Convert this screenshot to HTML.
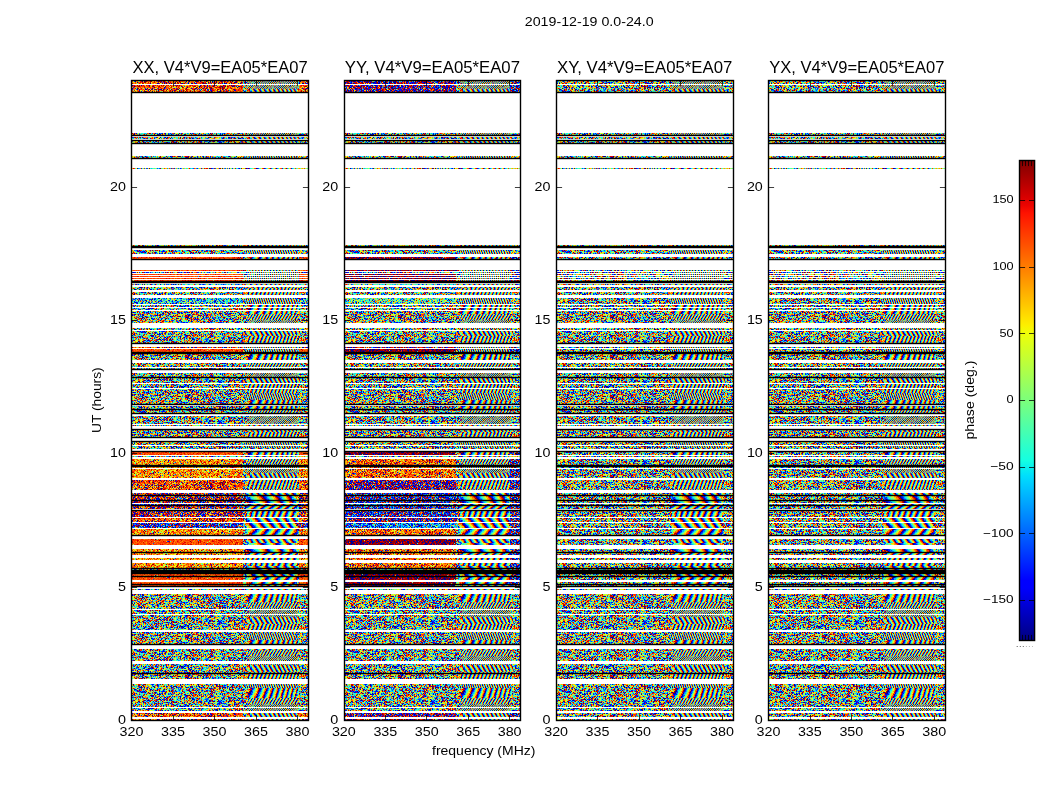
<!DOCTYPE html>
<html><head><meta charset="utf-8"><title>phase</title>
<style>html,body{margin:0;padding:0;background:#fff}svg{display:block}text{font-family:"Liberation Sans", sans-serif;fill:#000}</style>
</head><body>
<svg width="1050" height="800" viewBox="0 0 1050 800">
<defs><pattern id="Ln" width="111" height="40" patternUnits="userSpaceOnUse"><rect width="111" height="40" fill="#009"/><g transform="translate(0,.5)" fill="none" stroke-width="1" shape-rendering="crispEdges"><path stroke="#00d" d="M13 0h1M47 0h1M65 0h1M77 0h1M92 0h1M102 0h1M6 1h1M10 1h1M72 1h1M78 1h1M100 1h1M108 1h1M28 2h1M46 2h1M51 2h2M76 2h1M105 2h1M0 3h1M9 3h1M17 3h1M48 3h1M92 3h1M95 3h1M20 4h1M36 4h1M48 4h1M50 4h1M55 4h1M74 4h1M78 4h1M84 4h1M98 4h1M100 4h1M48 5h1M72 5h1M34 6h1M64 6h1M79 6h1M84 6h1M86 6h1M88 6h1M95 6h2M99 6h1M7 7h1M15 7h1M40 7h1M56 7h1M72 7h1M90 7h1M79 8h1M87 8h1M97 8h1M107 8h1M11 9h1M19 9h1M25 9h1M57 9h1M5 10h1M18 10h1M31 10h1M39 10h1M57 10h1M70 10h1M103 10h1M109 10h1M6 11h1M8 11h1M31 11h1M78 11h1M9 12h2M64 12h1M66 12h1M2 13h1M4 13h1M23 13h1M30 13h1M33 13h1M80 13h1M92 13h1M26 14h2M69 14h1M73 14h1M88 14h1M60 15h1M73 15h1M110 15h1M19 16h3M47 16h1M10 17h1M24 17h1M39 17h1M91 17h1M102 17h1M12 18h1M15 18h1M22 18h1M50 18h1M67 18h1M90 18h1M16 19h1M26 19h1M30 19h1M40 19h1M61 19h2M92 19h1M105 19h1M15 20h1M29 20h1M32 20h1M37 20h1M74 20h1M78 20h1M89 20h1M98 20h1M100 20h1M11 21h1M21 21h1M61 21h1M68 21h1M86 21h1M91 21h1M13 22h1M42 22h1M69 22h1M87 22h1M89 22h1M103 22h1M3 23h1M30 23h1M38 23h1M62 23h1M76 23h1M86 23h2M7 24h1M19 24h1M36 24h1M40 24h1M53 25h1M77 25h1M97 25h1M107 25h1M2 26h1M13 26h1M48 26h1M56 26h1M82 26h1M84 26h1M90 26h1M94 26h1M5 27h1M12 27h1M25 27h1M49 27h2M58 27h2M62 27h1M87 27h1M91 27h1M11 28h1M18 28h1M63 28h1M67 28h1M101 28h1M14 29h1M23 29h1M44 29h1M58 29h2M24 30h1M33 30h1M36 30h1M44 30h1M60 30h1M64 30h1M77 30h1M81 30h1M99 30h2M103 30h1M18 31h1M62 31h1M71 31h1M80 31h1M102 31h1M2 32h1M12 32h1M14 32h1M18 32h1M49 32h1M52 32h1M65 32h1M106 32h1M37 33h1M49 33h2M59 33h1M64 33h1M83 33h1M89 33h1M97 33h1M99 33h1M101 33h1M0 34h1M6 34h1M15 34h1M37 34h1M73 34h1M94 34h1M96 34h1M107 34h1M109 34h1M10 35h1M23 35h1M25 35h1M72 35h1M90 35h1M102 35h1M65 36h1M71 36h1M74 37h1M86 37h1M7 38h1M10 38h1M46 38h1M57 38h1M94 38h1M101 38h1M21 39h1M29 39h1M59 39h1M62 39h1M76 39h1M87 39h1M95 39h1"/><path stroke="#01f" d="M3 0h1M40 0h1M87 0h1M89 0h1M60 1h1M7 2h1M54 2h2M71 2h1M79 2h1M87 2h3M106 2h1M45 3h1M57 3h1M63 3h1M77 3h1M91 3h1M103 3h1M21 4h1M65 4h1M11 5h1M26 5h1M39 5h1M80 5h1M92 5h2M6 6h1M22 6h1M35 6h1M38 6h2M59 6h2M66 6h1M55 7h1M58 7h1M68 7h1M95 7h1M110 7h1M9 8h1M42 8h1M48 8h1M65 8h1M69 8h1M100 8h1M54 9h1M78 9h1M110 9h1M55 10h1M63 10h1M74 10h2M89 10h1M10 11h2M27 11h1M30 11h1M32 11h1M44 11h1M73 11h1M106 11h1M12 12h1M24 12h1M82 12h1M95 12h1M103 12h1M38 13h1M42 13h1M49 13h1M60 13h1M88 13h1M110 13h1M36 14h1M44 14h1M31 15h1M53 15h1M78 15h2M101 15h1M6 16h1M8 16h1M23 16h1M40 16h1M53 16h2M79 16h1M86 16h1M0 17h1M32 17h1M77 17h1M99 17h1M18 18h1M61 18h1M20 19h1M24 19h1M32 19h1M45 19h1M52 19h1M97 19h1M101 19h1M13 20h1M17 20h1M35 20h1M62 20h1M104 20h1M109 20h1M23 21h1M69 21h1M87 21h2M109 21h1M7 22h1M22 22h1M26 22h1M50 22h1M88 22h1M110 22h1M0 23h1M22 23h1M57 23h1M89 23h1M91 23h1M93 23h1M102 23h1M15 24h1M24 24h1M52 24h3M60 24h1M85 24h1M87 24h1M96 24h1M103 24h1M1 25h1M9 25h1M24 25h1M26 25h1M29 25h1M82 25h1M102 25h1M9 26h1M17 26h1M19 26h1M24 26h1M31 26h1M47 26h1M86 26h1M91 26h1M93 26h1M101 26h1M13 27h1M34 27h1M42 27h1M107 27h1M19 28h1M52 28h2M56 28h2M66 28h1M87 28h1M6 29h3M15 29h2M24 29h1M41 29h1M69 29h1M80 29h1M83 29h1M92 29h1M103 29h1M110 29h1M0 30h2M26 30h1M52 30h1M84 30h1M95 30h1M46 31h1M64 31h1M66 31h1M0 32h1M3 32h1M7 32h1M15 32h2M31 32h1M47 32h1M53 32h1M56 32h1M66 32h1M77 32h1M95 32h1M105 32h1M17 33h1M25 33h1M40 33h1M69 33h1M72 33h1M95 33h1M8 34h1M11 34h1M29 34h1M31 34h1M55 34h1M60 34h1M75 34h1M85 34h1M90 34h1M2 35h1M30 35h1M68 35h1M95 35h1M39 36h1M78 36h1M96 36h1M32 37h1M53 37h1M65 37h1M80 37h1M83 37h1M88 37h1M102 37h1M20 38h1M22 38h1M29 38h2M36 38h1M81 38h1M26 39h1M64 39h2M72 39h1M99 39h1M104 39h1"/><path stroke="#04f" d="M5 0h1M39 0h1M41 0h1M84 0h2M90 0h1M0 1h1M20 1h1M34 1h1M44 1h2M56 1h1M80 1h1M2 2h1M49 2h2M91 2h1M19 4h1M53 4h1M75 4h1M85 4h1M20 5h1M23 5h1M102 5h1M107 5h1M7 6h1M26 6h1M53 6h1M81 6h1M92 6h1M34 7h1M41 7h1M45 7h3M71 7h1M97 7h1M101 7h1M108 7h1M12 8h1M14 8h2M25 8h1M27 8h1M46 8h1M61 8h1M80 8h1M83 8h1M93 8h1M95 8h1M106 8h1M4 9h1M21 9h1M31 9h1M40 9h2M48 9h1M66 9h2M106 9h1M2 10h1M4 10h1M47 10h1M69 10h1M7 11h1M29 11h1M41 11h1M43 11h1M66 11h1M94 11h1M30 12h1M80 12h1M104 12h1M110 12h1M20 13h1M29 13h1M36 13h1M76 13h1M90 13h1M105 13h1M33 14h1M66 14h1M103 14h1M2 15h1M27 15h1M90 15h1M27 16h1M71 16h1M74 16h1M92 16h1M1 17h1M22 17h1M54 17h1M59 17h1M63 17h1M69 17h1M100 17h1M106 17h1M4 18h1M11 18h1M32 18h1M40 18h1M52 18h1M64 18h1M75 18h1M82 18h1M96 18h3M110 18h1M14 19h1M31 19h1M34 19h1M48 19h1M73 19h3M90 19h1M0 20h1M25 20h1M38 20h1M105 20h1M0 21h1M14 21h1M17 21h1M72 21h3M32 22h2M36 22h2M65 22h1M28 23h1M36 23h1M39 23h1M51 23h1M77 23h1M79 23h1M85 23h1M90 23h1M92 23h1M107 23h2M25 24h1M28 24h1M33 24h1M39 24h1M45 24h1M59 24h1M94 24h1M98 24h1M20 25h1M23 25h1M41 25h1M54 25h1M68 25h1M73 25h1M75 25h1M78 25h1M90 25h1M1 26h1M51 26h1M53 26h1M55 26h1M64 26h1M66 26h1M77 26h1M92 26h1M95 26h1M4 27h1M38 27h1M44 27h1M4 28h1M37 28h1M49 28h1M59 28h1M109 28h1M17 29h1M26 29h1M38 29h1M57 29h1M93 29h1M23 30h1M29 30h1M43 30h1M48 30h1M69 30h1M83 30h1M106 30h1M110 30h1M11 31h2M29 31h1M37 31h1M52 31h1M54 31h1M59 31h1M76 31h1M84 31h1M88 31h1M90 31h1M96 31h1M69 32h1M72 32h1M75 32h1M12 33h1M14 33h1M41 33h3M93 33h1M56 34h1M58 34h1M79 34h1M110 34h1M8 35h1M18 35h2M22 35h1M35 35h1M101 35h1M4 36h1M9 36h1M14 36h1M21 36h1M50 36h1M59 36h1M70 36h1M5 37h1M31 37h1M35 37h1M39 37h1M58 37h1M62 37h2M75 37h2M78 37h1M26 38h1M56 38h1M71 38h1M74 38h1M80 38h1M86 38h1M91 38h1M95 38h1M97 38h1M11 39h1M20 39h1M42 39h1M63 39h1M81 39h1M90 39h1M94 39h1M98 39h1M106 39h1"/><path stroke="#08f" d="M24 0h1M33 0h1M45 0h1M100 0h1M5 1h1M7 1h1M33 1h1M46 1h1M48 1h1M65 1h1M73 1h1M84 1h1M96 1h1M99 1h1M104 1h1M106 1h1M0 2h1M40 2h1M53 2h1M74 2h1M90 2h1M95 2h1M109 2h1M24 3h1M38 3h1M54 3h1M62 3h1M79 3h1M9 4h1M26 4h2M56 4h1M94 4h1M103 4h1M110 4h1M32 5h1M40 5h1M43 5h1M91 5h1M2 6h1M16 6h1M62 6h1M91 6h1M26 7h1M48 7h1M70 7h1M79 7h1M105 7h1M109 7h1M6 8h1M35 8h1M40 8h1M49 8h1M64 8h1M81 8h1M92 8h1M46 9h2M51 9h1M70 9h1M3 10h1M11 10h1M32 10h1M77 10h2M88 10h1M90 10h1M9 11h1M13 11h1M33 11h1M42 11h1M52 11h1M70 11h1M83 11h1M85 11h1M92 11h1M102 11h1M8 12h1M49 12h1M97 12h1M7 13h1M25 13h1M28 13h1M55 13h1M62 13h1M82 13h1M91 13h1M109 13h1M37 14h1M40 14h2M67 14h1M72 14h1M76 14h1M104 14h1M9 15h1M49 15h1M52 15h1M68 15h1M81 15h1M9 16h1M34 16h3M44 16h1M81 16h2M91 16h1M110 16h1M23 17h1M61 17h1M89 17h1M101 17h1M6 18h1M8 18h1M13 18h1M29 18h1M47 18h1M74 18h1M76 18h1M92 18h1M94 18h1M109 18h1M76 19h1M86 19h1M100 19h1M46 20h1M75 20h1M82 20h1M87 20h2M103 20h1M15 21h1M42 21h1M75 21h1M79 21h1M90 21h1M92 21h1M108 21h1M20 22h1M77 22h1M108 22h1M11 23h1M14 23h1M19 23h1M29 23h1M47 23h2M61 23h1M71 23h1M82 23h1M103 23h1M1 24h1M6 24h1M46 24h1M65 24h1M67 24h1M86 24h1M88 24h1M92 24h1M5 25h1M33 25h1M44 25h2M47 25h1M51 25h1M14 26h1M83 26h1M96 26h1M103 26h1M14 27h1M17 27h2M43 27h1M67 27h1M74 27h1M76 27h1M98 27h1M1 28h1M6 28h1M42 28h1M46 28h1M71 28h1M75 28h1M13 29h1M19 29h1M39 29h1M46 29h1M62 29h1M91 29h1M39 30h1M51 30h1M66 30h2M21 31h1M70 31h1M20 32h1M25 32h1M30 32h1M48 32h1M76 32h1M90 32h1M38 33h1M45 33h1M84 33h1M96 33h1M7 34h1M30 34h1M70 34h1M1 35h1M20 35h1M58 35h2M73 35h1M79 35h1M98 35h1M8 36h1M15 36h1M23 36h1M85 36h1M19 37h1M40 37h1M81 37h1M98 37h1M103 37h1M21 38h1M72 38h1M82 38h1M103 38h1M44 39h1M49 39h1M67 39h1M91 39h1"/><path stroke="#0bf" d="M54 0h1M71 0h2M79 0h1M93 0h1M1 1h1M17 1h1M35 1h1M85 1h1M20 2h1M48 2h1M59 2h1M75 2h1M78 2h1M80 2h1M11 3h1M13 3h1M33 3h1M35 3h1M53 3h1M64 3h1M68 3h1M109 3h2M57 4h1M81 4h1M92 4h1M104 4h1M15 5h1M34 5h1M77 5h1M81 5h1M94 5h1M99 5h1M104 5h1M109 5h1M0 6h1M4 6h1M8 6h1M20 6h1M93 6h1M109 6h1M3 7h1M63 7h2M77 7h1M7 8h1M19 8h1M38 8h1M58 8h1M60 8h1M33 9h1M37 9h1M88 9h1M105 9h1M22 10h1M30 10h1M46 10h1M59 10h1M64 10h1M67 10h1M71 10h1M76 10h1M83 10h1M97 10h1M100 10h1M104 10h1M4 11h1M23 11h1M28 11h1M45 11h1M47 11h1M101 11h1M27 12h1M38 12h1M41 12h1M71 12h1M75 12h1M87 12h1M94 12h1M98 12h2M105 12h2M12 13h2M24 13h1M37 13h1M39 13h1M48 13h1M53 13h1M56 13h1M59 13h1M63 13h1M65 13h1M86 13h1M93 13h1M108 13h1M8 14h1M19 14h1M71 14h1M81 14h1M87 14h1M95 14h2M1 15h1M12 15h1M24 15h1M38 15h1M48 15h1M91 15h1M99 15h1M4 16h1M17 16h1M31 16h1M41 16h1M49 16h1M87 16h1M93 16h1M34 17h1M53 17h1M64 17h1M79 17h1M90 17h1M103 17h1M1 18h1M55 18h1M59 18h1M62 18h1M69 18h1M73 18h1M89 18h1M1 19h1M55 19h1M67 19h1M72 19h1M78 19h1M88 19h1M104 19h1M40 20h1M47 20h1M68 20h1M71 20h1M93 20h1M107 20h2M12 21h1M28 21h1M43 21h1M53 21h1M89 21h1M6 22h1M9 22h1M25 22h1M30 22h1M54 22h1M86 22h1M91 22h1M6 23h1M17 23h1M46 23h1M64 23h1M94 23h1M105 23h1M11 24h1M20 24h1M42 24h1M84 24h1M14 25h1M16 25h1M32 25h1M52 25h1M69 25h1M86 25h1M91 25h1M95 25h1M4 26h1M21 26h1M54 26h1M63 26h1M85 26h1M11 27h1M23 27h2M26 27h1M30 27h2M69 27h1M72 27h1M109 27h1M3 28h1M5 28h1M10 28h1M35 28h1M38 28h1M48 28h1M51 28h1M64 28h2M69 28h1M74 28h1M10 29h1M70 29h1M73 29h1M89 29h1M32 30h1M41 30h1M93 30h1M7 31h1M17 31h1M24 31h1M28 31h1M53 31h1M55 31h1M61 31h1M109 31h1M13 32h1M19 32h1M29 32h1M41 32h1M50 32h1M78 32h1M80 32h1M98 32h1M26 33h1M28 33h1M81 33h1M92 33h1M100 33h1M18 34h1M87 34h1M103 34h1M34 35h1M80 35h1M91 35h1M12 36h1M18 36h1M25 36h1M36 36h1M73 36h1M91 36h2M94 36h1M25 37h1M49 37h1M68 37h1M87 37h1M73 38h1M75 38h1M85 38h1M107 38h1M4 39h1M36 39h1M70 39h1M100 39h1"/><path stroke="#1ee" d="M23 0h1M82 0h1M91 0h1M95 0h1M15 1h1M18 1h1M22 1h1M27 1h1M32 1h1M42 1h1M52 1h1M67 1h1M87 1h1M47 2h1M81 2h2M39 3h1M72 3h1M78 3h1M10 4h1M18 4h1M22 4h1M29 4h1M33 4h1M42 4h2M77 4h1M102 4h1M108 4h1M4 5h1M12 5h1M21 5h1M38 5h1M42 5h1M68 5h1M97 5h1M27 6h1M45 6h1M56 6h2M65 6h1M103 6h1M11 7h1M29 7h1M76 7h1M89 7h1M26 8h1M29 8h1M52 8h1M54 8h1M104 8h2M108 8h1M24 9h1M44 9h1M65 9h1M75 9h1M94 9h1M12 10h1M28 10h1M42 10h1M44 10h1M48 10h1M52 10h2M58 10h1M73 10h1M3 11h1M46 11h1M48 11h1M53 11h2M67 11h1M93 11h1M98 11h1M14 12h1M48 12h1M62 12h1M72 12h1M93 12h1M102 12h1M108 12h1M9 13h2M14 13h1M68 13h1M75 13h1M87 13h1M89 13h1M6 14h1M38 14h1M51 14h1M60 14h1M89 14h1M5 15h2M16 15h2M30 15h1M46 15h1M94 15h1M107 15h1M0 16h1M45 16h1M60 16h1M103 16h1M105 16h1M108 16h1M6 17h1M9 17h1M16 17h2M31 17h1M41 17h1M44 17h1M65 17h1M94 17h1M45 18h1M87 18h1M104 18h1M4 19h1M21 19h1M29 19h1M44 19h1M46 19h1M54 19h1M63 19h1M71 19h1M96 19h1M14 20h1M44 20h1M48 20h1M51 20h1M61 20h1M67 20h1M81 20h1M90 20h2M16 21h1M20 21h1M65 21h1M70 21h1M76 21h1M21 22h1M45 22h1M51 22h1M59 22h1M78 22h1M85 22h1M95 22h1M5 23h1M18 23h1M65 23h1M110 23h1M2 24h1M5 24h1M43 24h1M56 24h1M58 24h1M61 24h2M66 24h1M69 24h1M109 24h1M6 25h1M15 25h1M70 25h1M93 25h1M22 26h1M27 26h1M36 26h1M60 26h1M75 26h1M80 26h1M9 27h1M15 27h1M33 27h1M52 27h1M60 27h1M71 27h1M73 27h1M83 27h1M90 27h1M103 27h1M0 28h1M14 28h1M41 28h1M47 28h1M78 28h1M93 28h1M99 28h2M20 29h1M36 29h1M71 29h1M88 29h1M22 30h1M47 30h1M63 30h1M87 30h1M96 30h1M104 30h1M4 31h1M13 31h1M15 31h1M83 31h1M91 31h1M101 31h1M106 31h1M9 32h1M24 32h1M107 32h1M2 33h2M5 33h2M24 33h1M35 33h1M75 33h1M69 34h1M72 34h1M105 34h1M38 35h1M85 35h1M17 36h1M22 36h1M37 36h1M81 36h1M84 36h1M8 37h1M17 37h1M20 37h1M38 37h1M42 37h1M60 37h1M66 37h1M84 37h1M110 37h1M37 38h1M79 38h1M84 38h1M87 38h1M89 38h1M16 39h1M19 39h1M32 39h1M37 39h1M57 39h1M86 39h1M88 39h1M109 39h1"/><path stroke="#3fb" d="M42 0h1M74 0h1M81 0h1M99 0h1M105 0h1M41 1h1M54 1h1M57 1h1M83 1h1M97 1h1M3 2h1M41 2h1M56 2h1M100 2h1M16 3h1M20 3h1M50 3h1M85 3h1M87 3h1M2 4h1M34 4h1M54 4h1M88 4h3M99 4h1M3 5h1M27 5h1M46 5h1M71 5h1M1 6h1M73 6h1M94 6h1M98 6h1M28 7h1M57 7h1M62 7h1M73 7h1M106 7h1M3 8h1M18 8h1M20 8h1M22 8h1M24 8h1M45 8h1M55 8h1M59 8h1M66 8h1M0 9h1M6 9h1M10 9h1M20 9h1M36 9h1M38 9h1M43 9h1M53 9h1M58 9h1M62 9h1M76 9h1M90 9h1M107 9h1M10 10h1M16 10h1M35 10h1M38 10h1M51 10h1M87 10h1M24 11h1M56 11h1M61 11h1M76 11h1M95 11h2M21 12h1M53 12h1M70 12h1M76 12h1M109 12h1M5 13h1M19 13h1M46 13h1M74 13h1M83 13h1M85 13h1M100 13h2M9 14h1M13 14h1M18 14h1M20 14h1M74 14h1M7 15h1M10 15h1M22 15h1M28 15h1M3 16h1M16 16h1M18 16h1M52 16h1M84 16h2M99 16h1M101 16h1M29 17h1M43 17h1M45 17h1M74 17h1M107 17h1M0 18h1M10 18h1M23 18h1M37 18h1M39 18h1M44 18h1M53 18h1M63 18h1M70 18h1M93 18h1M59 19h1M68 19h1M26 20h1M41 20h2M45 20h1M55 20h1M76 20h1M83 20h1M27 21h1M35 21h3M84 21h1M23 22h1M28 22h1M71 22h1M75 22h1M15 23h1M21 23h1M43 23h1M54 23h1M59 23h1M81 23h1M30 24h1M32 24h1M47 24h1M70 24h1M90 24h1M95 24h1M99 24h1M49 25h1M66 25h1M79 25h1M85 25h1M103 25h1M44 26h1M57 26h1M1 27h1M8 27h1M16 27h1M75 27h1M84 27h1M9 28h1M72 28h1M88 28h1M2 29h1M25 29h1M30 29h1M33 29h1M48 29h1M60 29h1M86 29h1M34 30h1M42 30h1M49 30h1M65 30h1M70 30h1M14 31h1M69 31h1M107 31h1M17 32h1M26 32h1M67 32h1M74 32h1M82 32h1M96 32h1M109 32h2M21 33h1M44 33h1M48 33h1M54 33h2M66 33h1M80 33h1M91 33h1M102 33h1M104 33h1M17 34h1M32 34h1M81 34h1M5 35h1M9 35h1M51 35h1M97 35h1M6 36h1M11 36h1M16 36h1M33 36h1M86 36h2M93 36h1M95 36h1M99 36h1M103 36h1M23 37h1M43 37h1M50 37h3M72 37h1M96 37h1M104 37h1M0 38h1M13 38h1M28 38h1M50 38h1M76 38h1M88 38h1M96 38h1M2 39h1M24 39h1M28 39h1M34 39h1M93 39h1"/><path stroke="#6f9" d="M7 0h1M16 0h1M21 0h2M43 0h1M49 0h1M51 0h2M60 0h1M63 0h1M69 0h1M97 0h1M106 0h2M109 0h1M9 1h1M21 1h1M36 1h1M51 1h1M53 1h1M90 1h1M98 1h1M27 2h1M33 2h1M58 2h1M67 2h1M93 2h1M108 2h1M12 3h1M30 3h1M36 3h1M40 3h1M60 3h1M83 3h1M98 3h1M105 3h1M49 4h1M73 4h1M76 4h1M91 4h1M97 4h1M109 4h1M5 5h1M28 5h1M53 5h2M61 5h2M103 5h1M19 6h1M36 6h1M40 6h1M52 6h1M97 6h1M2 7h1M4 7h1M17 7h1M20 7h2M30 7h1M78 7h1M10 8h1M21 8h1M43 8h1M71 8h1M99 8h1M1 9h1M29 9h1M49 9h1M104 9h1M33 10h1M45 10h1M94 10h1M96 10h1M102 10h1M19 11h2M22 11h1M55 11h1M71 11h1M84 11h1M88 11h1M97 11h1M4 12h3M18 12h1M25 12h1M37 12h1M56 12h1M69 12h1M78 12h1M84 12h1M11 13h1M34 13h1M52 13h1M72 13h1M77 13h1M10 14h1M15 14h1M43 14h1M47 14h1M50 14h1M55 14h2M85 14h1M29 15h1M34 15h4M77 15h1M86 15h1M105 15h1M14 16h2M89 16h1M98 16h1M100 16h1M40 17h1M70 17h2M80 17h2M7 18h1M95 18h1M100 18h1M105 18h1M2 19h1M5 19h1M42 19h1M51 19h1M70 19h1M82 19h1M102 19h1M108 19h2M66 20h1M72 20h1M92 20h1M95 20h2M13 21h1M29 21h1M34 21h1M38 21h1M60 21h1M1 22h1M17 22h1M19 22h1M24 22h1M58 22h1M63 22h1M73 22h1M83 22h1M90 22h1M94 22h1M97 22h1M100 22h1M2 23h1M32 23h2M35 23h1M42 23h1M68 23h1M83 23h1M14 24h1M27 24h1M50 24h1M79 24h1M93 24h1M108 24h1M11 25h1M13 25h1M17 25h1M57 25h1M63 25h1M65 25h1M76 25h1M32 26h1M43 26h1M71 26h1M87 26h1M3 27h1M7 27h1M32 27h1M61 27h1M106 27h1M7 28h1M26 28h2M34 28h1M43 28h1M83 28h1M89 28h1M97 28h1M4 29h2M12 29h1M35 29h1M51 29h1M55 29h1M72 29h1M74 29h1M78 29h1M81 29h1M17 30h1M37 30h1M55 30h1M71 30h3M88 30h1M90 30h1M101 30h1M108 30h1M0 31h1M9 31h1M40 31h1M44 31h1M21 32h1M71 32h1M91 32h1M97 32h1M100 32h1M13 33h1M27 33h1M51 33h1M56 33h1M105 33h1M35 34h1M39 34h1M41 34h1M54 34h1M67 34h1M83 34h1M104 34h1M106 34h1M29 35h1M37 35h1M48 35h1M52 35h1M62 35h1M81 35h1M103 35h1M3 36h1M32 36h1M64 36h1M88 36h1M7 37h1M9 37h1M26 37h1M30 37h1M95 37h1M100 37h2M109 37h1M17 38h1M25 38h1M39 38h1M99 38h1M10 39h1M12 39h1M30 39h1M35 39h1M68 39h1M84 39h1"/><path stroke="#9f6" d="M11 0h1M14 1h1M55 1h1M86 1h1M109 1h1M13 2h1M26 2h1M34 2h1M42 2h2M64 2h1M70 2h1M92 2h1M46 3h1M56 3h1M59 3h1M61 3h1M67 3h1M104 3h1M14 4h1M32 4h1M39 4h1M93 4h1M105 4h1M0 5h1M19 5h1M60 5h1M67 5h1M3 6h1M24 6h1M48 6h1M72 6h1M78 6h1M1 7h1M5 7h1M18 7h1M42 7h2M61 7h1M80 7h1M86 7h1M96 7h1M31 8h1M36 8h1M47 8h1M50 8h1M101 8h2M13 9h1M45 9h1M59 9h1M86 9h1M89 9h1M93 9h1M34 10h1M68 10h1M95 10h1M0 11h1M26 11h1M68 11h1M81 11h1M110 11h1M19 12h1M28 12h1M31 12h1M36 12h1M50 12h1M54 12h1M92 12h1M8 13h1M26 13h1M54 13h1M64 13h1M98 13h1M103 13h1M34 14h2M58 14h1M83 14h1M102 14h1M4 15h1M8 15h1M72 15h1M83 15h1M89 15h1M104 15h1M106 15h1M2 16h1M22 16h1M39 16h1M67 16h1M102 16h1M30 17h1M49 17h1M68 17h1M88 17h1M108 17h1M9 18h1M17 18h1M24 18h1M41 18h1M56 18h1M71 18h1M0 19h1M12 19h1M18 19h1M47 19h1M53 19h1M77 19h1M83 19h1M93 19h1M3 20h1M9 20h1M21 20h1M30 20h1M33 20h1M63 20h1M19 21h1M33 21h1M50 21h2M56 21h1M103 21h1M107 21h1M14 22h1M27 22h1M47 22h2M74 22h1M80 22h1M104 22h1M7 23h1M10 23h1M44 23h1M55 23h1M96 23h1M31 24h1M37 24h1M48 24h1M78 24h1M89 24h1M107 24h1M4 25h1M19 25h1M28 25h1M30 25h1M38 25h1M46 25h1M61 25h1M88 25h1M92 25h1M8 26h1M10 26h1M15 26h1M42 26h1M89 26h1M102 26h1M0 27h1M22 27h1M41 27h1M53 27h1M85 27h1M92 27h1M96 27h2M102 27h1M8 28h1M40 28h1M54 28h1M73 28h1M81 28h1M94 28h1M96 28h1M18 29h1M21 29h1M31 29h1M42 29h1M45 29h1M49 29h2M54 29h1M75 29h1M106 29h1M2 30h1M6 30h1M12 30h1M20 30h2M38 30h1M56 30h1M79 30h1M89 30h1M94 30h1M10 31h1M41 31h1M51 31h1M65 31h1M73 31h1M75 31h1M79 31h1M4 32h1M22 32h1M43 32h2M94 32h1M104 32h1M1 33h1M4 33h1M29 33h1M57 33h2M71 33h1M46 34h1M50 34h1M84 34h1M89 34h1M15 35h1M39 35h1M87 35h1M20 36h1M29 36h1M51 36h1M63 36h1M72 36h1M101 36h1M22 37h1M36 37h1M46 37h2M64 37h1M85 37h1M94 37h1M1 38h1M15 38h2M31 38h1M38 38h1M47 38h1M68 38h1M90 38h1M52 39h1M83 39h1M107 39h1"/><path stroke="#bf3" d="M38 0h1M53 0h1M73 0h1M86 0h1M94 0h1M61 1h1M74 1h1M110 1h1M1 2h1M5 2h1M14 2h1M22 2h1M35 2h1M97 2h1M3 3h1M23 3h1M34 3h1M41 3h1M86 3h1M106 3h1M3 4h1M23 4h1M37 4h1M52 4h1M71 4h2M86 4h1M9 5h1M16 5h1M22 5h1M29 5h2M33 5h1M50 5h1M56 5h1M63 5h1M65 5h1M82 5h1M98 5h1M108 5h1M33 6h1M51 6h1M68 6h1M74 6h1M77 6h1M82 6h1M110 6h1M32 7h1M51 7h1M65 7h1M16 8h1M23 8h1M30 8h1M76 8h1M84 8h1M98 8h1M35 9h1M74 9h1M96 9h1M103 9h1M1 10h1M92 10h1M2 11h1M15 11h1M25 11h1M63 11h1M99 11h1M104 11h2M109 11h1M0 12h1M35 12h1M39 12h1M43 12h1M57 12h1M65 12h1M73 12h1M85 12h2M31 13h1M35 13h1M43 13h1M45 13h1M51 13h1M57 13h1M16 14h1M82 14h1M107 14h1M26 15h1M39 15h1M42 15h1M51 15h1M66 15h1M74 15h1M87 15h1M95 15h1M100 15h1M108 15h1M11 16h2M28 16h1M51 16h1M59 16h1M75 16h1M90 16h1M18 17h1M21 17h1M27 17h1M47 17h1M62 17h1M72 17h1M86 17h1M104 17h1M2 18h1M16 18h1M28 18h1M42 18h1M84 18h1M88 18h1M8 19h1M36 19h1M50 19h1M89 19h1M99 19h1M106 19h1M5 20h1M10 20h1M43 20h1M50 20h1M58 20h1M84 20h1M2 21h1M5 21h1M9 21h1M22 21h1M32 21h1M46 21h2M100 21h1M0 22h1M18 22h1M56 22h1M82 22h1M84 22h1M34 23h1M53 23h1M60 23h1M95 23h1M97 23h1M101 23h1M109 23h1M0 24h1M10 24h1M12 24h1M16 24h1M38 24h1M49 24h1M72 24h1M83 24h1M91 24h1M8 25h1M10 25h1M25 25h1M50 25h1M64 25h1M67 25h1M0 26h1M3 26h1M6 26h1M30 26h1M33 26h1M35 26h1M100 26h1M108 26h2M28 27h1M57 27h1M68 27h1M88 27h2M105 27h1M28 28h1M60 28h1M84 28h1M106 28h1M27 29h1M37 29h1M63 29h3M90 29h1M95 29h1M9 30h1M31 30h1M40 30h1M82 30h1M3 31h1M30 31h1M36 31h1M78 31h1M92 31h1M97 31h1M8 32h1M28 32h1M32 32h1M37 32h1M61 32h1M89 32h1M101 32h1M9 33h1M22 33h1M34 33h1M52 33h1M63 33h1M67 33h1M110 33h1M43 34h1M47 34h1M49 34h1M91 34h1M7 35h1M13 35h1M40 35h1M42 35h1M61 35h1M63 35h1M70 35h1M84 35h1M94 35h1M104 35h1M107 35h1M31 36h1M44 36h1M67 36h1M69 36h1M82 36h1M100 36h1M105 36h1M1 37h1M34 37h1M67 37h1M79 37h1M97 37h1M5 38h1M18 38h1M23 38h1M43 38h1M51 38h2M60 38h1M67 38h1M109 38h1M0 39h1M3 39h1M18 39h1M31 39h1M47 39h1M56 39h1M92 39h1"/><path stroke="#ef1" d="M6 0h1M15 0h1M19 0h1M36 0h1M50 0h1M55 0h1M66 0h1M70 0h1M75 0h1M98 0h1M2 1h1M4 1h1M32 2h1M39 2h1M62 2h1M66 2h1M101 2h1M110 2h1M1 3h1M4 3h1M10 3h1M19 3h1M21 3h1M55 3h1M66 3h1M96 3h1M40 4h1M60 4h1M62 4h3M14 5h1M17 5h1M35 5h1M55 5h1M58 5h1M79 5h1M86 5h1M96 5h1M110 5h1M10 6h1M18 6h1M54 6h2M63 6h1M75 6h1M0 7h1M24 7h1M27 7h1M52 7h1M66 7h1M4 8h1M13 8h1M53 8h1M89 8h1M94 8h1M96 8h1M110 8h1M5 9h1M16 9h1M30 9h1M42 9h1M72 9h1M83 9h1M95 9h1M102 9h1M15 10h1M29 10h1M80 10h1M85 10h2M16 11h1M35 11h1M49 11h1M62 11h1M107 11h1M3 12h1M26 12h1M45 12h1M55 12h1M74 12h1M77 12h1M88 12h1M91 12h1M6 13h1M44 13h1M81 13h1M21 14h1M23 14h2M42 14h1M65 14h1M86 14h1M91 14h1M97 14h1M109 14h1M13 15h1M25 15h1M32 15h2M41 15h1M47 15h1M70 15h1M84 15h1M88 15h1M33 16h1M50 16h1M63 16h1M68 16h1M76 16h1M106 16h2M26 17h1M38 17h1M50 17h1M66 17h1M95 17h1M5 18h1M25 18h1M30 18h1M43 18h1M49 18h1M78 18h1M85 18h2M9 19h1M13 19h1M19 19h1M43 19h1M56 19h1M81 19h1M87 19h1M4 20h1M27 20h1M85 20h1M4 21h1M8 21h1M63 21h1M71 21h1M105 21h1M2 22h1M38 22h1M79 22h1M101 22h1M1 23h1M4 23h1M8 23h1M41 23h1M67 23h1M74 23h1M84 23h1M98 23h1M55 24h1M82 24h1M37 25h1M62 25h1M94 25h1M101 25h1M108 25h1M67 26h1M72 26h2M99 26h1M110 26h1M2 27h1M27 27h1M46 27h1M65 27h1M78 27h1M82 27h1M99 27h1M104 27h1M13 28h1M23 28h1M32 28h1M36 28h1M39 28h1M55 28h1M58 28h1M61 28h1M90 28h1M11 29h1M32 29h1M43 29h1M52 29h2M76 29h1M79 29h1M94 29h1M100 29h1M18 30h2M92 30h1M109 30h1M2 31h1M19 31h1M27 31h1M56 31h1M67 31h2M81 31h1M85 31h1M87 31h1M6 32h1M70 32h1M73 32h1M79 32h1M85 32h1M60 33h1M85 33h1M16 34h1M40 34h1M48 34h1M59 34h1M99 34h1M101 34h1M3 35h2M16 35h2M49 35h1M92 35h1M105 35h1M1 36h1M24 36h1M26 36h1M49 36h1M62 36h1M77 36h1M106 36h1M108 36h1M0 37h1M21 37h1M24 37h1M41 37h1M57 37h1M93 38h1M105 38h1M110 38h1M1 39h1M41 39h1M46 39h1M51 39h1M80 39h1"/><path stroke="#fc0" d="M12 0h1M25 0h1M34 0h2M58 0h1M103 0h1M108 0h1M8 1h1M28 1h1M43 1h1M50 1h1M62 1h1M103 1h1M6 2h1M11 2h2M15 2h1M23 2h1M44 2h1M98 2h2M7 3h1M51 3h1M58 3h1M101 3h1M0 4h1M5 4h1M16 4h2M47 4h1M69 4h1M96 4h1M18 5h1M31 5h1M41 5h1M51 5h1M73 5h1M83 5h1M106 5h1M14 6h2M17 6h1M23 6h1M28 6h1M30 6h1M61 6h1M69 6h1M80 6h1M83 6h1M13 7h1M25 7h1M31 7h1M33 7h1M36 7h3M74 7h1M84 7h1M0 8h1M11 8h1M33 8h2M56 8h1M67 8h2M85 8h1M91 8h1M23 9h1M52 9h1M68 9h1M71 9h1M77 9h1M49 10h1M17 11h1M36 11h1M60 11h1M65 11h1M108 11h1M15 12h1M46 12h1M90 12h1M107 12h1M66 13h1M69 13h2M73 13h1M104 13h1M0 14h1M3 14h1M17 14h1M29 14h1M31 14h1M48 14h1M54 14h1M70 14h1M99 14h2M14 15h2M43 15h1M64 15h1M76 15h1M82 15h1M97 15h2M24 16h1M57 16h1M72 16h1M19 17h1M75 17h1M93 17h1M21 18h1M26 18h1M33 18h1M72 18h1M77 18h1M79 18h1M83 18h1M22 19h1M103 19h1M8 20h1M36 20h1M49 20h1M53 20h1M70 20h1M73 20h1M1 21h1M83 21h1M93 21h1M104 21h1M106 21h1M10 22h1M49 22h1M53 22h1M57 22h1M98 22h2M105 22h1M31 23h1M63 23h1M70 23h1M75 23h1M99 23h1M21 24h1M23 24h1M51 24h1M75 24h1M101 24h1M12 25h1M22 25h1M35 25h1M60 25h1M81 25h1M84 25h1M99 25h1M106 25h1M12 26h1M18 26h1M37 26h1M58 26h1M10 27h1M54 27h1M66 27h1M77 27h1M86 27h1M25 28h1M33 28h1M77 28h1M80 28h1M95 28h1M104 28h1M9 29h1M47 29h1M61 29h1M66 29h1M68 29h1M101 29h1M14 30h1M59 30h1M76 30h1M86 30h1M102 30h1M1 31h1M43 31h1M48 31h1M93 31h1M105 31h1M108 31h1M58 32h1M84 32h1M102 32h2M0 33h1M18 33h1M39 33h1M76 33h2M19 34h3M24 34h1M26 34h1M42 34h1M52 34h1M80 34h1M100 34h1M102 34h1M14 35h1M31 35h2M46 35h2M64 35h1M89 35h1M93 35h1M109 35h1M0 36h1M30 36h1M58 36h1M61 36h1M83 36h1M102 36h1M107 36h1M110 36h1M18 37h1M37 37h1M45 37h1M48 37h1M69 37h2M107 37h1M2 38h1M27 38h1M42 38h1M69 38h1M78 38h1M102 38h1M38 39h1M45 39h1M73 39h1M75 39h1M85 39h1M89 39h1"/><path stroke="#f90" d="M17 0h1M46 0h1M62 0h1M104 0h1M3 1h1M23 1h1M29 1h1M63 1h1M68 1h2M77 1h1M81 1h1M25 2h1M36 2h1M38 2h1M57 2h1M60 2h2M63 2h1M73 2h1M83 2h1M25 3h2M29 3h1M80 3h1M97 3h1M4 4h1M15 4h1M31 4h1M35 4h1M38 4h1M41 4h1M45 4h1M70 4h1M2 5h1M8 5h1M37 5h1M44 5h1M47 5h1M57 5h1M78 5h1M5 6h1M13 6h1M101 6h1M6 7h1M35 7h1M85 7h1M94 7h1M8 8h1M44 8h1M51 8h1M63 8h1M70 8h1M86 8h1M17 9h1M22 9h1M28 9h1M82 9h1M84 9h1M92 9h1M108 9h1M0 10h1M14 10h1M19 10h1M26 10h1M72 10h1M84 10h1M101 10h1M106 10h1M59 11h1M86 11h2M17 12h1M29 12h1M32 12h1M47 12h1M83 12h1M94 13h1M4 14h1M32 14h1M57 14h1M68 14h1M75 14h1M93 14h1M105 14h2M45 15h1M59 15h1M85 15h1M5 16h1M43 16h1M56 16h1M64 16h1M66 16h1M73 16h1M88 16h1M94 16h1M97 16h1M12 17h1M14 17h1M56 17h1M58 17h1M67 17h1M84 17h2M87 17h1M3 18h1M68 18h1M80 18h1M7 19h1M15 19h1M17 19h1M58 19h1M80 19h1M84 19h1M91 19h1M94 19h1M60 20h1M101 20h1M3 21h1M25 21h1M31 21h1M54 21h1M57 21h1M59 21h1M95 21h1M29 22h1M62 22h1M70 22h1M81 22h1M92 22h2M106 22h1M9 23h1M12 23h1M37 23h1M100 23h1M18 24h1M77 24h1M7 25h1M27 25h1M40 25h1M71 25h1M87 25h1M98 25h1M46 26h1M68 26h1M70 26h1M74 26h1M76 26h1M79 26h1M81 26h1M88 26h1M97 26h1M107 26h1M29 27h1M36 27h2M63 27h1M81 27h1M95 27h1M108 27h1M15 28h1M44 28h1M62 28h1M76 28h1M79 28h1M91 28h1M98 28h1M108 28h1M34 29h1M96 29h1M102 29h1M4 30h1M7 30h1M25 30h1M46 30h1M62 30h1M74 30h1M91 30h1M8 31h1M20 31h1M26 31h1M31 31h1M35 31h1M38 31h1M47 31h1M50 31h1M57 31h1M42 32h1M68 32h1M86 32h1M99 32h1M108 32h1M10 33h1M33 33h1M62 33h1M74 33h1M78 33h1M86 33h1M106 33h1M4 34h1M12 34h3M44 34h1M51 34h1M68 34h1M86 34h1M92 34h1M12 35h1M65 35h1M76 35h1M82 35h1M86 35h1M110 35h1M2 36h1M5 36h1M27 36h1M35 36h1M66 36h1M79 36h1M90 36h1M3 37h1M29 37h1M61 37h1M77 37h1M89 37h1M105 37h1M11 38h1M32 38h1M48 38h1M54 38h1M64 38h1M8 39h1M14 39h1M23 39h1M27 39h1M40 39h1M50 39h1M58 39h1M71 39h1M96 39h1M101 39h1"/><path stroke="#f60" d="M1 0h1M4 0h1M20 0h1M26 0h2M29 0h2M64 0h1M11 1h1M13 1h1M16 1h1M25 1h1M39 1h1M47 1h1M58 1h1M70 1h1M102 1h1M8 2h2M16 2h1M19 2h1M30 2h2M37 2h1M65 2h1M84 2h2M102 2h1M18 3h1M73 3h2M76 3h1M94 3h1M102 3h1M107 3h1M24 4h1M44 4h1M51 4h1M58 4h1M67 4h2M79 4h2M13 5h1M45 5h1M49 5h1M59 5h1M75 5h1M88 5h2M95 5h1M37 6h1M46 6h2M105 6h2M14 7h1M23 7h1M81 7h1M103 7h1M73 8h1M12 9h1M14 9h1M39 9h1M55 9h1M63 9h1M69 9h1M73 9h1M17 10h1M21 10h1M36 10h1M54 10h1M66 10h1M1 11h1M18 11h1M21 11h1M38 11h1M82 11h1M100 11h1M103 11h1M2 12h1M51 12h1M1 13h1M16 13h1M21 13h1M97 13h1M5 14h1M11 14h1M45 14h1M61 14h1M78 14h1M80 14h1M94 14h1M108 14h1M44 15h1M50 15h1M58 15h1M62 15h1M93 15h1M96 15h1M1 16h1M13 16h1M25 16h1M46 16h1M83 16h1M4 17h1M13 17h1M42 17h1M46 17h1M55 17h1M60 17h1M73 17h1M36 18h1M46 18h1M51 18h1M81 18h1M10 19h2M23 19h1M39 19h1M41 19h1M57 19h1M64 19h2M79 19h1M95 19h1M6 20h2M20 20h1M57 20h1M45 21h1M52 21h1M62 21h1M66 21h1M3 22h2M31 22h1M64 22h1M20 23h1M25 23h1M52 23h1M66 23h1M3 24h1M8 24h2M13 24h1M17 24h1M29 24h1M35 24h1M73 24h2M80 24h1M100 24h1M0 25h1M2 25h1M21 25h1M58 25h1M72 25h1M89 25h1M104 25h1M109 25h2M7 26h1M26 26h1M38 26h1M40 26h1M59 26h1M62 26h1M48 27h1M55 27h1M64 27h1M94 27h1M100 27h1M22 28h1M82 28h1M86 28h1M22 29h1M28 29h1M77 29h1M8 30h1M10 30h1M13 30h1M68 30h1M75 30h1M80 30h1M98 30h1M22 31h1M25 31h1M49 31h1M63 31h1M74 31h1M95 31h1M51 32h1M62 32h2M81 32h1M11 33h1M20 33h1M23 33h1M32 33h1M90 33h1M108 33h1M5 34h1M9 34h1M22 34h2M36 34h1M53 34h1M63 34h1M95 34h1M21 35h1M33 35h1M99 35h1M43 36h1M52 36h1M57 36h1M75 36h1M80 36h1M12 37h2M33 37h1M44 37h1M90 37h1M99 37h1M6 38h1M35 38h1M62 38h1M104 38h1M108 38h1M7 39h1M43 39h1M53 39h2M61 39h1M79 39h1M110 39h1"/><path stroke="#f30" d="M9 0h2M14 0h1M18 0h1M32 0h1M37 0h1M61 0h1M67 0h1M76 0h1M83 0h1M101 0h1M19 1h1M24 1h1M38 1h1M64 1h1M89 1h1M92 1h2M10 2h1M18 2h1M21 2h1M96 2h1M107 2h1M42 3h1M70 3h2M82 3h1M84 3h1M108 3h1M8 4h1M46 4h1M82 4h1M107 4h1M24 5h1M52 5h1M64 5h1M74 5h1M12 6h1M29 6h1M70 6h1M89 6h1M102 6h1M16 7h1M50 7h1M53 7h1M83 7h1M99 7h1M2 8h1M32 8h1M37 8h1M41 8h1M62 8h1M8 9h1M26 9h2M50 9h1M56 9h1M79 9h2M99 9h1M6 10h1M8 10h2M41 10h1M82 10h1M105 10h1M107 10h1M51 11h1M69 11h1M77 11h1M90 11h1M7 12h1M34 12h1M44 12h1M60 12h1M3 13h1M15 13h1M22 13h1M40 13h2M71 13h1M79 13h1M96 13h1M99 13h1M102 13h1M62 14h1M3 15h1M40 15h1M69 15h1M75 15h1M92 15h1M29 16h2M32 16h1M61 16h2M11 17h1M15 17h1M20 17h1M36 17h2M83 17h1M92 17h1M98 17h1M105 17h1M19 18h2M31 18h1M66 18h1M101 18h1M3 19h1M49 19h1M69 19h1M98 19h1M110 19h1M11 20h1M18 20h1M23 20h1M28 20h1M31 20h1M52 20h1M54 20h1M69 20h1M99 20h1M39 21h1M49 21h1M64 21h1M98 21h1M101 21h1M8 22h1M15 22h1M40 22h1M66 22h2M109 22h1M16 23h1M27 23h1M40 23h1M45 23h1M49 23h1M56 23h1M73 23h1M78 23h1M88 23h1M104 23h1M26 24h1M64 24h1M68 24h1M76 24h1M110 24h1M36 25h1M83 25h1M105 25h1M20 26h1M29 26h1M105 26h1M101 27h1M30 28h1M45 28h1M68 28h1M85 28h1M92 28h1M103 28h1M0 29h2M3 29h1M40 29h1M67 29h1M98 29h1M108 29h1M15 30h1M27 30h1M35 30h1M78 30h1M23 31h1M42 31h1M58 31h1M77 31h1M89 31h1M103 31h1M34 32h1M39 32h1M54 32h1M87 32h2M7 33h2M15 33h1M19 33h1M46 33h1M53 33h1M61 33h1M65 33h1M70 33h1M79 33h1M1 34h1M27 34h1M34 34h1M38 34h1M65 34h2M74 34h1M76 34h3M26 35h1M44 35h2M50 35h1M55 35h1M60 35h1M71 35h1M77 35h2M96 35h1M41 36h1M76 36h1M98 36h1M109 36h1M4 37h1M16 37h1M73 37h1M82 37h1M93 37h1M14 38h1M41 38h1M49 38h1M58 38h1M66 38h1M83 38h1M6 39h1M22 39h1M39 39h1M60 39h1M74 39h1M77 39h1M97 39h1M102 39h1"/><path stroke="#d00" d="M0 0h1M8 0h1M31 0h1M44 0h1M57 0h1M68 0h1M78 0h1M96 0h1M12 1h1M31 1h1M40 1h1M75 1h2M88 1h1M4 2h1M29 2h1M45 2h1M68 2h1M6 3h1M8 3h1M15 3h1M31 3h1M37 3h1M43 3h1M47 3h1M65 3h1M75 3h1M89 3h1M6 4h2M11 4h1M61 4h1M95 4h1M106 4h1M1 5h1M36 5h1M69 5h1M76 5h1M85 5h1M25 6h1M76 6h1M85 6h1M108 6h1M10 7h1M19 7h1M49 7h1M59 7h1M88 7h1M102 7h1M107 7h1M1 8h1M39 8h1M57 8h1M72 8h1M74 8h2M82 8h1M103 8h1M9 9h1M64 9h1M85 9h1M87 9h1M109 9h1M13 10h1M24 10h1M50 10h1M60 10h3M79 10h1M93 10h1M98 10h1M108 10h1M110 10h1M34 11h1M40 11h1M74 11h2M89 11h1M1 12h1M11 12h1M20 12h1M42 12h1M58 12h1M63 12h1M67 12h1M79 12h1M81 12h1M18 13h1M32 13h1M50 13h1M61 13h1M84 13h1M95 13h1M14 14h1M49 14h1M64 14h1M77 14h1M98 14h1M23 15h1M61 15h1M63 15h1M71 15h1M80 15h1M102 15h2M109 15h1M7 16h1M26 16h1M38 16h1M55 16h1M65 16h1M70 16h1M77 16h2M95 16h2M109 16h1M2 17h1M5 17h1M7 17h1M25 17h1M51 17h1M57 17h1M82 17h1M109 17h1M14 18h1M35 18h1M6 19h1M25 19h1M33 19h1M35 19h1M66 19h1M19 20h1M22 20h1M24 20h1M34 20h1M56 20h1M79 20h1M26 21h1M44 21h1M55 21h1M58 21h1M80 21h1M94 21h1M110 21h1M12 22h1M16 22h1M46 22h1M55 22h1M61 22h1M72 22h1M13 23h1M69 23h1M22 24h1M34 24h1M44 24h1M105 24h2M34 25h1M39 25h1M100 25h1M5 26h1M16 26h1M25 26h1M28 26h1M39 26h1M41 26h1M65 26h1M69 26h1M104 26h1M21 27h1M70 27h1M79 27h1M93 27h1M110 27h1M24 28h1M29 28h1M50 28h1M102 28h1M105 28h1M107 28h1M29 29h1M56 29h1M82 29h1M99 29h1M105 29h1M107 29h1M109 29h1M3 30h1M11 30h1M45 30h1M57 30h1M97 30h1M105 30h1M5 31h2M32 31h1M34 31h1M39 31h1M82 31h1M99 31h1M104 31h1M11 32h1M36 32h1M59 32h1M64 32h1M82 33h1M94 33h1M109 33h1M33 34h1M62 34h1M64 34h1M71 34h1M82 34h1M97 34h2M6 35h1M83 35h1M88 35h1M100 35h1M7 36h1M19 36h1M42 36h1M45 36h1M53 36h3M68 36h1M2 37h1M6 37h1M28 37h1M8 38h1M24 38h1M33 38h1M40 38h1M53 38h1M59 38h1M61 38h1M106 38h1M5 39h1M13 39h1M15 39h1M25 39h1M48 39h1M66 39h1M103 39h1"/><path stroke="#900" d="M2 0h1M59 0h1M110 0h1M30 1h1M71 1h1M79 1h1M82 1h1M91 1h1M94 1h2M107 1h1M72 2h1M77 2h1M86 2h1M104 2h1M5 3h1M22 3h1M44 3h1M49 3h1M52 3h1M69 3h1M81 3h1M88 3h1M99 3h1M12 4h2M28 4h1M30 4h1M59 4h1M83 4h1M101 4h1M6 5h2M10 5h1M70 5h1M87 5h1M90 5h1M100 5h2M11 6h1M31 6h2M41 6h1M43 6h1M50 6h1M58 6h1M87 6h1M90 6h1M100 6h1M104 6h1M75 7h1M82 7h1M87 7h1M92 7h1M98 7h1M17 8h1M28 8h1M78 8h1M88 8h1M109 8h1M7 9h1M15 9h1M32 9h1M34 9h1M60 9h1M81 9h1M91 9h1M98 9h1M100 9h1M23 10h1M25 10h1M27 10h1M40 10h1M43 10h1M56 10h1M91 10h1M5 11h1M14 11h1M37 11h1M39 11h1M57 11h1M64 11h1M72 11h1M79 11h2M22 12h1M33 12h1M40 12h1M52 12h1M61 12h1M89 12h1M96 12h1M100 12h1M0 13h1M47 13h1M106 13h1M1 14h1M7 14h1M12 14h1M30 14h1M53 14h1M59 14h1M63 14h1M79 14h1M92 14h1M110 14h1M11 15h1M18 15h1M21 15h1M56 15h1M65 15h1M10 16h1M37 16h1M69 16h1M3 17h1M8 17h1M76 17h1M78 17h1M110 17h1M48 18h1M54 18h1M57 18h2M65 18h1M91 18h1M99 18h1M102 18h2M27 19h1M37 19h1M107 19h1M1 20h1M12 20h1M80 20h1M94 20h1M110 20h1M7 21h1M10 21h1M18 21h1M30 21h1M40 21h2M67 21h1M78 21h1M85 21h1M97 21h1M99 21h1M102 21h1M5 22h1M34 22h1M41 22h1M43 22h1M60 22h1M68 22h1M102 22h1M107 22h1M23 23h1M26 23h1M50 23h1M58 23h1M72 23h1M80 23h1M106 23h1M4 24h1M41 24h1M71 24h1M81 24h1M97 24h1M3 25h1M18 25h1M42 25h1M48 25h1M55 25h1M59 25h1M96 25h1M78 26h1M98 26h1M6 27h1M19 27h1M40 27h1M45 27h1M17 28h1M21 28h1M70 28h1M110 28h1M85 29h1M104 29h1M16 30h1M28 30h1M53 30h1M45 31h1M72 31h1M98 31h1M110 31h1M5 32h1M10 32h1M40 32h1M45 32h1M57 32h1M93 32h1M16 33h1M30 33h1M36 33h1M47 33h1M2 34h1M28 34h1M45 34h1M61 34h1M108 34h1M36 35h1M43 35h1M53 35h2M67 35h1M69 35h1M74 35h1M10 36h1M28 36h1M40 36h1M60 36h1M74 36h1M89 36h1M15 37h1M56 37h1M59 37h1M91 37h1M106 37h1M108 37h1M3 38h2M9 38h1M45 38h1M65 38h1M77 38h1M92 38h1M55 39h1M78 39h1M105 39h1"/></g></pattern>
<pattern id="LR" width="111" height="12" patternUnits="userSpaceOnUse"><rect width="111" height="12" fill="#f30"/><g transform="translate(0,.5)" fill="none" stroke-width="1" shape-rendering="crispEdges"><path stroke="#009" d="M23 11h1M61 11h1"/><path stroke="#00d" d="M36 1h1M108 5h1"/><path stroke="#01f" d="M74 4h1"/><path stroke="#04f" d="M35 1h1M21 3h1M97 3h1M5 5h1M59 5h1"/><path stroke="#08f" d="M9 9h1"/><path stroke="#0bf" d="M66 0h1M105 9h1"/><path stroke="#1ee" d="M38 1h1"/><path stroke="#3fb" d="M86 7h1M37 8h1"/><path stroke="#6f9" d="M25 11h1"/><path stroke="#9f6" d="M22 1h1M75 2h1M1 4h1M81 4h1"/><path stroke="#bf3" d="M77 1h1"/><path stroke="#fc0" d="M34 1h1M101 2h1M93 3h1M106 3h1M77 10h1M22 11h1"/><path stroke="#f90" d="M7 0h1M43 0h1M62 0h1M70 0h1M83 0h1M4 1h1M11 1h1M25 1h1M50 1h1M61 1h1M71 1h1M93 1h1M103 1h1M105 1h1M14 2h1M42 2h1M48 2h1M91 2h1M35 3h1M45 3h1M60 3h1M67 3h1M102 3h1M14 4h1M20 4h1M45 4h1M62 4h1M100 4h1M106 4h1M110 4h1M16 5h1M66 5h1M80 5h1M0 6h1M34 6h2M48 6h1M57 6h1M59 6h1M80 6h1M4 7h1M16 7h1M49 7h1M61 7h1M9 8h1M19 8h1M64 8h2M70 8h1M94 8h1M106 8h1M11 9h1M26 9h1M44 9h1M54 9h1M69 9h1M91 9h1M102 9h1M109 9h1M16 10h1M43 10h1M51 10h1M69 10h2M72 10h1M88 10h1M95 10h2M100 10h1M12 11h1M54 11h1M56 11h1M70 11h1M76 11h1M79 11h1M81 11h1M90 11h1M96 11h1M99 11h1M104 11h1"/><path stroke="#f60" d="M16 0h2M19 0h1M29 0h1M31 0h4M38 0h1M44 0h1M47 0h2M50 0h3M58 0h1M61 0h1M64 0h1M69 0h1M71 0h1M77 0h3M85 0h1M90 0h1M93 0h1M97 0h1M100 0h2M105 0h1M107 0h2M110 0h1M1 1h1M3 1h1M6 1h1M14 1h1M18 1h1M24 1h1M26 1h3M30 1h1M39 1h2M42 1h3M47 1h1M49 1h1M53 1h4M60 1h1M62 1h3M67 1h1M72 1h5M78 1h1M85 1h2M91 1h2M95 1h1M97 1h2M101 1h1M106 1h2M109 1h1M2 2h1M4 2h3M8 2h1M10 2h1M12 2h2M17 2h1M20 2h1M23 2h2M27 2h1M38 2h2M44 2h1M49 2h1M51 2h1M54 2h1M57 2h2M60 2h1M62 2h2M65 2h1M69 2h2M73 2h2M76 2h1M78 2h4M83 2h1M85 2h1M88 2h2M94 2h1M99 2h1M102 2h1M107 2h2M0 3h1M2 3h3M7 3h1M9 3h2M13 3h2M18 3h1M20 3h1M22 3h2M25 3h1M29 3h1M31 3h1M34 3h1M36 3h1M38 3h2M42 3h2M46 3h2M53 3h2M56 3h2M59 3h1M62 3h2M65 3h1M68 3h1M70 3h1M72 3h1M79 3h2M83 3h2M86 3h1M90 3h2M95 3h2M98 3h4M0 4h1M7 4h2M10 4h2M15 4h1M25 4h3M32 4h3M37 4h1M39 4h1M41 4h2M46 4h4M54 4h1M60 4h2M65 4h1M67 4h1M70 4h1M73 4h1M75 4h1M87 4h1M92 4h1M96 4h1M104 4h1M0 5h1M4 5h1M8 5h1M20 5h1M28 5h2M31 5h2M35 5h1M38 5h2M41 5h2M44 5h1M51 5h1M54 5h1M61 5h1M64 5h2M67 5h1M69 5h3M74 5h1M78 5h1M82 5h2M85 5h2M92 5h3M97 5h3M103 5h1M109 5h2M3 6h1M5 6h1M7 6h1M9 6h3M14 6h4M23 6h1M26 6h1M28 6h1M30 6h2M38 6h4M51 6h3M58 6h1M62 6h1M64 6h3M68 6h1M76 6h1M85 6h1M89 6h2M93 6h4M98 6h2M103 6h2M108 6h1M2 7h1M7 7h1M10 7h2M13 7h1M18 7h1M20 7h2M29 7h4M35 7h2M40 7h1M42 7h2M46 7h3M53 7h2M57 7h4M62 7h1M65 7h1M69 7h2M77 7h1M80 7h1M83 7h2M87 7h5M95 7h2M103 7h1M108 7h1M110 7h1M0 8h1M3 8h3M7 8h1M23 8h2M27 8h2M32 8h1M35 8h1M41 8h1M46 8h1M50 8h1M53 8h1M57 8h1M59 8h3M63 8h1M67 8h2M73 8h3M79 8h1M81 8h1M83 8h1M86 8h1M91 8h1M93 8h1M95 8h3M100 8h1M105 8h1M108 8h1M3 9h1M10 9h1M14 9h2M17 9h1M19 9h1M22 9h2M30 9h1M32 9h3M36 9h2M48 9h1M50 9h1M53 9h1M56 9h1M59 9h2M62 9h2M72 9h1M74 9h2M77 9h1M79 9h1M81 9h1M84 9h1M89 9h2M94 9h1M98 9h2M107 9h1M1 10h1M4 10h4M9 10h1M11 10h1M13 10h2M23 10h1M25 10h1M27 10h1M30 10h1M35 10h2M40 10h1M44 10h1M47 10h1M50 10h1M54 10h2M57 10h1M61 10h3M65 10h1M67 10h1M71 10h1M75 10h1M79 10h2M82 10h1M84 10h1M89 10h2M92 10h1M94 10h1M98 10h2M103 10h4M108 10h1M2 11h1M4 11h1M6 11h3M11 11h1M13 11h3M17 11h2M24 11h1M27 11h1M29 11h1M31 11h4M42 11h2M45 11h2M51 11h2M65 11h2M68 11h2M71 11h4M78 11h1M80 11h1M82 11h1M85 11h3M91 11h1M93 11h2M97 11h1M100 11h1M103 11h1M106 11h1"/><path stroke="#d00" d="M5 0h2M49 0h1M67 0h2M80 0h1M86 0h3M92 0h1M98 0h1M103 0h1M0 1h1M5 1h1M19 1h1M31 1h1M41 1h1M45 1h1M66 1h1M68 1h1M80 1h2M89 1h2M99 1h1M0 2h1M11 2h1M34 2h1M37 2h1M52 2h2M59 2h1M68 2h1M72 2h1M86 2h1M90 2h1M100 2h1M104 2h2M109 2h2M17 3h1M40 3h1M51 3h1M66 3h1M75 3h1M78 3h1M92 3h1M103 3h1M105 3h1M110 3h1M5 4h1M18 4h1M28 4h1M30 4h1M50 4h1M53 4h1M56 4h1M58 4h2M85 4h1M88 4h1M109 4h1M2 5h1M9 5h1M14 5h1M17 5h1M21 5h1M24 5h1M26 5h1M34 5h1M37 5h1M40 5h1M56 5h2M60 5h1M77 5h1M79 5h1M91 5h1M102 5h1M19 6h1M24 6h1M45 6h1M47 6h1M55 6h1M63 6h1M71 6h1M73 6h1M77 6h1M87 6h1M92 6h1M105 6h1M107 6h1M109 6h1M8 7h2M39 7h1M41 7h1M51 7h1M56 7h1M63 7h2M66 7h1M74 7h1M76 7h1M97 7h1M100 7h1M1 8h1M11 8h1M15 8h1M20 8h1M33 8h2M40 8h1M47 8h3M72 8h1M76 8h1M101 8h1M7 9h2M42 9h2M52 9h1M61 9h1M65 9h1M70 9h1M76 9h1M96 9h1M100 9h1M0 10h1M12 10h1M26 10h1M38 10h1M45 10h1M48 10h2M56 10h1M73 10h2M83 10h1M93 10h1M110 10h1M1 11h1M19 11h1M28 11h1M37 11h1M41 11h1M48 11h1M58 11h1M60 11h1M64 11h1M77 11h1M84 11h1M89 11h1M105 11h1M110 11h1"/><path stroke="#900" d="M27 0h1M37 1h1M58 1h1M66 2h1M103 4h1M43 5h1M106 5h1M17 7h1M109 8h1M101 11h1"/></g></pattern>
<pattern id="Lr" width="111" height="12" patternUnits="userSpaceOnUse"><rect width="111" height="12" fill="#f30"/><g transform="translate(0,.5)" fill="none" stroke-width="1" shape-rendering="crispEdges"><path stroke="#009" d="M2 0h1M7 0h1M21 0h1M28 0h1M32 0h1M34 0h1M39 0h1M41 0h1M52 0h1M62 0h1M78 0h1M98 0h1M102 0h1M107 0h1M0 1h1M9 1h1M17 1h1M75 1h1M91 1h1M99 1h1M2 2h1M21 2h1M33 2h1M67 2h1M81 2h1M89 2h1M93 2h1M100 2h1M106 2h2M22 3h1M32 3h1M55 3h1M67 3h1M90 3h1M105 3h1M0 4h1M5 4h1M15 4h1M20 4h1M54 4h1M63 4h1M74 4h1M79 4h1M13 5h2M17 5h1M28 5h2M31 5h1M35 5h1M39 5h1M46 5h1M62 5h1M69 5h1M90 5h1M102 5h1M26 6h1M88 6h1M13 7h1M20 7h1M40 7h1M77 7h1M79 7h1M88 7h1M4 8h1M15 8h1M29 8h1M46 8h1M69 8h1M73 8h1M76 8h1M78 8h1M103 8h1M3 9h1M10 9h1M12 9h1M47 9h1M54 9h1M57 9h1M68 9h1M74 9h1M78 9h1M80 9h1M100 9h1M5 10h1M43 10h1M76 10h1M84 10h1M102 10h3M109 10h1M18 11h1M25 11h1M32 11h1M34 11h1M37 11h1M39 11h1M42 11h1M49 11h2M56 11h1M59 11h2M71 11h1M92 11h1M94 11h1M99 11h1M108 11h1"/><path stroke="#00d" d="M5 0h1M10 0h1M37 0h1M68 1h1M49 2h1M72 2h1M101 2h1M104 2h1M32 4h1M42 4h1M59 4h1M64 4h1M71 4h1M5 5h1M19 5h1M65 5h1M78 5h1M93 5h1M7 6h1M42 6h1M79 6h1M102 6h2M47 7h1M87 7h1M89 8h1M95 8h1M29 9h1M65 9h1M32 10h1M36 10h1M80 10h1M26 11h1M63 11h2M74 11h1M90 11h1M93 11h1"/><path stroke="#01f" d="M44 0h1M59 0h1M101 0h1M43 1h1M84 1h1M110 1h1M75 2h1M1 3h1M13 4h1M44 4h1M0 5h1M22 5h1M67 5h1M75 5h2M16 6h1M68 6h1M78 6h1M9 7h1M85 7h1M94 7h1M14 8h1M70 8h1M90 9h1M95 9h1M53 10h1M56 10h1M62 10h1M87 10h1M82 11h1M106 11h1"/><path stroke="#04f" d="M57 0h1M75 0h1M82 1h1M103 1h1M52 2h1M25 4h1M4 5h1M49 6h1M75 6h1M92 6h1M2 9h1M25 9h1M30 10h1"/><path stroke="#08f" d="M79 1h1M33 4h1M97 6h1M13 8h1M55 11h1M78 11h1"/><path stroke="#0bf" d="M81 9h1"/><path stroke="#1ee" d="M68 5h1M91 11h1"/><path stroke="#3fb" d="M4 3h1M97 5h1M7 9h1M35 9h1"/><path stroke="#6f9" d="M48 3h1M48 4h1M82 4h1M1 6h1M25 6h1M60 6h1M29 7h1M72 7h1M43 8h1M71 9h1M102 9h1"/><path stroke="#9f6" d="M38 0h1M69 0h1M67 1h1M37 3h1M60 3h1M11 4h1M59 5h1M9 6h1M23 6h1M69 6h1M10 7h1M106 8h1M1 9h1M63 10h1M5 11h1M29 11h1M75 11h1M85 11h1"/><path stroke="#bf3" d="M49 0h1M13 1h1M19 1h1M66 1h1M87 1h1M42 2h1M51 2h1M40 3h2M76 3h1M94 3h1M104 3h1M7 4h1M16 4h1M3 5h1M21 5h1M38 5h1M47 5h1M13 6h1M45 6h1M63 6h1M86 6h1M2 7h1M4 7h1M28 7h1M36 7h1M84 7h1M1 8h1M45 8h1M48 8h1M50 8h1M104 8h1M6 9h1M27 10h1M50 10h1M107 10h1M58 11h1M98 11h1M105 11h1"/><path stroke="#ef1" d="M74 0h1M109 0h1M33 1h1M37 1h1M53 1h1M85 1h1M94 1h1M32 2h1M38 2h1M59 2h1M64 2h1M105 2h1M49 3h1M52 3h1M62 3h2M66 3h1M23 4h2M49 4h1M57 4h1M52 5h1M74 5h1M84 5h1M98 5h1M3 6h1M8 6h1M17 6h1M35 6h1M46 6h1M53 6h1M77 6h1M21 7h1M23 7h1M30 7h1M41 7h1M19 8h1M38 8h1M40 8h1M42 8h1M60 8h1M100 8h1M55 9h1M77 9h1M79 9h1M108 9h1M19 10h1M41 10h1M44 10h1M49 10h1M74 10h2M91 10h1M106 10h1M9 11h1M12 11h1M22 11h1M28 11h1M80 11h1"/><path stroke="#fc0" d="M40 0h1M48 0h1M50 0h2M58 0h1M76 0h1M85 0h1M93 0h1M95 0h1M106 0h1M50 1h1M54 1h1M56 1h1M70 1h1M86 1h1M107 1h1M23 2h1M43 2h1M48 2h1M53 2h1M83 2h2M94 2h1M0 3h1M3 3h1M25 3h1M42 3h2M53 3h1M58 3h1M73 3h1M93 3h1M101 3h1M4 4h1M17 4h1M55 4h2M69 4h1M76 4h1M93 4h1M104 4h1M18 5h1M30 5h1M36 5h1M58 5h1M70 5h1M77 5h1M89 5h1M92 5h1M4 6h1M11 6h1M14 6h1M19 6h1M33 6h1M87 6h1M99 6h1M44 7h1M64 7h1M70 7h2M81 7h1M83 7h1M97 7h1M106 7h1M17 8h2M22 8h1M24 8h1M58 8h2M67 8h1M84 8h1M109 8h1M11 9h1M20 9h2M23 9h1M34 9h1M62 9h1M67 9h1M106 9h1M110 9h1M1 10h2M4 10h1M15 10h1M17 10h1M24 10h1M4 11h1M19 11h1M41 11h1M47 11h1M95 11h1"/><path stroke="#f90" d="M6 0h1M8 0h1M12 0h1M14 0h1M36 0h1M42 0h1M54 0h1M56 0h1M61 0h1M63 0h2M72 0h2M82 0h2M105 0h1M18 1h1M26 1h1M40 1h1M51 1h2M55 1h1M74 1h1M76 1h1M89 1h2M96 1h1M108 1h1M13 2h1M18 2h2M24 2h1M28 2h1M36 2h1M86 2h1M9 3h1M11 3h1M14 3h1M19 3h1M29 3h3M45 3h1M47 3h1M70 3h1M80 3h2M97 3h1M99 3h2M103 3h1M10 4h1M12 4h1M14 4h1M27 4h1M38 4h2M43 4h1M50 4h1M52 4h1M65 4h1M83 4h1M85 4h2M96 4h2M101 4h1M105 4h2M12 5h1M64 5h1M66 5h1M95 5h2M99 5h1M21 6h1M36 6h1M56 6h1M59 6h1M66 6h1M74 6h1M83 6h1M90 6h1M109 6h1M8 7h1M18 7h2M46 7h1M52 7h1M56 7h1M59 7h1M61 7h1M90 7h1M102 7h1M110 7h1M0 8h1M5 8h1M7 8h2M12 8h1M16 8h1M36 8h1M88 8h1M99 8h1M4 9h1M39 9h2M58 9h1M70 9h1M85 9h3M94 9h1M97 9h1M101 9h1M107 9h1M0 10h1M14 10h1M25 10h1M51 10h2M54 10h2M57 10h2M61 10h1M85 10h1M88 10h1M96 10h2M101 10h1M2 11h1M6 11h1M14 11h1M20 11h1M23 11h1M31 11h1M44 11h1M57 11h1M84 11h1M96 11h1M104 11h1M107 11h1"/><path stroke="#f60" d="M3 0h1M9 0h1M11 0h1M15 0h1M19 0h1M22 0h1M25 0h1M53 0h1M67 0h2M71 0h1M86 0h2M90 0h2M3 1h2M6 1h1M8 1h1M12 1h1M24 1h1M28 1h1M30 1h1M39 1h1M61 1h1M64 1h1M78 1h1M95 1h1M106 1h1M109 1h1M14 2h1M25 2h1M34 2h2M40 2h1M45 2h1M56 2h1M60 2h1M65 2h2M71 2h1M79 2h1M97 2h2M103 2h1M110 2h1M6 3h2M10 3h1M13 3h1M15 3h1M24 3h1M35 3h1M44 3h1M56 3h2M59 3h1M68 3h1M71 3h1M102 3h1M106 3h2M2 4h1M8 4h1M21 4h2M28 4h1M35 4h1M40 4h1M46 4h1M51 4h1M58 4h1M67 4h1M77 4h1M94 4h1M100 4h1M102 4h2M108 4h1M110 4h1M1 5h2M6 5h1M10 5h1M25 5h1M33 5h2M41 5h1M48 5h3M57 5h1M82 5h1M87 5h1M100 5h1M105 5h1M110 5h1M6 6h1M10 6h1M15 6h1M20 6h1M22 6h1M27 6h2M32 6h1M39 6h1M50 6h1M57 6h1M61 6h1M64 6h2M70 6h1M84 6h1M89 6h1M93 6h1M98 6h1M100 6h2M1 7h1M5 7h1M11 7h1M34 7h2M39 7h1M82 7h1M96 7h1M99 7h2M105 7h1M107 7h1M2 8h1M6 8h1M9 8h2M27 8h1M35 8h1M39 8h1M47 8h1M51 8h6M61 8h1M63 8h1M66 8h1M68 8h1M75 8h1M80 8h1M83 8h1M87 8h1M97 8h2M101 8h1M107 8h2M5 9h1M16 9h1M30 9h1M42 9h1M45 9h2M49 9h1M51 9h3M59 9h3M73 9h1M76 9h1M83 9h1M91 9h1M99 9h1M7 10h1M11 10h1M20 10h1M23 10h1M37 10h1M39 10h2M42 10h1M77 10h1M79 10h1M86 10h1M93 10h1M100 10h1M105 10h1M108 10h1M1 11h1M8 11h1M13 11h1M21 11h1M24 11h1M35 11h2M40 11h1M53 11h2M61 11h1M65 11h2M69 11h1M103 11h1M110 11h1"/><path stroke="#d00" d="M1 0h1M16 0h3M23 0h1M26 0h2M46 0h2M55 0h1M70 0h1M77 0h1M80 0h2M89 0h1M92 0h1M96 0h1M99 0h1M110 0h1M1 1h2M11 1h1M14 1h1M16 1h1M21 1h1M23 1h1M25 1h1M34 1h1M36 1h1M38 1h1M44 1h1M58 1h1M60 1h1M69 1h1M71 1h1M77 1h1M81 1h1M92 1h2M100 1h1M3 2h1M12 2h1M26 2h1M39 2h1M41 2h1M50 2h1M55 2h1M61 2h1M73 2h1M77 2h1M80 2h1M82 2h1M85 2h1M87 2h1M91 2h2M96 2h1M108 2h1M12 3h1M26 3h1M28 3h1M33 3h1M39 3h1M46 3h1M51 3h1M74 3h1M83 3h2M86 3h1M91 3h1M98 3h1M109 3h2M3 4h1M9 4h1M26 4h1M29 4h1M37 4h1M41 4h1M45 4h1M60 4h1M66 4h1M73 4h1M80 4h1M92 4h1M95 4h1M107 4h1M109 4h1M16 5h1M32 5h1M53 5h3M60 5h2M79 5h2M88 5h1M91 5h1M94 5h1M103 5h1M106 5h1M2 6h1M12 6h1M29 6h1M40 6h1M58 6h1M73 6h1M80 6h2M85 6h1M91 6h1M94 6h1M106 6h1M6 7h1M22 7h1M37 7h2M42 7h1M45 7h1M49 7h1M55 7h1M60 7h1M66 7h1M74 7h2M80 7h1M86 7h1M95 7h1M98 7h1M101 7h1M11 8h1M20 8h2M23 8h1M25 8h1M32 8h2M37 8h1M57 8h1M64 8h2M71 8h1M81 8h1M86 8h1M91 8h1M110 8h1M9 9h1M22 9h1M28 9h1M56 9h1M66 9h1M82 9h1M88 9h1M93 9h1M103 9h1M8 10h1M10 10h1M16 10h1M18 10h1M22 10h1M26 10h1M33 10h1M38 10h1M64 10h1M69 10h1M73 10h1M89 10h2M94 10h1M98 10h1M110 10h1M7 11h1M11 11h1M27 11h1M45 11h1M48 11h1M51 11h1M62 11h1M68 11h1M76 11h1M79 11h1M88 11h1M101 11h2M109 11h1"/><path stroke="#900" d="M0 0h1M4 0h1M24 0h1M43 0h1M60 0h1M66 0h1M108 0h1M5 1h1M7 1h1M29 1h1M31 1h1M45 1h1M47 1h1M72 1h1M97 1h1M101 1h2M6 2h2M17 2h1M20 2h1M27 2h1M44 2h1M62 2h2M68 2h1M88 2h1M90 2h1M95 2h1M102 2h1M109 2h1M50 3h1M64 3h2M69 3h1M72 3h1M75 3h1M77 3h3M87 3h2M92 3h1M6 4h1M47 4h1M70 4h1M78 4h1M88 4h1M90 4h2M99 4h1M7 5h1M20 5h1M23 5h2M26 5h2M44 5h2M73 5h1M85 5h2M101 5h1M18 6h1M30 6h2M34 6h1M38 6h1M43 6h1M47 6h1M51 6h1M54 6h1M62 6h1M72 6h1M76 6h1M96 6h1M7 7h1M12 7h1M14 7h1M17 7h1M24 7h1M26 7h1M31 7h1M51 7h1M53 7h1M58 7h1M62 7h1M67 7h1M91 7h1M3 8h1M26 8h1M28 8h1M30 8h1M49 8h1M77 8h1M79 8h1M82 8h1M102 8h1M13 9h2M18 9h2M26 9h2M31 9h2M36 9h1M44 9h1M63 9h2M84 9h1M89 9h1M92 9h1M98 9h1M104 9h1M12 10h2M28 10h1M34 10h1M45 10h1M48 10h1M70 10h2M78 10h1M92 10h1M99 10h1M0 11h1M10 11h1M30 11h1M43 11h1M46 11h1M52 11h1M70 11h1M72 11h2M83 11h1M86 11h1M97 11h1"/></g></pattern>
<pattern id="Lo" width="111" height="12" patternUnits="userSpaceOnUse"><rect width="111" height="12" fill="#f90"/><g transform="translate(0,.5)" fill="none" stroke-width="1" shape-rendering="crispEdges"><path stroke="#009" d="M60 0h1M2 1h1M12 2h1M97 3h1M23 4h1M53 4h1M89 4h2M103 4h1M21 5h1M32 5h1M41 7h1M49 7h1M93 7h1M17 8h1M20 9h1M27 9h1M58 9h1M88 9h1M90 10h1M14 11h1M48 11h1M89 11h1M100 11h1"/><path stroke="#00d" d="M84 1h1M103 1h1M79 2h1M36 4h1M36 5h1M92 5h1M107 5h1M28 7h1M88 8h1M109 8h1M93 10h1"/><path stroke="#01f" d="M3 0h1M74 0h1M79 0h1M103 0h1M26 4h1M8 5h1M18 5h1M45 9h1M60 9h1"/><path stroke="#04f" d="M48 5h1M43 6h1M55 6h1M95 11h1"/><path stroke="#08f" d="M66 1h1M77 4h1M97 6h1M30 7h1M62 11h1M75 11h1"/><path stroke="#0bf" d="M74 2h1M58 3h1M90 5h1"/><path stroke="#1ee" d="M34 1h1M37 7h1M48 7h1M87 8h1M82 11h1"/><path stroke="#3fb" d="M40 0h1M70 0h1M91 0h1M14 2h1M81 3h1M20 4h1M3 6h1M13 6h1M42 6h1M3 7h1M94 7h1M52 8h1M33 11h1"/><path stroke="#6f9" d="M49 0h1M86 1h1M35 2h1M61 2h1M63 2h1M20 3h2M54 5h1M67 9h1M76 9h1M9 10h1M71 10h1M85 10h1M69 11h1"/><path stroke="#9f6" d="M5 0h1M47 0h1M69 0h1M82 0h1M24 1h1M31 1h1M31 2h1M97 2h1M72 3h1M107 3h1M14 4h1M28 4h2M65 4h1M97 4h1M60 6h1M70 6h1M89 6h1M92 6h1M96 6h1M109 6h1M8 7h1M21 7h1M57 7h1M68 7h1M90 7h1M102 7h1M104 7h1M108 7h1M18 8h1M68 8h1M14 10h1M19 10h1M38 11h1"/><path stroke="#bf3" d="M9 0h1M23 0h1M32 0h1M52 0h1M63 0h1M12 1h1M25 1h1M91 1h1M97 1h1M99 1h1M104 1h1M60 2h1M65 2h1M70 2h1M75 2h1M87 2h1M96 2h1M99 2h1M7 3h1M19 3h1M27 3h2M35 3h1M38 3h1M52 3h1M70 3h1M95 3h1M4 4h1M19 4h1M27 4h1M30 4h1M72 4h1M76 4h1M82 4h1M96 4h1M104 4h1M0 5h1M23 5h1M26 5h1M35 5h1M66 5h1M20 6h1M30 6h1M52 6h1M95 6h1M104 6h1M11 7h1M47 7h1M52 7h1M62 7h1M78 7h1M103 7h1M6 8h1M12 8h1M16 8h1M31 8h1M38 8h1M67 8h1M76 8h1M90 8h1M12 9h1M30 9h1M38 9h2M56 9h1M68 9h1M83 9h1M85 9h1M92 9h1M103 9h1M3 10h1M16 10h1M42 10h2M54 10h1M72 10h1M19 11h1M27 11h1M34 11h1M44 11h1M63 11h1M70 11h1M84 11h1M87 11h1M93 11h1"/><path stroke="#ef1" d="M12 0h1M24 0h1M26 0h2M31 0h1M42 0h1M50 0h1M90 0h1M93 0h1M105 0h2M108 0h3M6 1h1M8 1h1M10 1h1M32 1h2M35 1h1M43 1h1M47 1h1M62 1h1M67 1h1M83 1h1M87 1h1M90 1h1M92 1h1M96 1h1M20 2h1M23 2h1M29 2h1M32 2h1M39 2h1M42 2h2M49 2h2M53 2h1M76 2h1M84 2h2M91 2h1M6 3h1M30 3h1M42 3h1M73 3h1M75 3h2M83 3h2M94 3h1M96 3h1M106 3h1M3 4h1M24 4h1M38 4h1M54 4h1M57 4h1M60 4h1M79 4h1M83 4h1M98 4h1M5 5h1M31 5h1M40 5h1M44 5h1M46 5h1M56 5h1M67 5h1M88 5h1M91 5h1M105 5h1M2 6h1M5 6h1M14 6h1M23 6h1M29 6h1M39 6h1M47 6h1M79 6h1M90 6h1M100 6h1M103 6h1M17 7h1M27 7h1M35 7h2M72 7h1M83 7h1M86 7h1M88 7h1M110 7h1M11 8h1M21 8h1M30 8h1M40 8h1M53 8h1M58 8h1M66 8h1M70 8h1M75 8h1M84 8h1M86 8h1M110 8h1M2 9h2M15 9h1M29 9h1M37 9h1M42 9h1M46 9h1M49 9h2M72 9h2M78 9h2M81 9h1M94 9h1M101 9h1M1 10h1M15 10h1M24 10h1M27 10h1M31 10h1M37 10h1M45 10h1M51 10h1M53 10h1M62 10h1M68 10h1M80 10h1M82 10h1M95 10h1M101 10h1M109 10h1M11 11h1M23 11h1M42 11h1M66 11h1M71 11h1M73 11h2M76 11h2"/><path stroke="#fc0" d="M10 0h1M13 0h1M18 0h2M25 0h1M43 0h2M48 0h1M51 0h1M64 0h1M87 0h1M92 0h1M96 0h1M98 0h2M101 0h1M18 1h1M37 1h1M44 1h1M50 1h1M57 1h1M64 1h1M71 1h1M74 1h1M81 1h1M89 1h1M95 1h1M98 1h1M107 1h2M4 2h1M6 2h1M11 2h1M28 2h1M30 2h1M38 2h1M40 2h2M46 2h1M54 2h1M66 2h1M71 2h1M78 2h1M80 2h1M94 2h1M102 2h1M104 2h2M3 3h1M8 3h1M17 3h1M23 3h1M31 3h1M37 3h1M43 3h2M48 3h1M50 3h1M53 3h1M65 3h3M71 3h1M87 3h3M92 3h2M7 4h1M13 4h1M32 4h1M35 4h1M55 4h2M63 4h1M67 4h1M74 4h1M84 4h2M91 4h1M1 5h1M3 5h1M6 5h1M9 5h1M16 5h1M25 5h1M27 5h1M29 5h1M33 5h2M37 5h1M39 5h1M49 5h2M62 5h1M75 5h1M82 5h1M93 5h1M103 5h1M8 6h1M11 6h1M16 6h1M28 6h1M31 6h1M34 6h1M54 6h1M57 6h1M62 6h1M67 6h2M74 6h2M77 6h2M94 6h1M2 7h1M6 7h2M13 7h1M15 7h1M19 7h1M25 7h1M29 7h1M31 7h1M33 7h1M54 7h1M59 7h1M61 7h1M63 7h2M66 7h1M77 7h1M80 7h1M89 7h1M98 7h2M101 7h1M9 8h1M22 8h2M25 8h1M29 8h1M34 8h2M39 8h1M43 8h1M54 8h2M59 8h2M65 8h1M78 8h1M81 8h3M93 8h1M101 8h1M0 9h1M19 9h1M23 9h1M33 9h1M55 9h1M61 9h2M64 9h2M69 9h1M82 9h1M100 9h1M4 10h1M8 10h1M20 10h1M36 10h1M38 10h1M48 10h1M56 10h2M59 10h1M63 10h1M65 10h1M84 10h1M91 10h1M96 10h1M104 10h1M107 10h1M0 11h1M2 11h1M12 11h1M28 11h1M30 11h1M36 11h1M47 11h1M49 11h1M53 11h1M60 11h1M65 11h1M68 11h1M79 11h1M83 11h1M85 11h1M91 11h1M96 11h1M107 11h1"/><path stroke="#f60" d="M2 0h1M4 0h1M7 0h2M17 0h1M22 0h1M55 0h1M62 0h1M67 0h1M73 0h1M75 0h2M83 0h2M86 0h1M89 0h1M94 0h1M1 1h1M4 1h1M7 1h1M9 1h1M20 1h1M38 1h1M41 1h1M46 1h1M48 1h1M51 1h1M56 1h1M60 1h2M69 1h1M72 1h1M75 1h1M88 1h1M94 1h1M0 2h2M7 2h1M15 2h1M17 2h1M21 2h1M24 2h1M26 2h2M37 2h1M64 2h1M69 2h1M72 2h1M81 2h1M89 2h1M93 2h1M100 2h1M2 3h1M4 3h2M10 3h1M14 3h1M16 3h1M18 3h1M24 3h1M36 3h1M45 3h1M51 3h1M60 3h1M62 3h1M64 3h1M69 3h1M74 3h1M101 3h1M108 3h2M8 4h1M10 4h1M34 4h1M40 4h1M43 4h2M52 4h1M59 4h1M62 4h1M66 4h1M70 4h2M80 4h2M86 4h1M94 4h1M99 4h4M107 4h1M110 4h1M7 5h1M14 5h1M30 5h1M42 5h2M55 5h1M57 5h1M60 5h1M73 5h1M83 5h2M86 5h1M94 5h1M97 5h1M106 5h1M12 6h1M15 6h1M27 6h1M40 6h1M45 6h2M56 6h1M80 6h1M91 6h1M107 6h1M0 7h2M5 7h1M12 7h1M20 7h1M22 7h2M42 7h2M55 7h1M60 7h1M67 7h1M71 7h1M76 7h1M87 7h1M92 7h1M2 8h2M5 8h1M7 8h2M10 8h1M44 8h3M57 8h1M73 8h1M94 8h2M97 8h1M103 8h1M105 8h2M5 9h1M10 9h1M17 9h1M22 9h1M26 9h1M34 9h1M48 9h1M52 9h1M57 9h1M70 9h1M74 9h2M80 9h1M84 9h1M91 9h1M96 9h1M107 9h1M7 10h1M32 10h1M46 10h2M60 10h1M70 10h1M76 10h1M78 10h1M87 10h1M92 10h1M99 10h1M105 10h1M108 10h1M1 11h1M5 11h1M10 11h1M15 11h1M18 11h1M22 11h1M24 11h3M29 11h1M35 11h1M37 11h1M41 11h1M45 11h1M52 11h1M56 11h1M58 11h1M61 11h1M72 11h1M80 11h1M86 11h1M92 11h1M94 11h1M106 11h1M108 11h1"/><path stroke="#f30" d="M11 0h1M16 0h1M30 0h1M36 0h1M38 0h2M45 0h1M54 0h1M56 0h1M58 0h1M61 0h1M88 0h1M100 0h1M107 0h1M14 1h3M22 1h1M27 1h1M29 1h2M39 1h1M49 1h1M52 1h1M58 1h1M68 1h1M73 1h1M77 1h2M93 1h1M100 1h1M102 1h1M2 2h2M9 2h2M36 2h1M47 2h1M51 2h1M57 2h2M77 2h1M92 2h1M95 2h1M108 2h1M0 3h2M9 3h1M15 3h1M25 3h1M32 3h1M34 3h1M46 3h1M49 3h1M54 3h2M57 3h1M59 3h1M99 3h2M102 3h1M5 4h2M9 4h1M11 4h1M15 4h1M22 4h1M39 4h1M41 4h2M47 4h1M51 4h1M64 4h1M75 4h1M92 4h2M95 4h1M105 4h1M109 4h1M15 5h1M17 5h1M38 5h1M47 5h1M52 5h1M61 5h1M65 5h1M68 5h1M72 5h1M79 5h1M96 5h1M98 5h1M101 5h2M108 5h1M110 5h1M10 6h1M19 6h1M21 6h2M36 6h1M38 6h1M48 6h1M51 6h1M53 6h1M58 6h1M64 6h2M71 6h1M76 6h1M93 6h1M99 6h1M10 7h1M14 7h1M18 7h1M24 7h1M32 7h1M44 7h1M50 7h2M65 7h1M73 7h1M79 7h1M82 7h1M91 7h1M95 7h2M105 7h3M4 8h1M15 8h1M28 8h1M32 8h1M62 8h2M74 8h1M80 8h1M96 8h1M98 8h1M100 8h1M107 8h1M9 9h1M24 9h1M28 9h1M40 9h1M43 9h2M77 9h1M93 9h1M0 10h1M17 10h1M21 10h2M29 10h2M39 10h3M44 10h1M58 10h1M61 10h1M64 10h1M66 10h1M74 10h1M94 10h1M102 10h1M110 10h1M8 11h1M16 11h1M21 11h1M40 11h1M51 11h1M55 11h1M102 11h3"/><path stroke="#d00" d="M14 0h1M29 0h1M41 0h1M46 0h1M66 0h1M72 0h1M78 0h1M81 0h1M102 0h1M104 0h1M17 1h1M19 1h1M23 1h1M59 1h1M5 2h1M19 2h1M25 2h1M45 2h1M56 2h1M62 2h1M67 2h1M82 2h2M22 3h1M40 3h2M61 3h1M79 3h2M85 3h1M90 3h2M104 3h2M0 4h2M37 4h1M58 4h1M106 4h1M108 4h1M19 5h2M28 5h1M41 5h1M58 5h1M69 5h1M76 5h1M85 5h1M100 5h1M6 6h1M17 6h1M25 6h1M35 6h1M66 6h1M69 6h1M72 6h2M85 6h2M101 6h1M106 6h1M110 6h1M4 7h1M16 7h1M38 7h1M81 7h1M85 7h1M97 7h1M1 8h1M26 8h2M36 8h1M61 8h1M77 8h1M79 8h1M85 8h1M99 8h1M102 8h1M104 8h1M108 8h1M16 9h1M25 9h1M36 9h1M41 9h1M53 9h2M63 9h1M66 9h1M71 9h1M98 9h2M102 9h1M105 9h2M5 10h1M11 10h1M28 10h1M49 10h2M52 10h1M55 10h1M77 10h1M79 10h1M3 11h1M9 11h1M46 11h1M78 11h1M98 11h2M101 11h1"/><path stroke="#900" d="M6 0h1M20 0h2M34 0h1M37 0h1M85 0h1M97 0h1M45 1h1M65 1h1M79 1h1M109 1h1M33 2h2M44 2h1M59 2h1M73 2h1M86 2h1M90 2h1M106 2h1M11 3h1M13 3h1M86 3h1M12 4h1M21 4h1M33 4h1M50 4h1M68 4h1M78 4h1M2 5h1M12 5h1M63 5h1M77 5h1M89 5h1M59 6h1M61 6h1M82 6h1M58 7h1M70 7h1M84 7h1M0 8h1M13 8h2M51 8h1M11 9h1M89 9h1M97 9h1M25 10h1M34 10h1M69 10h1M81 10h1M83 10h1M31 11h1M39 11h1M64 11h1M90 11h1M109 11h1"/></g></pattern>
<pattern id="Lc" width="111" height="12" patternUnits="userSpaceOnUse"><rect width="111" height="12" fill="#0bf"/><g transform="translate(0,.5)" fill="none" stroke-width="1" shape-rendering="crispEdges"><path stroke="#009" d="M13 0h1M43 0h2M14 1h1M26 1h1M83 1h1M3 2h1M16 2h1M75 2h1M101 2h1M9 3h1M33 3h1M44 3h1M49 3h1M59 3h1M61 3h1M84 3h1M91 3h1M32 4h1M38 4h1M42 4h1M57 4h1M104 4h1M54 5h1M71 5h1M7 6h1M9 6h1M13 6h1M27 6h1M44 6h1M100 6h1M82 7h1M91 7h1M100 7h1M102 7h1M12 8h1M23 8h1M28 8h1M41 8h1M43 8h1M39 9h1M57 9h1M59 9h1M63 9h1M66 9h1M7 10h1M26 10h2M49 10h1M62 10h1M72 10h1M105 10h1M109 10h1M22 11h1M59 11h1"/><path stroke="#00d" d="M19 0h1M28 0h1M36 0h2M66 0h1M83 0h1M100 0h1M2 1h1M23 1h1M29 1h1M40 1h1M82 1h1M91 1h1M4 2h1M10 2h1M34 2h1M44 2h1M68 2h1M5 3h1M24 3h1M40 3h1M60 3h1M69 3h1M78 3h1M88 3h1M90 3h1M103 3h1M61 4h1M63 4h1M65 4h1M77 5h1M86 5h1M98 5h1M101 5h1M0 6h1M17 6h1M36 6h1M38 6h1M43 6h1M67 6h1M81 6h1M19 7h1M24 7h1M27 7h1M29 7h1M50 7h1M70 7h1M10 8h1M19 8h1M39 8h1M71 8h1M91 8h1M99 8h1M106 8h1M23 9h1M35 9h1M56 9h1M61 9h1M69 9h1M3 10h1M45 10h1M59 10h1M61 10h1M65 10h1M75 10h1M98 10h1M57 11h1M84 11h1M94 11h1M98 11h2"/><path stroke="#01f" d="M49 0h1M65 0h1M69 0h1M73 0h1M87 0h1M90 0h1M99 0h1M109 0h1M6 1h1M34 1h1M45 1h1M51 1h1M56 1h1M60 1h1M63 1h1M71 1h1M85 1h1M88 1h1M2 2h1M5 2h1M13 2h1M17 2h1M19 2h1M59 2h1M80 2h1M82 2h1M98 2h1M105 2h1M1 3h1M10 3h1M22 3h1M35 3h1M41 3h1M43 3h1M67 3h1M74 3h1M97 3h2M5 4h2M9 4h1M13 4h1M41 4h1M84 4h1M92 4h1M15 5h1M80 5h1M4 6h1M6 6h1M11 6h1M26 6h1M37 6h1M41 6h1M60 6h1M63 6h1M75 6h1M77 6h1M93 6h1M5 7h1M22 7h1M35 7h1M45 7h1M55 7h1M61 7h1M67 7h1M71 7h2M94 7h1M3 8h1M6 8h1M32 8h1M67 8h2M77 8h2M84 8h1M9 9h1M26 9h1M31 9h1M41 9h3M52 9h1M9 10h1M11 10h2M20 10h1M23 10h1M34 10h1M48 10h1M58 10h1M88 10h1M96 10h1M2 11h1M5 11h1M7 11h1M17 11h3M29 11h1M65 11h1M86 11h1"/><path stroke="#04f" d="M0 0h1M3 0h1M8 0h1M10 0h1M17 0h1M29 0h1M40 0h1M56 0h1M60 0h1M64 0h1M72 0h1M82 0h1M106 0h1M27 1h1M50 1h1M52 1h1M69 1h1M92 1h1M98 1h1M102 1h1M108 1h1M110 1h1M45 2h1M58 2h1M61 2h1M74 2h1M77 2h1M83 2h1M89 2h1M96 2h1M110 2h1M4 3h1M21 3h1M23 3h1M27 3h1M51 3h1M53 3h1M56 3h1M64 3h1M92 3h1M14 4h1M16 4h1M22 4h1M59 4h1M64 4h1M79 4h1M86 4h1M101 4h1M9 5h1M25 5h1M30 5h1M51 5h1M53 5h1M56 5h1M72 5h1M75 5h2M79 5h1M94 5h1M8 6h1M30 6h1M32 6h1M46 6h1M50 6h1M58 6h1M61 6h1M71 6h1M103 6h1M105 6h1M1 7h1M16 7h1M34 7h1M44 7h1M49 7h1M51 7h1M73 7h1M87 7h1M101 7h1M34 8h1M36 8h1M70 8h1M72 8h1M89 8h1M103 8h1M1 9h1M22 9h1M28 9h1M50 9h1M68 9h1M70 9h1M76 9h2M83 9h1M92 9h2M96 9h1M104 9h1M4 10h1M6 10h1M15 10h1M22 10h1M32 10h1M38 10h1M47 10h1M67 10h1M83 10h2M93 10h1M103 10h1M1 11h1M9 11h1M23 11h1M54 11h1M56 11h1M58 11h1M67 11h1M69 11h1M79 11h2M89 11h1M92 11h1M104 11h1M106 11h1"/><path stroke="#08f" d="M12 0h1M22 0h1M24 0h1M27 0h1M48 0h1M54 0h1M71 0h1M84 0h1M101 0h1M16 1h1M20 1h1M30 1h1M33 1h1M37 1h1M39 1h1M46 1h1M48 1h1M70 1h1M72 1h2M78 1h1M81 1h1M24 2h2M32 2h1M40 2h2M46 2h1M66 2h1M84 2h1M90 2h1M97 2h1M107 2h1M109 2h1M8 3h1M13 3h1M17 3h1M30 3h1M32 3h1M42 3h1M63 3h1M71 3h1M85 3h1M102 3h1M105 3h1M43 4h1M48 4h2M74 4h2M0 5h1M14 5h1M20 5h1M28 5h1M32 5h1M40 5h1M61 5h1M85 5h1M93 5h1M95 5h1M97 5h1M100 5h1M106 5h1M109 5h1M35 6h1M39 6h2M42 6h1M69 6h1M72 6h3M94 6h1M104 6h1M3 7h1M12 7h1M25 7h1M48 7h1M58 7h1M62 7h1M76 7h1M97 7h1M106 7h1M110 7h1M1 8h1M5 8h1M15 8h1M20 8h1M22 8h1M35 8h1M40 8h1M42 8h1M44 8h1M48 8h1M56 8h1M63 8h1M86 8h1M92 8h2M104 8h2M107 8h1M30 9h1M33 9h2M38 9h1M45 9h1M51 9h1M62 9h1M71 9h1M98 9h1M110 9h1M31 10h1M37 10h1M42 10h1M60 10h1M104 10h1M3 11h1M10 11h1M15 11h1M38 11h1M62 11h1M66 11h1M73 11h1M82 11h1"/><path stroke="#1ee" d="M26 0h1M58 0h2M63 0h1M68 0h1M86 0h1M94 0h2M108 0h1M0 1h2M3 1h1M15 1h1M41 1h1M65 1h1M76 1h1M89 1h1M94 1h1M99 1h1M106 1h1M7 2h1M48 2h1M71 2h1M94 2h1M99 2h1M11 3h1M26 3h1M29 3h1M36 3h1M100 3h1M107 3h1M15 4h1M20 4h1M34 4h1M50 4h1M55 4h2M68 4h1M76 4h1M78 4h1M80 4h1M82 4h1M88 4h1M93 4h1M102 4h2M105 4h1M2 5h1M10 5h1M18 5h1M34 5h1M38 5h1M41 5h3M47 5h1M63 5h1M65 5h2M70 5h1M10 6h1M12 6h1M29 6h1M54 6h1M57 6h1M85 6h1M95 6h1M99 6h1M101 6h1M109 6h1M11 7h1M13 7h1M17 7h2M20 7h2M26 7h1M47 7h1M53 7h1M8 8h1M17 8h1M26 8h1M29 8h1M37 8h1M55 8h1M69 8h1M76 8h1M79 8h1M87 8h2M94 8h1M97 8h1M100 8h1M5 9h2M16 9h1M32 9h1M46 9h1M74 9h1M80 9h2M88 9h1M99 9h1M105 9h2M108 9h1M17 10h1M25 10h1M41 10h1M44 10h1M50 10h2M53 10h1M89 10h1M94 10h1M8 11h1M16 11h1M21 11h1M34 11h1M44 11h1M46 11h1M48 11h1M75 11h1M85 11h1M87 11h1M90 11h1M96 11h1M102 11h1M109 11h1"/><path stroke="#3fb" d="M21 0h1M38 0h1M47 0h1M74 0h1M77 0h1M88 0h1M92 0h2M97 0h1M7 1h1M13 1h1M38 1h1M44 1h1M61 1h1M75 1h1M80 1h1M104 1h1M14 2h1M37 2h1M57 2h1M73 2h1M78 2h1M81 2h1M86 2h1M91 2h2M108 2h1M6 3h2M12 3h1M16 3h1M19 3h2M34 3h1M50 3h1M52 3h1M66 3h1M89 3h1M99 3h1M3 4h1M17 4h1M23 4h1M33 4h1M58 4h1M60 4h1M66 4h1M89 4h1M95 4h1M98 4h1M16 5h1M23 5h1M27 5h1M39 5h1M52 5h1M55 5h1M69 5h1M81 5h1M84 5h1M103 5h2M15 6h1M21 6h1M33 6h1M49 6h1M52 6h1M70 6h1M96 6h1M106 6h1M28 7h1M37 7h1M63 7h3M74 7h2M86 7h1M96 7h1M98 7h1M103 7h2M7 8h1M25 8h1M31 8h1M47 8h1M50 8h1M60 8h1M80 8h1M101 8h1M108 8h1M2 9h1M21 9h1M25 9h1M27 9h1M47 9h1M53 9h1M72 9h1M75 9h1M87 9h1M90 9h1M101 9h1M109 9h1M8 10h1M13 10h1M16 10h1M18 10h1M21 10h1M24 10h1M46 10h1M55 10h1M64 10h1M76 10h1M79 10h1M82 10h1M90 10h1M108 10h1M24 11h1M45 11h1M61 11h1M64 11h1M70 11h1M76 11h2M88 11h1M100 11h1M108 11h1"/><path stroke="#6f9" d="M2 0h1M5 0h1M33 0h1M35 0h1M46 0h1M50 0h1M61 0h1M67 0h1M76 0h1M78 0h2M107 0h1M25 1h1M32 1h1M54 1h1M62 1h1M74 1h1M90 1h1M93 1h1M97 1h1M103 1h1M107 1h1M0 2h2M6 2h1M11 2h1M31 2h1M36 2h1M38 2h2M50 2h1M60 2h1M79 2h1M85 2h1M95 2h1M102 2h2M2 3h1M37 3h1M55 3h1M75 3h1M81 3h1M86 3h2M101 3h1M104 3h1M106 3h1M108 3h1M110 3h1M4 4h1M7 4h1M12 4h1M24 4h1M29 4h1M35 4h2M73 4h1M81 4h1M87 4h1M90 4h2M94 4h1M5 5h1M12 5h1M21 5h1M33 5h1M36 5h1M45 5h1M50 5h1M58 5h1M18 6h1M45 6h1M68 6h1M80 6h1M82 6h1M89 6h1M98 6h1M2 7h1M9 7h1M40 7h1M43 7h1M52 7h1M56 7h1M69 7h1M85 7h1M90 7h1M107 7h1M21 8h1M45 8h1M58 8h2M64 8h1M11 9h1M20 9h1M60 9h1M78 9h2M95 9h1M103 9h1M5 10h1M29 10h1M33 10h1M52 10h1M78 10h1M81 10h1M95 10h1M97 10h1M106 10h1M4 11h1M14 11h1M27 11h1M39 11h1M53 11h1M63 11h1M81 11h1M101 11h1M105 11h1M107 11h1"/><path stroke="#9f6" d="M15 0h1M18 0h1M23 0h1M39 0h1M41 0h1M51 0h2M55 0h1M70 0h1M81 0h1M89 0h1M5 1h1M12 1h1M18 1h1M31 1h1M35 1h2M59 1h1M84 1h1M15 2h1M23 2h1M27 2h1M29 2h1M33 2h1M52 2h2M65 2h1M67 2h1M76 2h1M93 2h1M100 2h1M104 2h1M14 3h1M62 3h1M65 3h1M68 3h1M73 3h1M10 4h1M19 4h1M40 4h1M47 4h1M97 4h1M100 4h1M108 4h2M1 5h1M3 5h1M11 5h1M37 5h1M60 5h1M64 5h1M74 5h1M90 5h1M102 5h1M110 5h1M14 6h1M19 6h1M22 6h1M25 6h1M51 6h1M87 6h1M91 6h1M7 7h1M10 7h1M33 7h1M41 7h1M46 7h1M54 7h1M59 7h1M80 7h1M84 7h1M93 7h1M95 7h1M13 8h2M16 8h1M30 8h1M53 8h2M65 8h1M74 8h1M81 8h1M85 8h1M95 8h1M0 9h1M8 9h1M19 9h1M54 9h1M73 9h1M100 9h1M102 9h1M2 10h1M10 10h1M28 10h1M63 10h1M73 10h1M100 10h1M107 10h1M26 11h1M35 11h1M37 11h1M83 11h1"/><path stroke="#bf3" d="M20 0h1M25 0h1M30 0h1M34 0h1M96 0h1M104 0h1M64 1h1M66 1h1M79 1h1M86 1h1M96 1h1M12 2h1M18 2h1M21 2h2M30 2h1M35 2h1M51 2h1M62 2h1M70 2h1M3 3h1M25 3h1M45 3h1M57 3h1M77 3h1M2 4h1M11 4h1M30 4h1M62 4h1M72 4h1M77 4h1M85 4h1M107 4h1M110 4h1M91 5h1M96 5h1M1 6h1M31 6h1M48 6h1M88 6h1M90 6h1M92 6h1M81 7h1M108 7h1M9 8h1M11 8h1M27 8h1M66 8h1M4 9h1M17 9h1M55 9h1M94 9h1M36 10h1M69 10h1M74 10h1M85 10h1M92 10h1M102 10h1M28 11h1M36 11h1M41 11h1M60 11h1M74 11h1"/><path stroke="#ef1" d="M4 0h1M16 0h1M45 0h1M53 0h1M85 0h1M21 1h1M49 1h1M57 1h2M8 2h1M55 2h1M69 2h1M87 2h1M47 3h1M83 3h1M93 3h1M109 3h1M1 4h1M21 4h1M31 4h1M44 4h1M46 4h1M52 4h1M6 5h1M13 5h1M78 5h1M82 5h1M108 5h1M107 6h1M42 7h1M57 7h1M88 7h1M82 8h1M37 9h1M48 9h1M19 10h1M35 10h1M70 10h1M99 10h1M110 10h1M30 11h1M43 11h1M47 11h1M50 11h1M93 11h1"/><path stroke="#fc0" d="M1 0h1M9 0h1M42 0h1M22 1h1M53 1h1M77 1h1M42 2h1M47 2h1M56 2h1M76 3h1M8 4h1M25 4h1M83 4h1M4 5h1M88 5h1M92 5h1M16 6h1M6 7h1M36 7h1M105 7h1M2 8h1M33 8h1M61 8h1M75 8h1M98 8h1M102 8h1M67 9h1M84 9h1M39 10h2M40 11h1M97 11h1"/><path stroke="#f90" d="M57 0h1M9 1h1M24 1h1M54 3h1M80 3h1M45 4h1M53 4h1M99 4h1M29 5h1M35 5h1M59 5h1M23 6h1M78 6h1M108 6h1M39 7h1M89 7h1M13 9h1M54 10h1M66 10h1M6 11h1M12 11h1M42 11h1"/><path stroke="#f60" d="M62 0h1M80 0h1M17 1h1M19 1h1M15 3h1M62 5h1M8 7h1M60 7h1M24 8h1M38 8h1M29 9h1M57 10h1M91 11h1"/><path stroke="#f30" d="M8 1h1M63 2h1M0 3h1M70 4h1M44 5h1M5 6h1M53 6h1M102 6h1M79 7h1M83 7h1M0 8h1M49 9h1M64 9h1M1 10h1M43 10h1M80 10h1"/><path stroke="#d00" d="M6 0h1M11 1h1M101 1h1M105 1h1M26 2h1M28 3h1M96 3h1M39 4h1M54 4h1M8 5h1M2 6h1M20 6h1M66 6h1M76 6h1M14 7h1M68 7h1M49 8h1M62 8h1M110 8h1M91 9h1M97 9h1M68 10h1M71 11h2M110 11h1"/><path stroke="#900" d="M14 0h1M91 0h1M105 0h1M18 3h1M38 3h1M48 3h1M70 3h1M28 4h1M17 5h1M31 5h1M57 5h1M23 7h1M4 8h1M18 8h1M46 8h1M86 9h1M89 9h1M56 10h1M20 11h1"/></g></pattern>
<pattern id="Ld" width="111" height="12" patternUnits="userSpaceOnUse"><rect width="111" height="12" fill="#d00"/><g transform="translate(0,.5)" fill="none" stroke-width="1" shape-rendering="crispEdges"><path stroke="#009" d="M2 0h1M11 0h1M43 0h1M49 0h1M58 0h1M65 0h1M73 0h1M80 0h1M104 0h1M110 0h1M30 1h1M43 1h1M49 1h2M78 1h1M88 1h1M105 1h1M5 2h1M13 2h1M18 2h1M26 2h2M35 2h2M45 2h1M47 2h1M55 2h1M74 2h1M76 2h1M80 2h2M95 2h1M2 3h1M5 3h2M18 3h1M21 3h2M26 3h1M37 3h1M52 3h1M57 3h1M70 3h1M76 3h1M83 3h1M89 3h1M91 3h1M9 4h1M16 4h1M20 4h1M43 4h1M56 4h1M68 4h1M83 4h1M1 5h2M13 5h1M16 5h1M39 5h1M45 5h1M58 5h1M63 5h1M70 5h1M76 5h1M85 5h2M91 5h1M93 5h1M95 5h1M110 5h1M1 6h1M4 6h1M15 6h1M24 6h1M26 6h1M52 6h1M58 6h1M62 6h1M66 6h2M97 6h1M102 6h1M106 6h1M3 7h2M12 7h1M18 7h1M27 7h1M42 7h1M51 7h1M54 7h1M56 7h1M60 7h1M73 7h1M83 7h1M90 7h2M104 7h1M1 8h1M8 8h1M16 8h1M26 8h1M29 8h1M35 8h1M58 8h1M69 8h2M76 8h2M92 8h1M94 8h1M100 8h1M103 8h1M105 8h1M110 8h1M14 9h1M27 9h1M36 9h1M44 9h1M55 9h1M68 9h1M73 9h1M86 9h1M93 9h1M100 9h1M2 10h1M11 10h1M31 10h1M39 10h1M50 10h1M53 10h1M68 10h1M71 10h1M82 10h1M86 10h1M101 10h1M109 10h1M2 11h1M15 11h1M19 11h1M23 11h1M46 11h1M52 11h1M64 11h1M80 11h1M88 11h1M94 11h2M107 11h1"/><path stroke="#00d" d="M9 0h1M14 0h1M19 0h1M27 0h1M39 0h1M56 0h1M67 0h1M70 0h1M83 0h1M91 0h1M7 1h1M15 1h1M35 1h1M47 1h1M57 1h3M63 1h2M81 1h1M90 1h1M100 1h1M29 2h1M31 2h1M38 2h1M41 2h1M52 2h1M72 2h1M78 2h2M86 2h1M88 2h1M106 2h1M20 3h1M28 3h1M31 3h2M40 3h1M54 3h1M56 3h1M68 3h1M78 3h1M90 3h1M97 3h1M102 3h2M2 4h1M21 4h1M31 4h1M46 4h1M50 4h1M52 4h1M57 4h1M63 4h1M65 4h1M75 4h1M81 4h1M96 4h1M102 4h1M6 5h1M31 5h1M34 5h2M68 5h1M74 5h1M81 5h1M84 5h1M107 5h1M13 6h1M17 6h1M25 6h1M51 6h1M57 6h1M59 6h1M8 7h1M11 7h1M22 7h1M24 7h1M32 7h1M67 7h2M70 7h1M78 7h1M94 7h1M99 7h1M101 7h1M109 7h1M2 8h1M28 8h1M30 8h1M45 8h1M60 8h1M64 8h1M67 8h1M87 8h1M108 8h1M2 9h2M5 9h1M9 9h1M16 9h1M26 9h1M42 9h1M50 9h1M61 9h1M69 9h1M81 9h1M83 9h2M96 9h1M104 9h1M1 10h1M16 10h1M18 10h1M35 10h1M65 10h1M72 10h1M88 10h2M105 10h1M0 11h1M9 11h3M31 11h1M35 11h1M49 11h1M61 11h1M71 11h1M86 11h1M93 11h1"/><path stroke="#01f" d="M0 0h1M10 0h1M23 0h3M66 0h1M79 0h1M82 0h1M3 1h1M9 1h1M22 1h2M25 1h1M34 1h1M37 1h1M40 1h1M53 1h1M79 1h1M86 1h1M98 1h2M66 2h1M96 2h1M100 2h1M1 3h1M35 3h1M58 3h1M71 3h1M95 3h1M108 3h1M40 5h1M43 5h1M47 5h1M82 5h1M99 5h1M7 6h1M64 6h1M83 6h1M100 6h1M14 7h1M16 7h2M25 7h2M37 7h1M45 7h1M53 7h1M57 7h1M71 7h1M89 7h1M97 7h1M100 7h1M10 8h1M21 8h1M38 8h1M49 8h1M52 8h1M66 8h1M72 8h1M11 9h1M43 9h1M58 9h1M65 9h1M71 9h1M79 9h1M82 9h1M95 9h1M97 9h2M37 10h1M48 10h1M70 10h1M75 10h1M85 10h1M92 10h1M99 10h1M102 10h1M8 11h1M18 11h1M32 11h1M48 11h1M50 11h1M69 11h2M72 11h1"/><path stroke="#04f" d="M81 0h1M89 0h1M5 1h1M29 1h1M33 1h1M76 1h2M1 2h1M19 2h1M24 2h1M59 2h1M68 2h1M89 2h1M91 2h1M3 3h1M41 3h1M79 3h1M81 3h1M96 3h1M109 3h1M8 4h1M17 4h1M22 4h1M28 4h1M32 4h1M79 4h1M94 4h1M98 4h1M101 4h1M12 5h1M17 5h1M25 5h1M71 5h1M100 5h1M27 6h1M49 6h1M69 6h2M72 6h1M81 6h1M89 6h1M98 6h1M46 7h1M48 7h1M52 7h1M74 7h1M31 8h1M37 8h1M83 8h1M104 8h1M17 9h1M22 9h1M56 9h1M13 10h1M27 10h1M41 10h1M46 10h1M52 10h1M95 10h1M7 11h1M41 11h1M56 11h2M102 11h1M106 11h1"/><path stroke="#08f" d="M37 0h1M41 0h1M48 0h1M52 0h1M92 0h1M55 1h1M85 1h1M91 1h1M96 1h1M82 2h1M92 2h1M49 3h1M65 3h1M98 3h1M44 4h1M48 5h1M54 5h1M66 5h1M34 6h1M48 6h1M53 6h1M109 6h1M21 7h1M110 7h1M14 8h1M19 8h1M34 8h1M41 8h1M50 8h1M55 8h1M101 8h1M30 9h1M38 9h1M45 9h1M9 10h1M77 11h1M90 11h1"/><path stroke="#0bf" d="M8 0h1M32 0h1M78 0h1M27 1h1M72 1h1M109 1h1M99 2h1M108 2h1M13 3h1M73 3h1M77 3h1M66 4h1M78 4h1M18 5h1M72 5h1M79 5h1M108 5h1M63 7h1M28 10h1M69 10h1M24 11h1"/><path stroke="#1ee" d="M95 0h1M11 4h1M45 6h1M47 6h1M101 6h1M49 9h1M72 9h1M94 10h1M85 11h1"/><path stroke="#3fb" d="M1 1h1M105 2h1M80 5h1M95 7h1M78 8h1"/><path stroke="#6f9" d="M44 0h1M69 0h1M53 4h1M50 6h1M103 9h1M24 10h1M110 10h1M20 11h1"/><path stroke="#9f6" d="M107 0h1M42 1h1M9 3h1M38 3h1M40 4h1M82 4h1M86 4h1M106 4h1M69 5h1M88 8h1M49 10h1M6 11h1M67 11h1"/><path stroke="#bf3" d="M45 0h1M57 0h1M93 1h1M70 2h1M23 3h1M106 3h1M39 4h1M41 4h1M46 5h1M15 7h1M58 7h1M74 8h1M80 8h1M60 9h1M63 9h1M74 9h1M29 10h1M38 10h1M77 10h1M28 11h1M63 11h1M68 11h1"/><path stroke="#ef1" d="M33 0h1M76 0h1M56 1h1M82 1h1M58 2h1M16 3h1M36 4h1M61 4h1M91 4h1M105 4h1M4 5h1M54 6h2M44 7h1M23 8h1M29 9h1M17 10h1M51 10h1M78 10h1"/><path stroke="#fc0" d="M30 0h1M55 0h1M74 0h1M87 0h2M90 0h1M97 0h1M4 1h1M20 1h1M36 1h1M41 1h1M46 1h1M73 1h1M11 2h1M110 2h1M7 3h1M24 3h1M64 3h1M85 3h1M4 4h1M34 4h2M37 4h1M49 4h1M60 4h1M70 4h1M73 4h1M19 5h1M22 5h1M27 5h1M92 5h1M104 5h1M14 6h1M18 6h1M46 6h1M73 6h1M76 6h1M78 6h1M86 6h1M90 6h1M23 7h1M31 7h1M34 7h1M41 7h1M79 7h2M82 7h1M92 7h1M4 8h1M25 8h1M42 8h1M48 8h1M56 8h1M65 8h1M89 8h2M102 8h1M46 9h1M54 9h1M64 9h1M87 9h1M90 9h1M94 9h1M19 10h1M60 10h1M79 10h1M83 10h1M91 10h1M104 10h1M3 11h1M62 11h1M74 11h2"/><path stroke="#f90" d="M26 0h1M29 0h1M34 0h1M42 0h1M68 0h1M75 0h1M84 0h1M93 0h2M102 0h1M10 1h1M12 1h1M24 1h1M26 1h1M39 1h1M52 1h1M69 1h1M92 1h1M7 2h1M9 2h1M12 2h1M14 2h1M42 2h1M60 2h1M63 2h1M69 2h1M73 2h1M90 2h1M97 2h2M0 3h1M10 3h3M44 3h1M50 3h1M55 3h1M5 4h1M15 4h1M23 4h1M51 4h1M62 4h1M67 4h1M92 4h1M97 4h1M109 4h1M11 5h1M30 5h1M52 5h1M83 5h1M94 5h1M98 5h1M9 6h1M19 6h1M28 6h1M30 6h2M39 6h1M43 6h2M80 6h1M95 6h1M110 6h1M5 7h1M49 7h1M75 7h1M106 7h1M12 8h1M18 8h1M51 8h1M85 8h1M20 9h1M32 9h1M41 9h1M57 9h1M70 9h1M77 9h2M22 10h2M40 10h1M43 10h1M62 10h1M27 11h1M29 11h1M37 11h1M59 11h1M81 11h2"/><path stroke="#f60" d="M47 0h1M77 0h1M85 0h1M101 0h1M105 0h2M8 1h1M13 1h1M19 1h1M75 1h1M97 1h1M110 1h1M2 2h1M8 2h1M10 2h1M28 2h1M40 2h1M50 2h2M53 2h1M57 2h1M62 2h1M64 2h1M83 2h1M87 2h1M107 2h1M15 3h1M17 3h1M43 3h1M48 3h1M53 3h1M59 3h1M63 3h1M67 3h1M74 3h1M80 3h1M82 3h1M84 3h1M86 3h1M1 4h1M29 4h1M47 4h1M54 4h2M76 4h2M87 4h1M93 4h1M100 4h1M0 5h1M10 5h1M24 5h1M29 5h1M33 5h1M42 5h1M49 5h1M55 5h2M61 5h1M77 5h1M88 5h1M0 6h1M2 6h1M11 6h1M21 6h1M33 6h1M36 6h1M61 6h1M65 6h1M82 6h1M92 6h1M96 6h1M6 7h1M19 7h1M38 7h1M50 7h1M61 7h1M64 7h2M72 7h1M76 7h1M85 7h2M93 7h1M103 7h1M107 7h1M0 8h1M6 8h1M39 8h1M43 8h1M54 8h1M57 8h1M63 8h1M68 8h1M73 8h1M81 8h1M84 8h1M99 8h1M1 9h1M6 9h1M13 9h1M18 9h1M21 9h1M28 9h1M47 9h1M53 9h1M76 9h1M106 9h1M10 10h1M44 10h2M61 10h1M63 10h1M80 10h2M96 10h2M21 11h1M40 11h1M42 11h1M47 11h1M53 11h2M65 11h1M89 11h1M99 11h2M103 11h1"/><path stroke="#f30" d="M4 0h1M6 0h1M17 0h1M22 0h1M28 0h1M31 0h1M38 0h1M40 0h1M51 0h1M53 0h1M62 0h1M71 0h1M109 0h1M0 1h1M17 1h2M28 1h1M45 1h1M54 1h1M61 1h1M66 1h2M71 1h1M74 1h1M80 1h1M84 1h1M103 1h1M108 1h1M0 2h1M4 2h1M20 2h2M25 2h1M43 2h1M46 2h1M54 2h1M67 2h1M71 2h1M75 2h1M77 2h1M94 2h1M102 2h1M109 2h1M14 3h1M30 3h1M42 3h1M45 3h1M66 3h1M75 3h1M92 3h2M99 3h1M107 3h1M0 4h1M7 4h1M10 4h1M12 4h2M38 4h1M42 4h1M88 4h1M90 4h1M99 4h1M107 4h1M3 5h1M7 5h2M14 5h1M21 5h1M28 5h1M38 5h1M57 5h1M59 5h1M62 5h1M64 5h1M75 5h1M78 5h1M96 5h1M105 5h1M109 5h1M5 6h2M8 6h1M10 6h1M20 6h1M23 6h1M40 6h1M71 6h1M84 6h2M88 6h1M93 6h1M108 6h1M2 7h1M7 7h1M33 7h1M47 7h1M59 7h1M62 7h1M81 7h1M87 7h1M96 7h1M7 8h1M15 8h1M40 8h1M44 8h1M59 8h1M71 8h1M79 8h1M95 8h1M0 9h1M8 9h1M12 9h1M15 9h1M33 9h1M35 9h1M40 9h1M52 9h1M67 9h1M89 9h1M99 9h1M102 9h1M107 9h2M110 9h1M8 10h1M21 10h1M25 10h2M30 10h1M32 10h1M36 10h1M47 10h1M55 10h1M58 10h2M73 10h2M84 10h1M100 10h1M14 11h1M26 11h1M34 11h1M36 11h1M39 11h1M44 11h1M51 11h1M76 11h1M96 11h3M101 11h1M109 11h2"/><path stroke="#900" d="M1 0h1M5 0h1M12 0h1M36 0h1M50 0h1M54 0h1M64 0h1M72 0h1M86 0h1M96 0h1M100 0h1M108 0h1M2 1h1M14 1h1M21 1h1M31 1h1M44 1h1M51 1h1M60 1h1M62 1h1M83 1h1M87 1h1M89 1h1M95 1h1M101 1h1M106 1h2M3 2h1M16 2h1M30 2h1M34 2h1M37 2h1M84 2h1M93 2h1M4 3h1M8 3h1M19 3h1M25 3h1M33 3h1M51 3h1M60 3h2M69 3h1M72 3h1M88 3h1M105 3h1M6 4h1M18 4h1M24 4h2M30 4h1M33 4h1M45 4h1M48 4h1M58 4h2M64 4h1M71 4h1M80 4h1M85 4h1M95 4h1M104 4h1M108 4h1M15 5h1M20 5h1M23 5h1M26 5h1M32 5h1M44 5h1M50 5h1M53 5h1M60 5h1M65 5h1M73 5h1M87 5h1M89 5h1M103 5h1M106 5h1M3 6h1M16 6h1M29 6h1M37 6h2M41 6h1M56 6h1M60 6h1M63 6h1M75 6h1M77 6h1M79 6h1M87 6h1M91 6h1M94 6h1M99 6h1M103 6h1M105 6h1M107 6h1M10 7h1M20 7h1M29 7h2M35 7h1M55 7h1M84 7h1M98 7h1M9 8h1M11 8h1M13 8h1M20 8h1M24 8h1M32 8h2M36 8h1M46 8h1M62 8h1M106 8h2M109 8h1M4 9h1M10 9h1M24 9h2M34 9h1M39 9h1M59 9h1M75 9h1M80 9h1M91 9h2M109 9h1M0 10h1M3 10h3M14 10h2M20 10h1M42 10h1M64 10h1M67 10h1M76 10h1M98 10h1M106 10h2M12 11h1M17 11h1M22 11h1M30 11h1M45 11h1M60 11h1M66 11h1M73 11h1M79 11h1M84 11h1M91 11h1M105 11h1M108 11h1"/></g></pattern>
<pattern id="Lb" width="111" height="12" patternUnits="userSpaceOnUse"><rect width="111" height="12" fill="#00d"/><g transform="translate(0,.5)" fill="none" stroke-width="1" shape-rendering="crispEdges"><path stroke="#009" d="M12 0h1M16 0h1M23 0h1M29 0h1M39 0h1M41 0h1M45 0h1M49 0h1M54 0h1M64 0h1M75 0h1M77 0h1M101 0h1M0 1h1M17 1h2M30 1h1M45 1h1M50 1h1M57 1h1M62 1h1M77 1h1M79 1h1M82 1h2M94 1h1M97 1h1M7 2h1M17 2h1M25 2h1M29 2h1M33 2h1M37 2h1M55 2h1M60 2h2M65 2h1M73 2h2M85 2h1M91 2h1M105 2h1M110 2h1M0 3h1M2 3h1M7 3h1M28 3h1M31 3h1M36 3h2M44 3h1M47 3h1M57 3h1M75 3h1M78 3h1M16 4h1M27 4h1M33 4h1M35 4h1M64 4h1M82 4h1M96 4h1M2 5h1M7 5h1M19 5h1M34 5h2M40 5h2M49 5h1M57 5h1M59 5h2M65 5h1M75 5h1M91 5h1M98 5h1M100 5h1M1 6h1M16 6h1M35 6h1M42 6h2M60 6h1M65 6h1M73 6h1M75 6h1M109 6h1M7 7h1M14 7h1M16 7h1M23 7h1M45 7h1M56 7h1M59 7h1M66 7h1M73 7h1M83 7h1M85 7h1M88 7h1M109 7h1M9 8h1M14 8h2M17 8h1M26 8h1M40 8h1M44 8h1M55 8h1M64 8h1M68 8h1M80 8h1M89 8h1M101 8h1M104 8h1M1 9h1M6 9h1M22 9h1M26 9h1M33 9h1M39 9h1M43 9h1M52 9h2M59 9h1M73 9h1M77 9h1M79 9h1M85 9h1M88 9h1M99 9h1M5 10h1M15 10h1M17 10h1M28 10h1M33 10h1M35 10h1M51 10h2M60 10h2M64 10h2M68 10h1M93 10h2M18 11h1M23 11h1M25 11h1M28 11h1M32 11h1M41 11h1M43 11h1M58 11h2M70 11h1M82 11h1M86 11h1M93 11h1M96 11h1M100 11h1M104 11h1M108 11h1"/><path stroke="#01f" d="M3 0h1M5 0h1M13 0h2M20 0h2M33 0h1M35 0h1M46 0h1M56 0h1M60 0h1M63 0h1M87 0h1M89 0h1M97 0h1M5 1h1M35 1h1M43 1h1M49 1h1M63 1h1M69 1h1M71 1h1M81 1h1M89 1h1M91 1h1M100 1h1M102 1h1M110 1h1M3 2h1M6 2h1M30 2h1M35 2h1M59 2h1M62 2h1M69 2h1M76 2h1M104 2h1M11 3h1M15 3h1M40 3h2M74 3h1M82 3h2M85 3h2M91 3h2M95 3h1M103 3h1M106 3h1M17 4h1M21 4h1M24 4h2M34 4h1M38 4h1M51 4h2M65 4h1M90 4h1M97 4h2M100 4h1M106 4h1M110 4h1M6 5h1M14 5h1M16 5h1M23 5h1M46 5h1M53 5h1M56 5h1M64 5h1M81 5h1M83 5h3M93 5h1M110 5h1M2 6h1M5 6h1M25 6h1M27 6h1M48 6h1M61 6h1M70 6h1M77 6h1M102 6h1M107 6h1M3 7h2M9 7h1M25 7h1M28 7h1M32 7h1M64 7h1M70 7h1M80 7h1M101 7h1M103 7h1M106 7h1M1 8h1M11 8h1M19 8h1M25 8h1M43 8h1M63 8h1M65 8h1M71 8h1M85 8h1M102 8h1M4 9h1M15 9h1M21 9h1M28 9h1M31 9h1M46 9h1M66 9h1M83 9h1M96 9h1M102 9h1M110 9h1M14 10h1M18 10h1M20 10h1M23 10h2M29 10h2M43 10h1M62 10h2M70 10h1M73 10h1M79 10h1M81 10h1M103 10h1M9 11h1M11 11h1M17 11h1M66 11h1M71 11h1M92 11h1M102 11h1"/><path stroke="#04f" d="M4 0h1M6 0h1M9 0h2M24 0h1M50 0h1M53 0h1M59 0h1M67 0h2M73 0h1M84 0h1M88 0h1M95 0h1M99 0h2M2 1h3M11 1h1M16 1h1M23 1h1M41 1h1M48 1h1M55 1h1M70 1h1M88 1h1M93 1h1M95 1h1M105 1h1M107 1h2M5 2h1M14 2h1M40 2h1M46 2h2M66 2h1M78 2h1M81 2h1M95 2h1M108 2h1M3 3h3M8 3h3M14 3h1M20 3h1M24 3h1M34 3h1M39 3h1M46 3h1M49 3h1M54 3h1M68 3h1M73 3h1M77 3h1M87 3h1M5 4h1M13 4h1M19 4h1M31 4h1M47 4h1M54 4h1M59 4h1M70 4h2M75 4h1M78 4h1M84 4h1M95 4h1M108 4h1M9 5h1M20 5h1M22 5h1M48 5h1M67 5h1M77 5h1M80 5h1M47 6h1M71 6h1M83 6h1M88 6h1M100 6h2M105 6h2M2 7h1M11 7h1M20 7h1M26 7h1M29 7h1M34 7h2M48 7h3M54 7h1M60 7h2M63 7h1M82 7h1M104 7h2M5 8h2M16 8h1M21 8h1M23 8h2M27 8h1M35 8h1M51 8h1M79 8h1M91 8h1M96 8h1M99 8h1M109 8h2M18 9h1M30 9h1M36 9h2M47 9h1M54 9h3M67 9h1M92 9h1M100 9h1M103 9h1M1 10h1M7 10h1M22 10h1M26 10h2M34 10h1M57 10h1M69 10h1M77 10h1M80 10h1M86 10h1M88 10h3M92 10h1M102 10h1M0 11h2M14 11h2M34 11h1M39 11h1M42 11h1M67 11h1M72 11h2M85 11h1"/><path stroke="#08f" d="M44 0h1M58 0h1M71 0h1M76 0h1M94 0h1M106 0h3M40 1h1M44 1h1M58 1h1M87 1h1M8 2h1M13 2h1M15 2h1M28 2h1M36 2h1M43 2h1M57 2h1M71 2h1M79 2h1M98 2h1M18 3h1M30 3h1M33 3h1M45 3h1M50 3h1M62 3h1M66 3h1M69 3h1M88 3h2M99 3h1M110 3h1M36 4h1M46 4h1M50 4h1M68 4h1M99 4h1M101 4h3M107 4h1M8 5h1M26 5h1M28 5h1M37 5h1M70 5h1M72 5h1M86 5h1M92 5h1M105 5h1M108 5h1M14 6h1M19 6h1M22 6h1M38 6h2M58 6h1M63 6h1M85 6h1M91 6h1M96 6h1M110 6h1M13 7h1M22 7h1M30 7h1M36 7h1M40 7h1M44 7h1M65 7h1M68 7h1M75 7h1M81 7h1M90 7h1M92 7h1M98 7h1M2 8h2M28 8h1M38 8h1M62 8h1M70 8h1M73 8h1M83 8h1M88 8h1M95 8h1M27 9h1M32 9h1M35 9h1M57 9h1M63 9h1M91 9h1M101 9h1M105 9h1M76 10h1M84 10h1M98 10h1M101 10h1M8 11h1M35 11h1M48 11h1M61 11h1M65 11h1M88 11h1M107 11h1"/><path stroke="#0bf" d="M7 0h1M11 0h1M37 0h1M69 0h1M103 0h2M10 1h1M29 1h1M33 1h1M76 1h1M99 1h1M11 2h1M20 2h1M34 2h1M38 2h2M56 2h1M63 2h1M80 2h1M87 2h1M26 3h2M59 3h1M48 4h1M53 4h1M91 4h1M105 4h1M15 5h1M36 5h1M39 5h1M71 5h1M4 6h1M20 6h1M33 6h1M53 6h1M84 6h1M0 7h1M37 7h1M43 7h1M86 7h1M107 7h1M34 8h1M59 8h1M84 8h1M14 9h1M25 9h1M38 9h1M70 9h1M95 9h1M42 10h1M47 10h1M87 10h1M106 10h1M2 11h1M10 11h1M19 11h1M46 11h1M54 11h1M62 11h1M81 11h1M84 11h1M94 11h1"/><path stroke="#1ee" d="M31 0h1M38 0h1M83 0h1M109 0h1M26 1h1M51 1h1M59 1h1M9 2h1M19 2h1M22 2h1M45 2h1M48 2h1M52 2h1M68 2h1M70 2h1M84 2h1M90 2h1M19 3h1M48 3h1M28 4h1M57 4h1M74 4h1M18 5h1M43 5h2M51 5h1M30 6h1M40 6h1M46 6h1M59 6h1M78 6h1M8 7h1M27 7h1M41 8h1M53 8h1M72 8h1M74 8h1M105 8h1M8 9h1M86 9h1M93 9h1M32 10h1M41 10h1M29 11h1M68 11h1M77 11h1"/><path stroke="#3fb" d="M96 0h1M6 1h1M66 1h1M26 2h1M82 2h1M104 3h1M92 4h1M25 5h1M55 5h1M90 5h1M104 5h1M106 5h1M6 6h1M69 6h1M90 6h1M99 7h1M86 8h1M34 9h1M61 9h1M72 9h1M98 9h1M109 9h1M9 10h1M7 11h1M27 11h1M89 11h1M106 11h1M109 11h1"/><path stroke="#6f9" d="M36 1h1M16 3h1M25 3h1M32 3h1M43 3h1M9 4h1M12 4h1M61 5h1M64 6h1M49 8h1M98 8h1M94 9h1M12 10h1M19 10h1M31 10h1M26 11h1M75 11h1"/><path stroke="#9f6" d="M22 0h1M66 0h1M102 0h1M2 2h1M21 2h1M67 7h1M3 11h1M63 11h1M80 11h1"/><path stroke="#bf3" d="M25 0h1M8 1h1M97 2h1M58 3h1M81 3h1M105 3h1M97 6h1M79 7h1M87 7h1M67 8h1M54 10h1"/><path stroke="#ef1" d="M109 1h1M94 6h1M108 6h1M15 7h1M18 8h1M31 8h1M93 8h1M20 9h1M107 9h1M38 11h1M79 11h1"/><path stroke="#fc0" d="M18 0h1M67 1h1M107 2h1M102 3h1M88 4h1M68 6h1M62 7h1M10 9h1M69 9h1M67 10h1M4 11h1M24 11h1M51 11h1"/><path stroke="#f90" d="M55 0h1M61 0h1M1 1h1M31 2h1M93 2h1M3 4h2M15 4h1M39 4h2M83 4h1M87 4h1M89 4h1M109 4h1M76 5h1M11 6h1M76 6h1M89 7h1M0 8h1M29 8h1M58 8h1M76 8h1M58 9h1M76 9h1M108 9h1M55 10h1"/><path stroke="#f60" d="M40 0h1M92 0h1M28 1h1M56 1h1M16 2h1M88 2h2M6 3h1M38 3h1M107 3h1M11 4h1M14 4h1M26 4h1M32 4h1M63 4h1M69 4h1M81 4h1M0 5h1M38 5h1M45 5h1M73 5h1M10 6h1M12 6h1M37 6h1M86 6h1M24 7h1M42 7h1M55 7h1M76 7h1M91 7h1M17 9h1M29 9h1M41 9h1M68 9h1M97 9h1M3 10h1M36 10h1M39 10h1M44 10h2M58 10h1M108 10h1M5 11h1M37 11h1M57 11h1M83 11h1"/><path stroke="#f30" d="M15 0h1M43 0h1M62 0h1M82 0h1M9 1h1M25 1h1M31 1h1M38 1h1M46 1h1M64 1h1M68 1h1M84 1h1M103 1h1M44 2h1M51 2h1M64 2h1M83 2h1M64 3h1M67 3h1M96 3h2M100 3h1M43 4h1M45 4h1M56 4h1M60 4h1M72 4h1M76 4h1M86 4h1M5 5h1M10 5h1M50 5h1M52 5h1M69 5h1M0 6h1M7 6h2M13 6h1M23 6h1M28 6h1M32 6h1M45 6h1M50 6h1M89 6h1M95 6h1M98 6h1M21 7h1M39 7h1M51 7h1M53 7h1M95 7h1M100 7h1M7 8h1M32 8h1M48 8h1M50 8h1M56 8h1M66 8h1M75 8h1M77 8h1M97 8h1M0 9h1M9 9h1M24 9h1M45 9h1M48 9h1M75 9h1M80 9h1M87 9h1M106 9h1M75 10h1M82 10h1M91 10h1M107 10h1M110 10h1M21 11h1M44 11h1M52 11h1M60 11h1M78 11h1M87 11h1M91 11h1"/><path stroke="#d00" d="M26 0h2M32 0h1M34 0h1M36 0h1M47 0h2M93 0h1M7 1h1M19 1h1M42 1h1M53 1h1M61 1h1M90 1h1M104 1h1M4 2h1M10 2h1M18 2h1M41 2h1M49 2h1M58 2h1M72 2h1M103 2h1M12 3h1M23 3h1M53 3h1M55 3h1M70 3h1M76 3h1M79 3h1M90 3h1M98 3h1M109 3h1M23 4h1M41 4h1M55 4h1M58 4h1M11 5h3M17 5h1M24 5h1M30 5h1M33 5h1M63 5h1M79 5h1M88 5h1M94 5h1M96 5h1M15 6h1M41 6h1M54 6h1M72 6h1M80 6h3M99 6h1M5 7h2M17 7h1M19 7h1M38 7h1M41 7h1M47 7h1M97 7h1M102 7h1M13 8h1M30 8h1M37 8h1M39 8h1M52 8h1M60 8h1M94 8h1M3 9h1M5 9h1M11 9h1M42 9h1M50 9h2M60 9h1M62 9h1M74 9h1M46 10h1M49 10h1M59 10h1M71 10h1M105 10h1M109 10h1M12 11h2M16 11h1M30 11h1M45 11h1M53 11h1M69 11h1M95 11h1M101 11h1"/><path stroke="#900" d="M2 0h1M30 0h1M52 0h1M72 0h1M74 0h1M78 0h1M80 0h2M86 0h1M105 0h1M12 1h1M14 1h2M21 1h1M34 1h1M37 1h1M65 1h1M72 1h1M74 1h1M85 1h1M1 2h1M24 2h1M27 2h1M32 2h1M53 2h1M77 2h1M99 2h1M109 2h1M13 3h1M21 3h1M29 3h1M56 3h1M60 3h1M71 3h1M93 3h1M101 3h1M108 3h1M1 4h2M6 4h1M18 4h1M22 4h1M42 4h1M49 4h1M61 4h2M66 4h2M77 4h1M3 5h1M21 5h1M27 5h1M29 5h1M32 5h1M58 5h1M62 5h1M78 5h1M82 5h1M87 5h1M95 5h1M99 5h1M107 5h1M3 6h1M17 6h1M21 6h1M24 6h1M31 6h1M36 6h1M44 6h1M51 6h1M55 6h1M62 6h1M66 6h2M74 6h1M87 6h1M92 6h1M104 6h1M1 7h1M12 7h1M18 7h1M31 7h1M57 7h2M69 7h1M74 7h1M84 7h1M8 8h1M22 8h1M46 8h2M61 8h1M78 8h1M81 8h1M87 8h1M90 8h1M103 8h1M107 8h1M7 9h1M44 9h1M65 9h1M71 9h1M78 9h1M84 9h1M89 9h1M4 10h1M6 10h1M21 10h1M37 10h2M40 10h1M50 10h1M56 10h1M74 10h1M78 10h1M83 10h1M85 10h1M95 10h1M100 10h1M104 10h1M20 11h1M22 11h1M33 11h1M36 11h1M55 11h2M97 11h1M99 11h1M103 11h1"/></g></pattern>
<pattern id="LRy" width="111" height="12" patternUnits="userSpaceOnUse"><rect width="111" height="12" fill="#900"/><g transform="translate(0,.5)" fill="none" stroke-width="1" shape-rendering="crispEdges"><path stroke="#009" d="M0 0h1M6 0h1M11 0h1M14 0h1M16 0h1M27 0h1M29 0h1M31 0h1M33 0h1M35 0h2M38 0h2M44 0h1M46 0h2M53 0h1M59 0h1M68 0h1M71 0h2M76 0h1M79 0h1M81 0h1M84 0h2M87 0h4M93 0h1M95 0h1M101 0h1M103 0h3M107 0h1M0 1h1M3 1h1M5 1h5M14 1h3M22 1h2M25 1h1M27 1h3M33 1h2M42 1h1M51 1h1M54 1h1M57 1h1M62 1h2M69 1h1M71 1h2M79 1h1M83 1h1M86 1h3M91 1h2M95 1h1M99 1h1M101 1h1M105 1h1M107 1h1M109 1h1M1 2h1M3 2h1M6 2h2M12 2h1M15 2h2M18 2h1M20 2h1M24 2h2M27 2h2M31 2h2M40 2h1M43 2h1M45 2h2M51 2h1M55 2h1M57 2h1M62 2h2M66 2h1M70 2h1M72 2h1M77 2h1M80 2h1M83 2h1M87 2h1M91 2h1M94 2h2M98 2h3M102 2h1M104 2h1M109 2h1M0 3h1M6 3h3M11 3h1M15 3h1M17 3h2M24 3h1M27 3h1M36 3h3M44 3h1M50 3h1M57 3h1M63 3h1M71 3h1M80 3h3M86 3h1M88 3h1M92 3h1M96 3h2M99 3h2M104 3h1M6 4h1M9 4h1M11 4h2M15 4h2M18 4h1M20 4h3M32 4h1M35 4h2M40 4h1M44 4h4M54 4h5M66 4h4M72 4h1M79 4h3M85 4h2M89 4h1M91 4h1M93 4h1M97 4h1M100 4h2M104 4h1M107 4h1M0 5h1M6 5h1M8 5h2M11 5h1M14 5h2M18 5h2M22 5h2M28 5h1M32 5h1M36 5h1M45 5h1M50 5h1M52 5h1M54 5h1M70 5h1M73 5h2M78 5h1M80 5h1M85 5h1M88 5h1M90 5h1M93 5h3M0 6h2M3 6h1M12 6h3M17 6h1M26 6h1M29 6h1M31 6h1M37 6h1M40 6h2M43 6h1M50 6h1M52 6h1M55 6h1M63 6h1M81 6h2M84 6h1M86 6h1M91 6h1M96 6h1M98 6h1M102 6h1M104 6h1M108 6h1M110 6h1M2 7h1M8 7h2M14 7h1M17 7h1M20 7h1M26 7h1M30 7h1M33 7h1M36 7h1M40 7h2M43 7h1M48 7h2M54 7h1M56 7h2M59 7h1M63 7h2M66 7h1M76 7h1M82 7h1M89 7h1M93 7h2M96 7h1M99 7h1M103 7h1M109 7h1M0 8h1M10 8h1M13 8h1M15 8h1M19 8h1M22 8h2M25 8h1M30 8h1M36 8h1M43 8h3M47 8h2M51 8h1M53 8h1M56 8h3M62 8h1M68 8h1M71 8h1M76 8h1M78 8h1M80 8h1M84 8h2M88 8h2M91 8h1M95 8h1M100 8h1M102 8h1M104 8h1M1 9h3M5 9h1M11 9h1M14 9h2M19 9h1M28 9h1M30 9h2M34 9h1M36 9h2M40 9h1M45 9h1M60 9h1M67 9h2M75 9h1M78 9h1M83 9h2M89 9h3M95 9h1M97 9h1M107 9h3M4 10h2M7 10h1M14 10h1M16 10h1M18 10h1M20 10h3M28 10h1M33 10h2M36 10h1M39 10h1M48 10h1M52 10h1M59 10h1M61 10h1M64 10h1M67 10h3M75 10h1M77 10h1M82 10h1M88 10h1M93 10h1M95 10h1M107 10h1M4 11h1M6 11h2M16 11h2M19 11h3M26 11h1M34 11h1M38 11h1M40 11h2M43 11h2M47 11h2M51 11h3M63 11h1M70 11h2M76 11h2M84 11h1M86 11h1M90 11h2M93 11h1M110 11h1"/><path stroke="#00d" d="M15 0h1M41 0h1M60 0h1M19 3h1M35 3h1M5 4h1M4 5h1M66 5h1M71 5h1M79 5h1M110 5h1M33 6h1M94 6h1M38 7h1M77 7h1M4 8h1M38 8h1M9 9h1M27 9h1M32 9h1M10 10h1M80 10h1M65 11h1M82 11h1"/><path stroke="#01f" d="M100 0h1M1 4h1M48 5h1M55 5h1M105 9h1M29 10h1M74 10h1"/><path stroke="#04f" d="M50 7h1M48 9h1"/><path stroke="#08f" d="M73 1h1M22 6h1M97 6h1"/><path stroke="#1ee" d="M39 5h1M0 11h1M102 11h1"/><path stroke="#3fb" d="M109 3h1"/><path stroke="#6f9" d="M72 3h1M98 5h1M67 6h1M106 7h1"/><path stroke="#9f6" d="M64 4h1M17 10h1"/><path stroke="#bf3" d="M19 0h1"/><path stroke="#ef1" d="M110 9h1"/><path stroke="#fc0" d="M44 2h1M50 11h1"/><path stroke="#f90" d="M100 5h1M92 8h1M88 9h1M9 10h1"/><path stroke="#f60" d="M4 2h1M73 8h1"/><path stroke="#f30" d="M23 0h1M53 2h1M56 2h1M56 3h1M102 4h2M26 5h1M44 5h1M19 6h1M39 6h1M51 6h1M90 6h1M12 8h1M106 8h1M103 10h1M89 11h1M103 11h1M106 11h1"/><path stroke="#d00" d="M8 0h1M10 0h1M22 0h1M25 0h1M28 0h1M32 0h1M34 0h1M42 0h1M50 0h1M55 0h1M63 0h1M69 0h2M74 0h1M78 0h1M11 1h1M19 1h1M21 1h1M24 1h1M35 1h3M61 1h1M67 1h1M70 1h1M76 1h1M81 1h1M89 1h1M104 1h1M0 2h1M9 2h1M23 2h1M38 2h1M41 2h1M58 2h2M67 2h2M75 2h1M84 2h3M96 2h1M107 2h1M1 3h2M10 3h1M12 3h1M20 3h1M26 3h1M32 3h1M40 3h1M43 3h1M49 3h1M51 3h1M55 3h1M68 3h1M73 3h3M78 3h2M85 3h1M90 3h1M95 3h1M106 3h2M3 4h1M10 4h1M13 4h1M19 4h1M23 4h1M41 4h1M49 4h1M59 4h1M70 4h1M83 4h1M87 4h1M90 4h1M92 4h1M106 4h1M108 4h1M110 4h1M1 5h1M10 5h1M12 5h2M20 5h1M24 5h1M27 5h1M29 5h1M31 5h1M33 5h1M37 5h2M41 5h2M47 5h1M49 5h1M57 5h1M62 5h1M65 5h1M68 5h1M72 5h1M75 5h1M89 5h1M92 5h1M99 5h1M101 5h3M5 6h1M9 6h3M20 6h1M23 6h2M32 6h1M34 6h2M42 6h1M44 6h1M54 6h1M64 6h1M66 6h1M74 6h1M76 6h2M80 6h1M83 6h1M85 6h1M92 6h1M95 6h1M100 6h2M3 7h1M6 7h1M15 7h1M18 7h2M21 7h1M28 7h1M45 7h1M67 7h1M71 7h1M73 7h2M79 7h2M95 7h1M101 7h1M105 7h1M107 7h1M5 8h1M8 8h1M11 8h1M17 8h1M29 8h1M32 8h2M35 8h1M37 8h1M40 8h1M49 8h1M59 8h2M70 8h1M77 8h1M103 8h1M8 9h1M21 9h1M41 9h1M43 9h1M46 9h1M50 9h1M61 9h1M64 9h2M72 9h1M77 9h1M94 9h1M1 10h1M3 10h1M31 10h1M38 10h1M44 10h1M46 10h2M50 10h1M53 10h1M55 10h1M58 10h1M62 10h2M70 10h1M83 10h1M86 10h1M94 10h1M99 10h1M110 10h1M2 11h1M10 11h1M14 11h2M24 11h2M27 11h3M36 11h1M42 11h1M67 11h1M72 11h1M80 11h1M83 11h1M85 11h1M105 11h1M108 11h2"/></g></pattern>
<pattern id="Lry" width="111" height="12" patternUnits="userSpaceOnUse"><rect width="111" height="12" fill="#009"/><g transform="translate(0,.5)" fill="none" stroke-width="1" shape-rendering="crispEdges"><path stroke="#00d" d="M19 0h1M28 0h1M39 0h1M54 0h1M70 0h1M83 0h1M102 0h1M107 0h1M7 1h1M17 1h2M21 1h2M29 1h1M31 1h1M35 1h2M43 1h1M68 1h1M81 1h1M85 1h1M91 1h1M102 1h1M6 2h1M14 2h1M27 2h1M32 2h1M41 2h1M49 2h1M56 2h3M68 2h1M70 2h1M77 2h1M81 2h1M88 2h1M91 2h1M98 2h1M101 2h1M106 2h1M109 2h2M25 3h2M28 3h2M54 3h1M60 3h1M62 3h1M81 3h1M87 3h1M99 3h1M101 3h2M12 4h1M31 4h1M35 4h1M46 4h1M52 4h1M70 4h2M75 4h1M89 4h1M92 4h1M98 4h1M107 4h2M7 5h1M10 5h2M23 5h1M32 5h2M56 5h1M61 5h1M66 5h1M75 5h1M82 5h1M90 5h1M92 5h1M105 5h1M108 5h1M17 6h2M21 6h1M23 6h1M27 6h1M32 6h1M36 6h1M45 6h1M54 6h1M56 6h1M70 6h1M81 6h2M84 6h1M95 6h1M97 6h1M101 6h1M6 7h1M21 7h1M24 7h1M38 7h1M44 7h1M49 7h1M52 7h1M60 7h1M62 7h1M69 7h1M5 8h2M17 8h1M21 8h1M23 8h1M25 8h1M64 8h1M74 8h1M81 8h1M106 8h1M109 8h1M4 9h1M10 9h1M12 9h1M20 9h1M24 9h1M45 9h1M48 9h1M59 9h1M61 9h1M63 9h1M73 9h1M77 9h1M81 9h1M83 9h1M100 9h1M110 9h1M6 10h1M13 10h1M22 10h1M26 10h1M30 10h1M48 10h1M53 10h1M56 10h1M67 10h1M69 10h1M72 10h1M78 10h1M87 10h1M91 10h1M107 10h1M110 10h1M5 11h1M9 11h1M30 11h2M39 11h1M41 11h1M44 11h1M50 11h1M54 11h1M62 11h1M85 11h1M94 11h1"/><path stroke="#01f" d="M6 0h1M25 0h2M35 0h1M45 0h1M72 0h1M81 0h1M92 0h1M103 0h1M109 0h1M6 1h1M13 1h1M19 1h1M32 1h1M53 1h1M57 1h1M60 1h2M63 1h1M69 1h3M92 1h1M108 1h1M0 2h1M8 2h1M31 2h1M50 2h1M52 2h1M67 2h1M75 2h1M102 2h1M1 3h1M6 3h1M10 3h1M20 3h2M23 3h1M36 3h1M57 3h1M59 3h1M65 3h1M89 3h1M94 3h1M105 3h1M109 3h1M1 4h1M18 4h1M23 4h2M55 4h1M57 4h1M64 4h1M82 4h1M86 4h1M101 4h1M14 5h1M21 5h1M31 5h1M34 5h2M45 5h1M54 5h2M60 5h1M63 5h2M69 5h1M76 5h1M104 5h1M110 5h1M12 6h1M49 6h1M55 6h1M58 6h1M64 6h1M68 6h1M77 6h1M79 6h1M90 6h1M93 6h1M104 6h1M107 6h1M3 7h1M8 7h1M15 7h1M18 7h1M28 7h1M33 7h1M42 7h1M56 7h1M73 7h1M83 7h1M100 7h1M106 7h1M109 7h1M13 8h1M65 8h1M84 8h1M88 8h1M15 9h1M17 9h1M25 9h1M30 9h1M38 9h1M42 9h1M44 9h1M46 9h1M57 9h1M68 9h1M89 9h1M105 9h1M107 9h1M1 10h1M33 10h1M38 10h1M40 10h1M62 10h1M66 10h1M68 10h1M77 10h1M92 10h1M95 10h1M101 10h1M106 10h1M109 10h1M0 11h1M20 11h1M28 11h2M64 11h1M66 11h1M68 11h1M97 11h1M101 11h2M110 11h1"/><path stroke="#04f" d="M1 0h1M9 0h1M13 0h1M27 0h1M31 0h1M46 0h2M58 0h1M67 0h1M88 0h1M90 0h1M96 0h1M104 0h1M23 1h1M46 1h1M54 1h1M82 1h1M106 1h1M1 2h1M5 2h1M23 2h1M73 2h1M84 2h1M93 2h1M105 2h1M48 3h2M56 3h1M71 3h1M76 3h1M78 3h1M80 3h1M85 3h1M88 3h1M92 3h1M15 4h1M38 4h1M67 4h2M84 4h1M91 4h1M95 4h1M13 5h1M50 5h1M102 5h1M1 6h1M4 6h1M14 6h1M30 6h1M52 6h1M60 6h1M75 6h1M80 6h1M17 7h1M36 7h1M45 7h1M48 7h1M68 7h1M70 7h1M75 7h1M84 7h2M87 7h1M95 7h1M7 8h1M10 8h1M16 8h1M20 8h1M29 8h1M32 8h1M34 8h2M43 8h1M54 8h1M78 8h1M86 8h1M98 8h1M102 8h1M5 9h1M35 9h1M53 9h1M84 9h1M91 9h1M102 9h1M5 10h1M24 10h1M65 10h1M71 10h1M90 10h1M99 10h1M71 11h1M81 11h3"/><path stroke="#08f" d="M0 0h1M20 0h1M76 0h1M37 1h1M77 1h1M94 1h1M107 1h1M38 2h1M42 2h1M89 2h1M17 3h1M52 3h1M61 3h1M73 3h1M95 3h1M83 4h1M90 4h1M3 5h1M18 5h1M65 5h1M74 5h1M15 6h1M53 6h1M103 6h1M13 7h2M89 7h1M103 7h1M107 7h1M16 9h1M52 9h1M90 9h1M97 9h1M35 10h1M64 10h1M26 11h1M43 11h1"/><path stroke="#0bf" d="M4 0h1M14 1h1M28 1h1M42 1h1M85 2h1M94 2h1M37 3h1M44 3h1M51 3h1M26 4h1M42 4h1M1 5h1M9 5h1M17 5h1M77 5h1M72 6h1M79 7h1M97 7h1M87 8h1M29 9h1M39 9h1M55 9h1M67 9h1M7 10h1M43 10h1M27 11h1M36 11h1M92 11h1"/><path stroke="#1ee" d="M23 0h1M24 1h1M41 4h1M97 4h1M27 5h1M55 8h1M86 9h1"/><path stroke="#3fb" d="M48 1h1M72 4h1M94 4h1M29 6h1M27 9h1M95 9h1M47 10h1"/><path stroke="#6f9" d="M59 0h1M107 3h1M74 4h1M84 5h1M96 5h1M44 6h1M56 9h1M64 9h1"/><path stroke="#9f6" d="M51 5h1M100 8h1M91 11h1"/><path stroke="#bf3" d="M2 0h1M94 0h1M74 1h1M29 2h1M55 2h1M61 2h1M0 3h1M2 3h1M22 6h1M9 7h1M54 9h1M69 9h1"/><path stroke="#ef1" d="M99 0h1M100 1h1M20 2h1M87 2h1M7 3h1M34 3h1M28 4h1M78 4h1M105 4h1M42 5h1M99 5h1M76 6h1M30 7h1M1 8h1M9 8h1M75 8h1M80 8h1M89 10h1M19 11h1M23 11h1M90 11h1"/><path stroke="#fc0" d="M8 0h1M8 1h1M55 1h1M33 2h1M5 4h1M61 4h1M65 4h1M4 5h1M9 6h1M19 6h2M40 6h1M90 7h1M28 9h1M43 9h1M98 9h1M109 9h1M37 10h1M21 11h1M88 11h1M98 11h1"/><path stroke="#f90" d="M12 0h1M33 0h1M44 0h1M57 0h1M62 0h1M73 0h1M105 0h1M58 1h1M97 1h1M3 3h1M11 3h1M70 3h1M79 3h1M86 3h1M2 4h1M17 4h1M79 4h1M96 4h1M49 5h1M10 6h1M87 6h1M63 7h1M67 7h1M11 8h1M33 8h1M59 8h1M0 9h1M32 9h1M12 10h1M60 10h1M51 11h1M58 11h1M72 11h1"/><path stroke="#f60" d="M3 0h1M16 0h1M34 0h1M41 0h1M49 0h2M56 0h1M60 0h1M71 0h1M97 0h1M110 0h1M12 1h1M38 1h1M41 1h1M67 1h1M73 1h1M86 1h1M88 1h1M90 1h1M96 1h1M109 1h2M26 2h1M28 2h1M37 2h1M39 2h1M59 2h1M71 2h1M78 2h1M80 2h1M22 3h1M42 3h1M64 3h1M96 3h1M3 4h1M8 4h1M33 4h1M37 4h1M60 4h1M103 4h1M6 5h1M43 5h1M52 5h1M81 5h1M85 5h1M87 5h2M93 5h1M106 5h1M24 6h1M26 6h1M47 6h1M66 6h1M12 7h1M41 7h1M50 7h1M86 7h1M94 7h1M105 7h1M3 8h1M12 8h1M95 8h1M97 8h1M18 9h1M47 9h1M58 9h1M60 9h1M65 9h1M87 9h2M101 9h1M4 10h1M18 10h1M54 10h1M73 10h1M94 10h1M102 10h1M108 10h1M13 11h2M35 11h1M40 11h1M48 11h1"/><path stroke="#f30" d="M11 0h1M14 0h1M65 0h2M78 0h1M82 0h1M84 0h1M91 0h1M93 0h1M4 1h1M9 1h1M15 1h1M25 1h1M33 1h1M39 1h1M59 1h1M64 1h2M83 1h1M87 1h1M2 2h1M10 2h1M17 2h1M51 2h1M54 2h1M69 2h1M82 2h1M92 2h1M19 3h1M58 3h1M66 3h1M74 3h1M108 3h1M7 4h1M29 4h2M39 4h1M45 4h1M56 4h1M66 4h1M76 4h1M80 4h1M106 4h1M8 5h1M25 5h1M30 5h1M36 5h1M39 5h1M46 5h1M57 5h1M79 5h1M95 5h1M103 5h1M107 5h1M109 5h1M7 6h1M13 6h1M34 6h1M39 6h1M48 6h1M71 6h1M85 6h2M96 6h1M108 6h1M2 7h1M7 7h1M20 7h1M23 7h1M31 7h1M39 7h1M46 7h1M58 7h1M65 7h1M72 7h1M78 7h1M96 7h1M98 7h1M104 7h1M108 7h1M14 8h1M22 8h1M27 8h2M48 8h1M52 8h1M56 8h1M61 8h3M72 8h1M77 8h1M96 8h1M110 8h1M11 9h1M71 9h1M75 9h1M99 9h1M103 9h1M8 10h1M15 10h1M19 10h1M42 10h1M55 10h1M57 10h2M82 10h2M85 10h2M98 10h1M105 10h1M1 11h1M7 11h1M12 11h1M60 11h1M63 11h1M75 11h2M80 11h1M96 11h1M108 11h1"/><path stroke="#d00" d="M15 0h1M17 0h1M21 0h1M36 0h1M43 0h1M48 0h1M52 0h1M69 0h1M75 0h1M77 0h1M79 0h1M87 0h1M89 0h1M101 0h1M0 1h1M10 1h2M20 1h1M34 1h1M45 1h1M50 1h1M72 1h1M75 1h1M99 1h1M103 1h2M3 2h1M7 2h1M9 2h1M30 2h1M34 2h1M43 2h1M45 2h1M62 2h1M64 2h1M66 2h1M86 2h1M96 2h1M100 2h1M104 2h1M108 2h1M12 3h3M16 3h1M27 3h1M32 3h2M38 3h1M45 3h1M50 3h1M63 3h1M72 3h1M77 3h1M83 3h1M98 3h1M110 3h1M9 4h1M13 4h1M19 4h1M25 4h1M27 4h1M34 4h1M54 4h1M58 4h1M69 4h1M88 4h1M109 4h1M12 5h1M20 5h1M38 5h1M62 5h1M67 5h1M71 5h1M78 5h1M83 5h1M94 5h1M98 5h1M0 6h1M38 6h1M59 6h1M63 6h1M78 6h1M92 6h1M98 6h1M100 6h1M102 6h1M109 6h2M4 7h1M19 7h1M22 7h1M26 7h1M32 7h1M37 7h1M51 7h1M55 7h1M59 7h1M61 7h1M74 7h1M76 7h1M0 8h1M2 8h1M18 8h1M24 8h1M30 8h2M36 8h1M38 8h2M49 8h1M66 8h1M68 8h2M79 8h1M82 8h2M91 8h1M94 8h1M101 8h1M104 8h1M107 8h1M1 9h1M3 9h1M7 9h1M26 9h1M51 9h1M66 9h1M78 9h1M82 9h1M3 10h1M9 10h3M20 10h1M36 10h1M51 10h1M59 10h1M63 10h1M74 10h1M84 10h1M97 10h1M15 11h2M22 11h1M25 11h1M38 11h1M46 11h2M55 11h1M70 11h1M74 11h1M77 11h1M87 11h1M93 11h1M103 11h3M107 11h1"/><path stroke="#900" d="M5 0h1M18 0h1M29 0h2M32 0h1M40 0h1M42 0h1M53 0h1M55 0h1M61 0h1M64 0h1M68 0h1M95 0h1M100 0h1M106 0h1M1 1h1M3 1h1M16 1h1M27 1h1M47 1h1M49 1h1M51 1h1M66 1h1M76 1h1M78 1h1M98 1h1M4 2h1M15 2h1M18 2h2M21 2h1M24 2h1M35 2h1M40 2h1M44 2h1M46 2h2M65 2h1M72 2h1M76 2h1M79 2h1M83 2h1M90 2h1M103 2h1M107 2h1M9 3h1M18 3h1M30 3h1M67 3h1M84 3h1M90 3h1M100 3h1M103 3h1M0 4h1M6 4h1M14 4h1M16 4h1M20 4h1M22 4h1M32 4h1M36 4h1M40 4h1M43 4h2M48 4h1M50 4h1M53 4h1M62 4h2M73 4h1M85 4h1M87 4h1M99 4h1M110 4h1M0 5h1M2 5h1M15 5h1M22 5h1M24 5h1M26 5h1M37 5h1M40 5h2M44 5h1M47 5h1M53 5h1M58 5h1M70 5h1M72 5h1M86 5h1M89 5h1M101 5h1M2 6h1M6 6h1M11 6h1M16 6h1M31 6h1M33 6h1M35 6h1M37 6h1M57 6h1M61 6h1M65 6h1M67 6h1M73 6h1M83 6h1M88 6h2M91 6h1M99 6h1M106 6h1M5 7h1M16 7h1M43 7h1M47 7h1M54 7h1M66 7h1M81 7h1M99 7h1M102 7h1M110 7h1M15 8h1M44 8h3M50 8h2M53 8h1M57 8h1M60 8h1M70 8h2M85 8h1M89 8h2M92 8h2M99 8h1M2 9h1M14 9h1M21 9h1M23 9h1M36 9h2M40 9h2M49 9h1M72 9h1M76 9h1M79 9h2M85 9h1M94 9h1M2 10h1M16 10h1M23 10h1M25 10h1M27 10h1M31 10h2M41 10h1M45 10h1M52 10h1M70 10h1M75 10h2M93 10h1M96 10h1M100 10h1M2 11h1M4 11h1M10 11h2M17 11h2M24 11h1M32 11h1M37 11h1M45 11h1M52 11h2M56 11h2M61 11h1M67 11h1M69 11h1M73 11h1M78 11h1M84 11h1M86 11h1M95 11h1M99 11h1M106 11h1"/></g></pattern>
<pattern id="Loy" width="111" height="12" patternUnits="userSpaceOnUse"><rect width="111" height="12" fill="#f60"/><g transform="translate(0,.5)" fill="none" stroke-width="1" shape-rendering="crispEdges"><path stroke="#009" d="M5 0h1M8 0h1M35 0h1M37 0h1M49 0h1M66 0h1M91 0h1M28 1h1M38 1h1M43 1h1M53 1h1M108 1h1M0 2h2M26 2h1M40 2h1M64 2h1M90 2h1M3 3h1M12 3h1M17 3h1M30 3h1M77 3h1M84 3h1M27 4h1M38 4h1M40 4h1M84 4h1M94 4h1M96 4h1M8 5h1M60 5h1M74 5h1M38 6h2M51 6h1M81 6h1M84 6h1M94 6h1M43 7h1M69 7h2M77 7h1M3 8h1M28 8h1M31 8h1M34 8h1M41 8h1M97 8h1M27 9h2M80 9h1M107 9h1M19 10h1M34 10h1M40 10h1M62 10h2M97 10h1M108 10h1M29 11h1M33 11h1M36 11h1M56 11h1M75 11h1M87 11h1"/><path stroke="#00d" d="M21 0h1M59 0h1M79 0h1M7 1h1M10 1h1M55 2h1M61 2h1M76 2h1M109 2h1M52 4h1M7 5h1M31 5h1M54 5h1M94 5h1M4 6h1M92 6h1M6 7h1M21 7h1M50 7h1M72 8h1M14 9h1M85 9h1M91 9h1M95 9h1M0 11h1M15 11h1M74 11h1"/><path stroke="#01f" d="M64 0h1M70 0h1M107 0h1M5 1h1M23 1h1M42 2h1M19 3h1M15 4h1M90 5h1M95 5h1M0 9h1M43 10h1M83 10h1"/><path stroke="#04f" d="M42 0h1M28 3h1M34 4h1M9 5h2M109 5h1M27 10h1M41 10h1"/><path stroke="#08f" d="M69 4h1M99 7h1M10 10h1"/><path stroke="#0bf" d="M78 3h1M32 5h1M94 8h1M38 10h1M35 11h1"/><path stroke="#1ee" d="M17 0h1M102 5h1M10 6h1M17 9h1"/><path stroke="#3fb" d="M3 4h1M100 4h1M102 6h1M37 7h1M60 10h1"/><path stroke="#6f9" d="M34 1h1M49 1h1M106 2h1M3 7h1M55 7h1M85 7h1M94 7h1M59 9h1M75 9h1"/><path stroke="#9f6" d="M58 0h1M4 1h1M18 1h1M58 1h1M67 1h1M85 1h1M20 2h1M49 2h1M83 2h1M4 3h1M52 3h1M96 3h1M25 4h1M43 4h1M54 4h1M58 4h1M67 5h1M33 6h1M76 6h1M32 8h1M7 9h1M20 9h1M38 9h1M57 9h1M82 10h1M4 11h1M49 11h1M95 11h1"/><path stroke="#bf3" d="M2 0h1M15 0h1M36 0h1M103 0h1M6 1h1M73 1h1M88 1h1M105 1h2M6 2h1M9 2h1M30 2h1M78 2h1M86 2h1M88 2h1M49 4h1M80 4h1M23 5h1M99 5h1M5 6h1M72 6h2M11 7h1M39 7h1M42 7h1M72 7h1M83 7h1M88 7h1M93 7h1M91 8h1M1 9h1M19 9h1M50 9h1M70 10h1M86 10h1M100 10h1M9 11h1M53 11h1"/><path stroke="#ef1" d="M78 0h1M95 0h1M11 1h1M64 1h1M86 1h1M89 1h1M102 1h1M17 2h2M47 2h1M50 2h1M57 2h1M81 2h1M87 2h1M8 3h1M15 3h1M21 3h1M38 3h1M46 3h1M49 3h1M79 3h2M14 4h1M19 4h1M26 4h1M44 4h1M55 4h1M99 4h1M4 5h2M33 5h2M49 5h1M68 5h1M70 5h1M97 5h1M101 5h1M108 5h1M18 6h1M20 6h1M31 6h1M47 6h1M55 6h2M104 6h1M28 7h1M41 7h1M105 7h1M24 8h1M35 8h1M79 8h2M100 8h1M103 8h1M18 9h1M36 9h1M43 9h1M49 9h1M93 9h1M108 9h1M55 10h1M72 10h1M92 10h1M5 11h1M23 11h1M55 11h1M68 11h1M73 11h1M78 11h1M81 11h1M90 11h1M92 11h1M97 11h1M107 11h1"/><path stroke="#fc0" d="M1 0h1M18 0h1M24 0h1M29 0h1M39 0h1M48 0h1M60 0h1M73 0h3M84 0h1M90 0h1M105 0h2M1 1h1M16 1h1M20 1h1M35 1h1M37 1h1M56 1h1M70 1h1M72 1h1M95 1h1M98 1h1M107 1h1M4 2h1M11 2h1M34 2h1M37 2h1M48 2h1M53 2h2M62 2h1M69 2h1M73 2h1M92 2h1M96 2h1M102 2h1M108 2h1M13 3h1M47 3h1M53 3h3M58 3h1M68 3h2M74 3h1M83 3h1M98 3h1M101 3h1M105 3h1M109 3h1M4 4h1M12 4h1M16 4h1M22 4h1M51 4h1M57 4h1M67 4h1M76 4h1M107 4h1M0 5h2M3 5h1M18 5h1M27 5h1M29 5h1M58 5h2M62 5h1M88 5h1M103 5h1M110 5h1M0 6h1M15 6h1M36 6h1M45 6h1M60 6h2M74 6h1M79 6h1M83 6h1M98 6h1M107 6h1M109 6h1M0 7h2M8 7h2M18 7h1M29 7h1M48 7h1M53 7h1M71 7h1M75 7h1M80 7h1M82 7h1M87 7h1M89 7h1M96 7h1M107 7h2M6 8h1M17 8h1M39 8h1M49 8h1M93 8h1M107 8h1M2 9h1M30 9h2M33 9h1M45 9h1M66 9h1M76 9h1M88 9h1M90 9h1M99 9h1M9 10h1M20 10h1M22 10h2M26 10h1M39 10h1M52 10h1M54 10h1M69 10h1M75 10h1M107 10h1M110 10h1M8 11h1M18 11h2M22 11h1M43 11h2M46 11h1M48 11h1M52 11h1M60 11h1M76 11h2"/><path stroke="#f90" d="M12 0h1M25 0h2M34 0h1M38 0h1M40 0h2M44 0h1M55 0h1M61 0h1M68 0h1M83 0h1M98 0h4M104 0h1M108 0h1M2 1h1M9 1h1M22 1h1M26 1h1M41 1h1M44 1h1M47 1h1M54 1h1M61 1h1M71 1h1M93 1h2M110 1h1M14 2h2M21 2h1M45 2h1M63 2h1M66 2h2M71 2h1M74 2h1M80 2h1M84 2h1M97 2h1M101 2h1M105 2h1M110 2h1M2 3h1M5 3h2M11 3h1M14 3h1M23 3h2M27 3h1M32 3h1M36 3h1M42 3h1M45 3h1M48 3h1M56 3h2M63 3h1M65 3h1M67 3h1M71 3h1M86 3h1M99 3h2M1 4h1M6 4h1M9 4h2M39 4h1M42 4h1M56 4h1M63 4h2M88 4h1M93 4h1M101 4h1M105 4h1M24 5h1M28 5h1M39 5h1M44 5h1M48 5h1M50 5h1M52 5h2M56 5h1M64 5h1M66 5h1M69 5h1M71 5h3M78 5h1M81 5h1M89 5h1M104 5h1M1 6h1M30 6h1M43 6h1M50 6h1M57 6h1M88 6h1M90 6h1M93 6h1M95 6h1M106 6h1M2 7h1M10 7h1M15 7h2M32 7h1M35 7h1M44 7h1M47 7h1M56 7h1M63 7h1M65 7h1M73 7h1M78 7h1M86 7h1M100 7h2M104 7h1M0 8h2M18 8h1M20 8h1M22 8h1M42 8h3M61 8h2M68 8h3M74 8h1M77 8h1M84 8h1M98 8h1M102 8h1M106 8h1M108 8h1M110 8h1M4 9h1M8 9h2M22 9h3M26 9h1M37 9h1M46 9h2M54 9h1M58 9h1M61 9h1M65 9h1M70 9h1M72 9h2M92 9h1M96 9h1M98 9h1M100 9h1M103 9h1M0 10h1M7 10h1M30 10h3M44 10h1M50 10h2M57 10h1M61 10h1M67 10h1M73 10h1M80 10h1M84 10h1M89 10h1M91 10h1M95 10h1M98 10h1M101 10h1M106 10h1M109 10h1M11 11h1M17 11h1M20 11h1M28 11h1M32 11h1M38 11h2M54 11h1M58 11h1M94 11h1M98 11h1M101 11h1M103 11h1M108 11h1"/><path stroke="#f30" d="M0 0h1M7 0h1M9 0h1M16 0h1M30 0h1M33 0h1M46 0h1M52 0h1M57 0h1M65 0h1M67 0h1M76 0h1M82 0h1M89 0h1M93 0h2M14 1h1M27 1h1M29 1h1M31 1h1M33 1h1M42 1h1M50 1h1M59 1h2M62 1h1M66 1h1M79 1h1M81 1h1M84 1h1M99 1h1M3 2h1M7 2h2M16 2h1M19 2h1M24 2h1M27 2h2M33 2h1M35 2h2M39 2h1M41 2h1M43 2h1M72 2h1M77 2h1M89 2h1M91 2h1M93 2h1M103 2h1M0 3h1M7 3h1M9 3h1M20 3h1M25 3h1M37 3h1M44 3h1M50 3h1M59 3h2M64 3h1M66 3h1M82 3h1M85 3h1M95 3h1M97 3h1M102 3h1M104 3h1M5 4h1M7 4h2M11 4h1M21 4h1M29 4h1M35 4h1M41 4h1M46 4h1M60 4h3M65 4h1M71 4h1M73 4h1M83 4h1M89 4h1M95 4h1M98 4h1M103 4h1M106 4h1M108 4h1M12 5h2M21 5h1M30 5h1M36 5h1M43 5h1M46 5h1M61 5h1M63 5h1M75 5h2M80 5h1M85 5h2M91 5h1M100 5h1M2 6h1M6 6h1M9 6h1M11 6h2M17 6h1M21 6h2M29 6h1M32 6h1M40 6h2M48 6h1M54 6h1M58 6h1M63 6h1M65 6h2M68 6h2M87 6h1M103 6h1M108 6h1M5 7h1M14 7h1M24 7h1M36 7h1M38 7h1M54 7h1M61 7h1M64 7h1M67 7h2M76 7h1M95 7h1M98 7h1M102 7h1M14 8h1M25 8h1M27 8h1M29 8h1M37 8h1M40 8h1M48 8h1M52 8h1M65 8h2M76 8h1M83 8h1M86 8h1M89 8h1M101 8h1M10 9h1M15 9h1M29 9h1M39 9h2M42 9h1M51 9h1M62 9h1M77 9h1M89 9h1M94 9h1M109 9h2M4 10h1M12 10h1M14 10h1M25 10h1M28 10h2M35 10h2M49 10h1M58 10h1M76 10h1M79 10h1M85 10h1M87 10h1M93 10h1M104 10h1M2 11h1M6 11h1M13 11h2M21 11h1M40 11h2M50 11h2M70 11h1M79 11h2M82 11h2M100 11h1M106 11h1M110 11h1"/><path stroke="#d00" d="M13 0h1M28 0h1M31 0h2M47 0h1M53 0h2M72 0h1M77 0h1M80 0h2M109 0h2M13 1h1M17 1h1M30 1h1M52 1h1M55 1h1M57 1h1M74 1h1M77 1h2M83 1h1M91 1h1M96 1h1M101 1h1M109 1h1M22 2h1M25 2h1M60 2h1M65 2h1M68 2h1M79 2h1M82 2h1M95 2h1M104 2h1M107 2h1M22 3h1M31 3h1M34 3h2M40 3h1M76 3h1M81 3h1M106 3h1M13 4h1M18 4h1M24 4h1M28 4h1M31 4h1M33 4h1M36 4h2M45 4h1M66 4h1M68 4h1M70 4h1M81 4h2M91 4h1M102 4h1M109 4h1M16 5h2M26 5h1M38 5h1M40 5h1M47 5h1M55 5h1M65 5h1M79 5h1M84 5h1M87 5h1M92 5h2M8 6h1M16 6h1M23 6h1M26 6h1M35 6h1M42 6h1M46 6h1M49 6h1M52 6h2M64 6h1M80 6h1M89 6h1M96 6h2M99 6h1M105 6h1M110 6h1M12 7h1M20 7h1M22 7h1M25 7h1M31 7h1M46 7h1M49 7h1M51 7h2M57 7h1M74 7h1M84 7h1M92 7h1M97 7h1M103 7h1M106 7h1M11 8h2M15 8h1M19 8h1M33 8h1M50 8h1M60 8h1M73 8h1M82 8h1M88 8h1M99 8h1M3 9h1M13 9h1M21 9h1M34 9h1M44 9h1M55 9h1M63 9h1M68 9h1M71 9h1M74 9h1M79 9h1M84 9h1M97 9h1M101 9h2M104 9h3M6 10h1M8 10h1M15 10h1M17 10h1M37 10h1M42 10h1M59 10h1M77 10h1M88 10h1M94 10h1M96 10h1M105 10h1M1 11h1M3 11h1M12 11h1M30 11h2M47 11h1M57 11h1M61 11h1M63 11h1M91 11h1M105 11h1"/><path stroke="#900" d="M4 0h1M19 0h2M50 0h1M86 0h1M88 0h1M92 0h1M102 0h1M8 1h1M15 1h1M19 1h1M21 1h1M25 1h1M32 1h1M36 1h1M39 1h1M45 1h1M48 1h1M68 1h2M76 1h1M87 1h1M97 1h1M2 2h1M5 2h1M12 2h1M31 2h1M44 2h1M52 2h1M100 2h1M1 3h1M10 3h1M43 3h1M61 3h1M87 3h1M89 3h1M103 3h1M110 3h1M2 4h1M20 4h1M47 4h2M77 4h2M85 4h1M87 4h1M97 4h1M104 4h1M110 4h1M14 5h1M19 5h1M35 5h1M45 5h1M82 5h1M105 5h2M13 6h1M19 6h1M34 6h1M78 6h1M86 6h1M4 7h1M19 7h1M26 7h2M45 7h1M59 7h2M90 7h1M2 8h1M4 8h1M8 8h1M13 8h1M23 8h1M26 8h1M38 8h1M45 8h1M47 8h1M59 8h1M63 8h1M81 8h1M104 8h2M5 9h1M41 9h1M52 9h1M56 9h1M67 9h1M78 9h1M81 9h1M83 9h1M3 10h1M13 10h1M16 10h1M24 10h1M33 10h1M45 10h1M53 10h1M71 10h1M78 10h1M102 10h2M7 11h1M25 11h1M62 11h1M65 11h1M69 11h1"/></g></pattern>
<pattern id="Lcy" width="111" height="12" patternUnits="userSpaceOnUse"><rect width="111" height="12" fill="#3fb"/><g transform="translate(0,.5)" fill="none" stroke-width="1" shape-rendering="crispEdges"><path stroke="#009" d="M8 0h1M27 0h1M106 0h1M96 1h1M11 2h1M13 2h1M35 2h1M79 3h1M90 3h1M105 3h1M12 4h1M43 4h1M57 4h1M16 5h1M88 5h1M53 6h1M32 9h1M41 9h1M69 9h1M88 9h1M103 11h1"/><path stroke="#00d" d="M3 0h1M57 0h1M65 0h1M38 1h1M81 1h1M68 2h1M76 2h1M78 2h1M87 2h1M6 3h1M93 3h1M99 3h1M109 3h1M17 4h1M52 4h1M68 4h1M26 5h1M32 5h1M47 5h1M100 5h1M96 6h1M16 8h1M22 8h1M77 8h1M92 8h1M94 8h1M98 9h1M13 10h1M109 10h1M4 11h1M37 11h1M68 11h1"/><path stroke="#01f" d="M77 0h1M94 0h1M102 0h1M28 1h2M46 1h1M89 1h1M45 2h1M52 2h1M57 2h1M64 2h1M104 2h1M62 3h1M97 3h1M106 3h1M51 4h1M58 4h1M70 4h1M101 4h1M24 5h1M41 5h1M64 5h1M68 5h1M75 5h1M10 6h1M22 6h1M33 6h1M50 6h2M92 6h1M94 6h1M20 7h1M39 7h1M6 8h1M73 8h1M81 8h1M78 9h1M101 9h1M43 10h1M48 10h1M67 10h1M100 10h1M0 11h1M24 11h1M28 11h1M55 11h1M94 11h1"/><path stroke="#04f" d="M0 0h1M24 0h1M51 0h1M81 0h1M1 1h1M35 1h1M66 1h2M7 2h1M18 2h1M25 2h1M55 2h1M94 2h1M100 2h1M8 3h1M16 3h1M31 3h1M38 3h1M46 3h1M89 3h1M108 3h1M19 4h1M82 4h1M91 4h1M110 4h1M45 5h1M57 5h1M76 5h1M84 5h2M97 5h1M21 6h1M23 6h1M28 6h1M57 6h1M82 6h1M12 7h1M14 7h1M51 7h1M110 7h1M27 8h1M66 8h1M88 8h1M93 8h1M100 8h1M108 8h1M0 9h1M21 9h1M26 9h1M49 9h1M52 9h1M71 9h2M100 9h1M8 10h1M47 10h1M57 10h1M83 10h1M88 10h1M39 11h1M46 11h1M56 11h1M105 11h1"/><path stroke="#08f" d="M20 0h1M29 0h1M37 0h1M42 0h1M64 0h1M69 0h1M87 0h1M92 0h1M103 0h1M7 1h1M10 1h2M17 1h1M40 1h1M60 1h1M62 1h1M75 1h1M86 1h1M107 1h1M10 2h1M46 2h1M58 2h1M66 2h1M19 3h1M36 3h1M39 3h1M50 3h1M52 3h2M73 3h1M76 3h1M94 3h1M98 3h1M102 3h1M2 4h1M8 4h1M27 4h1M45 4h1M64 4h1M93 4h1M13 5h1M71 5h1M81 5h1M96 5h1M2 6h1M32 6h1M40 6h1M42 6h1M55 6h1M65 6h1M81 6h1M88 6h1M68 7h1M73 7h1M103 7h1M109 7h1M3 8h1M7 8h1M20 8h1M34 8h1M50 8h1M55 8h2M74 8h1M78 8h1M30 9h1M47 9h1M107 9h1M9 10h1M14 10h1M32 10h1M76 10h1M10 11h1M12 11h1M27 11h1M48 11h1M65 11h1M101 11h1M109 11h1"/><path stroke="#0bf" d="M1 0h1M45 0h1M47 0h1M59 0h1M63 0h1M79 0h1M84 0h1M0 1h1M3 1h1M5 1h1M15 1h1M49 1h1M53 1h1M65 1h1M80 1h1M92 1h1M94 1h1M108 1h1M23 2h1M27 2h1M29 2h1M51 2h1M75 2h1M1 3h2M5 3h1M13 3h1M24 3h1M37 3h1M45 3h1M51 3h1M64 3h1M103 3h1M1 4h1M3 4h1M16 4h1M22 4h1M47 4h1M89 4h1M7 5h2M14 5h1M27 5h1M52 5h1M62 5h1M94 5h2M107 5h2M3 6h1M15 6h1M18 6h1M20 6h1M36 6h1M45 6h1M59 6h1M62 6h1M64 6h1M66 6h1M73 6h1M99 6h1M1 7h1M3 7h1M16 7h1M34 7h1M56 7h1M58 7h1M76 7h1M85 7h1M95 7h1M98 7h1M101 7h1M106 7h2M17 8h1M37 8h1M47 8h1M49 8h1M52 8h1M61 8h1M65 8h1M87 8h1M96 8h1M99 8h1M103 8h1M110 8h1M11 9h1M25 9h1M33 9h1M37 9h1M39 9h2M43 9h1M50 9h2M68 9h1M86 9h1M94 9h2M18 10h1M25 10h1M46 10h1M53 10h1M61 10h1M66 10h1M69 10h1M90 10h1M101 10h1M15 11h3M33 11h1M52 11h1M59 11h1M61 11h1M80 11h1M85 11h1M100 11h1M104 11h1M106 11h1"/><path stroke="#1ee" d="M5 0h1M15 0h1M17 0h1M22 0h1M54 0h1M82 0h1M86 0h1M2 1h1M24 1h1M56 1h1M77 1h1M103 1h2M2 2h1M17 2h1M19 2h1M22 2h1M26 2h1M34 2h1M43 2h2M63 2h1M73 2h1M82 2h1M98 2h1M0 3h1M3 3h1M10 3h1M26 3h1M29 3h2M40 3h1M43 3h1M54 3h1M63 3h1M68 3h1M101 3h1M110 3h1M7 4h1M15 4h1M23 4h1M25 4h1M33 4h1M75 4h1M94 4h1M100 4h1M104 4h1M21 5h2M29 5h1M55 5h1M60 5h1M73 5h1M78 5h1M82 5h2M87 5h1M89 5h1M93 5h1M99 5h1M101 5h2M104 5h1M1 6h1M46 6h1M48 6h2M60 6h1M86 6h1M93 6h1M98 6h1M4 7h1M15 7h1M29 7h1M37 7h1M63 7h1M65 7h1M69 7h1M78 7h1M96 7h1M8 8h1M12 8h1M21 8h1M28 8h1M32 8h1M36 8h1M38 8h2M41 8h1M45 8h1M57 8h2M60 8h1M76 8h1M86 8h1M90 8h1M95 8h1M105 8h2M5 9h1M7 9h2M17 9h2M20 9h1M24 9h1M35 9h1M46 9h1M53 9h1M67 9h1M87 9h1M104 9h1M2 10h1M7 10h1M12 10h1M16 10h1M19 10h1M35 10h1M40 10h1M44 10h1M52 10h1M56 10h1M68 10h1M85 10h1M87 10h1M92 10h1M102 10h1M107 10h1M3 11h1M6 11h1M23 11h1M41 11h1M45 11h1M53 11h1M57 11h1M64 11h1M66 11h2M79 11h1M89 11h1M91 11h1"/><path stroke="#6f9" d="M7 0h1M10 0h1M14 0h1M25 0h1M36 0h1M41 0h1M50 0h1M55 0h1M67 0h1M74 0h1M93 0h1M98 0h1M108 0h2M4 1h1M8 1h1M25 1h1M36 1h1M54 1h1M58 1h2M63 1h1M99 1h1M102 1h1M20 2h1M24 2h1M38 2h2M47 2h1M56 2h1M74 2h1M77 2h1M79 2h1M85 2h2M95 2h1M22 3h1M34 3h1M55 3h1M87 3h1M91 3h1M0 4h1M11 4h1M32 4h1M36 4h1M40 4h2M54 4h1M63 4h1M74 4h1M98 4h1M109 4h1M3 5h1M23 5h1M25 5h1M28 5h1M37 5h1M42 5h1M44 5h1M48 5h1M66 5h1M70 5h1M77 5h1M90 5h1M109 5h1M6 6h1M12 6h1M27 6h1M30 6h1M43 6h1M47 6h1M67 6h1M70 6h1M76 6h1M80 6h1M89 6h1M6 7h2M13 7h1M21 7h1M24 7h1M27 7h1M31 7h1M38 7h1M40 7h1M45 7h2M61 7h2M70 7h1M93 7h2M104 7h1M29 8h3M44 8h1M46 8h1M64 8h1M68 8h2M91 8h1M98 8h1M101 8h1M4 9h1M13 9h1M15 9h1M22 9h1M58 9h1M73 9h1M80 9h1M85 9h1M103 9h1M34 10h1M41 10h2M58 10h1M95 10h1M105 10h1M7 11h1M19 11h1M26 11h1M30 11h2M71 11h1M75 11h1M77 11h2M84 11h1M88 11h1M102 11h1"/><path stroke="#9f6" d="M13 0h1M23 0h1M28 0h1M48 0h2M53 0h1M56 0h1M66 0h1M70 0h1M80 0h1M91 0h1M95 0h1M22 1h1M33 1h2M69 1h1M72 1h1M79 1h1M91 1h1M106 1h1M14 2h1M41 2h1M54 2h1M62 2h1M69 2h1M80 2h1M4 3h1M12 3h1M18 3h1M23 3h1M27 3h1M33 3h1M49 3h1M56 3h1M70 3h1M84 3h1M4 4h1M9 4h1M13 4h1M18 4h1M20 4h2M31 4h1M34 4h2M71 4h2M76 4h1M79 4h1M83 4h2M96 4h2M105 4h1M108 4h1M0 5h1M4 5h1M15 5h1M33 5h1M36 5h1M50 5h1M74 5h1M110 5h1M7 6h1M13 6h1M34 6h1M54 6h1M63 6h1M68 6h1M75 6h1M77 6h1M79 6h1M83 6h1M95 6h1M107 6h2M10 7h1M36 7h1M48 7h1M50 7h1M67 7h1M71 7h1M75 7h1M83 7h1M87 7h1M108 7h1M5 8h1M14 8h1M19 8h1M23 8h1M33 8h1M59 8h1M62 8h1M75 8h1M83 8h1M85 8h1M97 8h1M3 9h1M10 9h1M16 9h1M23 9h1M28 9h1M31 9h1M54 9h1M90 9h1M93 9h1M99 9h1M5 10h1M17 10h1M24 10h1M31 10h1M38 10h2M59 10h1M62 10h2M65 10h1M70 10h1M84 10h1M86 10h1M104 10h1M2 11h1M18 11h1M20 11h1M25 11h1M35 11h2M50 11h1M63 11h1M72 11h2M87 11h1"/><path stroke="#bf3" d="M9 0h1M12 0h1M35 0h1M39 0h1M43 0h1M46 0h1M68 0h1M72 0h1M89 0h2M96 0h1M101 0h1M9 1h1M13 1h1M27 1h1M32 1h1M51 1h2M61 1h1M84 1h1M90 1h1M98 1h1M1 2h1M16 2h1M28 2h1M53 2h1M61 2h1M65 2h1M67 2h1M90 2h3M96 2h2M99 2h1M108 2h1M15 3h1M20 3h1M35 3h1M81 3h1M6 4h1M24 4h1M30 4h1M39 4h1M46 4h1M59 4h1M61 4h2M65 4h1M69 4h1M81 4h1M86 4h1M88 4h1M99 4h1M103 4h1M106 4h1M1 5h1M5 5h1M9 5h2M17 5h1M38 5h1M43 5h1M49 5h1M53 5h1M56 5h1M79 5h1M86 5h1M98 5h1M5 6h1M24 6h2M35 6h1M74 6h1M78 6h1M84 6h1M102 6h2M110 6h1M9 7h1M11 7h1M30 7h1M35 7h1M47 7h1M53 7h1M59 7h1M64 7h1M66 7h1M74 7h1M79 7h1M90 7h3M99 7h1M15 8h1M42 8h2M51 8h1M53 8h2M79 8h1M82 8h1M102 8h1M36 9h1M57 9h1M64 9h1M74 9h1M82 9h1M89 9h1M96 9h1M109 9h2M0 10h1M3 10h2M6 10h1M23 10h1M29 10h1M33 10h1M45 10h1M50 10h2M79 10h1M93 10h1M96 10h1M98 10h2M14 11h1M32 11h1M42 11h1M47 11h1M51 11h1M54 11h1M62 11h1M110 11h1"/><path stroke="#ef1" d="M4 0h1M6 0h1M11 0h1M16 0h1M38 0h1M52 0h1M85 0h1M88 0h1M100 0h1M110 0h1M6 1h1M44 1h2M50 1h1M64 1h1M85 1h1M93 1h1M100 1h1M5 2h1M9 2h1M12 2h1M15 2h1M49 2h1M60 2h1M107 2h1M14 3h1M25 3h1M41 3h1M58 3h1M66 3h2M71 3h2M74 3h1M88 3h1M10 4h1M37 4h1M44 4h1M92 4h1M95 4h1M102 4h1M11 5h2M34 5h1M46 5h1M59 5h1M80 5h1M8 6h2M19 6h1M29 6h1M44 6h1M90 6h1M100 6h1M109 6h1M8 7h1M26 7h1M41 7h1M44 7h1M57 7h1M60 7h1M81 7h2M88 7h1M102 7h1M4 8h1M18 8h1M6 9h1M9 9h1M59 9h1M62 9h1M65 9h1M79 9h1M91 9h1M105 9h1M27 10h1M37 10h1M64 10h1M73 10h1M78 10h1M108 10h1M44 11h1M70 11h1M76 11h1M90 11h1"/><path stroke="#fc0" d="M19 0h1M34 0h1M99 0h1M12 1h1M19 1h1M37 1h1M70 1h2M74 1h1M4 2h1M6 2h1M48 2h1M70 2h1M103 2h1M105 2h1M109 2h2M7 3h1M44 3h1M59 3h1M69 3h1M77 3h1M100 3h1M107 3h1M28 4h1M49 4h2M53 4h1M66 4h1M78 4h1M85 4h1M30 5h1M61 5h1M105 5h1M4 6h1M16 6h1M26 6h1M37 6h1M39 6h1M52 6h1M72 6h1M104 6h2M0 7h1M5 7h1M17 7h2M43 7h1M54 7h1M105 7h1M9 8h1M11 8h1M24 8h1M67 8h1M89 8h1M1 9h1M19 9h1M38 9h1M56 9h1M66 9h1M84 9h1M108 9h1M1 10h1M49 10h1M72 10h1M77 10h1M81 10h1M91 10h1M110 10h1M5 11h1M8 11h1M21 11h1M29 11h1M40 11h1M82 11h1"/><path stroke="#f90" d="M32 0h1M60 0h1M76 0h1M30 1h1M43 1h1M76 1h1M95 1h1M3 2h1M32 2h1M50 2h1M72 2h1M81 2h1M21 3h1M32 3h1M48 3h1M57 3h1M61 3h1M78 3h1M86 3h1M5 4h1M38 4h1M48 4h1M55 4h2M2 5h1M20 5h1M40 5h1M101 6h1M106 6h1M25 7h1M28 7h1M55 7h1M25 8h2M29 9h1M42 9h1M45 9h1M55 9h1M76 9h1M92 9h1M97 9h1M10 10h1M20 10h1M22 10h1M28 10h1M74 10h1M106 10h1M11 11h1M43 11h1M95 11h1M97 11h1"/><path stroke="#f60" d="M2 0h1M30 0h1M33 0h1M44 0h1M61 0h1M26 1h1M31 1h1M57 1h1M83 1h1M88 1h1M36 2h1M59 2h1M102 2h1M82 3h1M96 3h1M42 4h1M73 4h1M58 5h1M67 5h1M41 6h1M85 6h1M42 7h1M0 8h1M2 8h1M55 10h1M89 10h1M97 10h1M96 11h1"/><path stroke="#f30" d="M83 0h1M41 1h1M78 1h1M105 1h1M33 2h1M40 2h1M26 4h1M106 5h1M87 6h1M97 6h1M97 7h1M100 7h1M104 8h1M61 9h1M81 9h1M1 11h1M86 11h1"/><path stroke="#d00" d="M62 0h1M21 2h1M30 2h1M93 2h1M90 4h1M92 5h1M1 8h1M71 10h1M34 11h1M58 11h1M69 11h1M74 11h1"/><path stroke="#900" d="M58 0h1M71 0h1M104 0h1M18 1h1M48 1h1M82 1h1M8 2h1M101 2h1M11 3h1M28 3h1M87 4h1M19 5h1M17 6h1M40 8h1M102 9h1M36 10h1"/></g></pattern>
<pattern id="Lby" width="111" height="12" patternUnits="userSpaceOnUse"><rect width="111" height="12" fill="#04f"/><g transform="translate(0,.5)" fill="none" stroke-width="1" shape-rendering="crispEdges"><path stroke="#009" d="M10 0h1M44 0h1M87 0h1M91 0h1M93 0h1M97 0h2M3 1h1M9 1h1M15 1h1M33 1h1M46 1h1M56 1h1M105 1h1M37 2h1M42 2h1M57 2h1M69 2h1M79 2h1M99 2h1M19 3h1M31 3h1M35 3h1M37 3h1M46 3h1M49 3h1M85 3h1M91 3h1M20 4h1M27 4h1M41 4h1M42 5h1M61 5h1M65 5h1M98 5h1M12 6h1M37 6h1M42 6h1M46 6h1M108 6h1M13 7h1M15 7h1M24 7h3M35 7h1M38 7h1M53 7h1M55 7h1M62 7h1M83 7h1M94 7h1M5 8h1M24 8h1M38 8h1M45 8h2M69 8h1M73 8h1M82 8h1M30 9h1M40 9h1M48 9h1M64 9h1M74 9h3M6 10h1M8 10h1M12 10h1M21 10h1M34 10h1M87 10h3M96 10h1M13 11h1M22 11h1M30 11h1M66 11h1M90 11h1M104 11h1M107 11h1"/><path stroke="#00d" d="M3 0h1M15 0h1M26 0h1M36 0h1M41 0h1M43 0h1M52 0h1M59 0h1M62 0h1M73 0h1M76 0h1M83 0h1M89 0h1M92 0h1M110 0h1M5 1h1M71 1h1M85 1h1M102 1h1M3 2h1M40 2h1M52 2h1M55 2h1M58 2h1M75 2h1M87 2h1M92 2h1M105 2h2M14 3h2M29 3h2M36 3h1M44 3h1M72 3h1M83 3h1M93 3h1M17 4h1M19 4h1M21 4h1M24 4h1M30 4h1M33 4h1M42 4h1M60 4h1M73 4h1M77 4h2M95 4h1M101 4h1M104 4h1M107 4h1M8 5h1M19 5h1M24 5h1M30 5h1M36 5h1M47 5h1M59 5h2M71 5h2M76 5h1M81 5h1M88 5h1M101 5h1M107 5h1M0 6h2M4 6h1M6 6h1M11 6h1M18 6h1M56 6h1M61 6h1M73 6h1M78 6h1M99 6h1M7 7h1M12 7h1M31 7h1M34 7h1M36 7h1M61 7h1M84 7h1M89 7h2M104 7h1M14 8h1M26 8h1M32 8h1M59 8h1M63 8h1M66 8h2M101 8h1M107 8h1M2 9h1M6 9h1M22 9h1M26 9h1M60 9h1M67 9h1M77 9h1M85 9h1M1 10h1M10 10h1M17 10h1M24 10h1M27 10h2M44 10h1M71 10h1M73 10h1M7 11h1M34 11h1M36 11h3M43 11h1M45 11h1M58 11h1M76 11h1"/><path stroke="#01f" d="M1 0h1M4 0h1M17 0h1M54 0h1M67 0h1M94 0h1M104 0h1M12 1h1M19 1h1M28 1h1M30 1h2M43 1h2M52 1h1M55 1h1M58 1h1M61 1h1M67 1h1M79 1h1M87 1h2M90 1h2M95 1h1M98 1h1M106 1h2M1 2h1M5 2h4M22 2h1M25 2h1M44 2h1M51 2h1M54 2h1M56 2h1M62 2h1M64 2h1M77 2h1M82 2h1M86 2h1M90 2h1M93 2h1M101 2h1M108 2h2M0 3h2M3 3h1M5 3h1M7 3h2M17 3h2M28 3h1M33 3h2M43 3h1M48 3h1M50 3h1M54 3h1M63 3h1M88 3h1M105 3h1M109 3h1M1 4h1M7 4h1M11 4h1M14 4h1M29 4h1M34 4h1M43 4h1M50 4h1M55 4h1M65 4h1M70 4h1M79 4h1M92 4h1M102 4h1M0 5h1M2 5h1M18 5h1M21 5h1M43 5h1M51 5h1M66 5h1M86 5h1M94 5h1M7 6h1M10 6h1M21 6h1M28 6h3M39 6h3M48 6h1M52 6h1M59 6h1M63 6h1M66 6h1M88 6h1M91 6h1M96 6h1M3 7h1M5 7h1M14 7h1M16 7h1M20 7h1M23 7h1M47 7h1M51 7h1M66 7h1M91 7h1M101 7h2M4 8h1M15 8h1M18 8h1M23 8h1M25 8h1M39 8h1M48 8h1M71 8h1M84 8h1M96 8h1M1 9h1M5 9h1M19 9h2M33 9h1M44 9h1M49 9h1M61 9h1M66 9h1M73 9h1M96 9h1M100 9h1M102 9h1M104 9h1M5 10h1M13 10h1M18 10h1M31 10h1M36 10h1M48 10h1M55 10h1M59 10h1M72 10h1M80 10h1M98 10h1M100 10h1M4 11h1M11 11h1M14 11h1M23 11h1M27 11h1M46 11h1M50 11h1M61 11h1M69 11h1M77 11h1M98 11h1M108 11h1"/><path stroke="#08f" d="M5 0h1M11 0h3M22 0h1M25 0h1M27 0h2M33 0h2M53 0h1M72 0h1M75 0h1M85 0h1M88 0h1M90 0h1M101 0h1M103 0h1M2 1h1M7 1h1M10 1h1M13 1h2M35 1h1M42 1h1M49 1h1M51 1h1M60 1h1M63 1h1M76 1h2M84 1h1M109 1h2M13 2h1M26 2h2M31 2h1M33 2h1M35 2h2M41 2h1M50 2h1M72 2h2M83 2h1M94 2h1M96 2h1M98 2h1M100 2h1M2 3h1M6 3h1M25 3h1M40 3h1M42 3h1M51 3h1M64 3h1M68 3h1M70 3h1M79 3h1M84 3h1M103 3h1M3 4h1M6 4h1M10 4h1M18 4h1M23 4h1M48 4h1M51 4h2M71 4h2M85 4h1M98 4h1M3 5h1M9 5h2M12 5h1M22 5h1M31 5h1M34 5h1M53 5h2M56 5h1M78 5h1M80 5h1M83 5h1M105 5h1M3 6h1M17 6h1M19 6h1M26 6h1M35 6h1M53 6h1M64 6h2M95 6h1M100 6h1M17 7h1M43 7h1M46 7h1M63 7h1M65 7h1M67 7h1M77 7h1M87 7h1M98 7h1M100 7h1M107 7h1M109 7h1M3 8h1M19 8h1M22 8h1M34 8h1M47 8h1M55 8h1M57 8h1M60 8h1M70 8h1M81 8h1M85 8h1M88 8h1M90 8h1M93 8h1M97 8h1M106 8h1M8 9h3M17 9h1M24 9h1M27 9h1M32 9h1M42 9h1M51 9h1M54 9h1M59 9h1M80 9h1M87 9h1M92 9h1M105 9h1M110 9h1M9 10h1M15 10h1M33 10h1M37 10h1M40 10h1M47 10h1M62 10h1M67 10h1M69 10h1M75 10h1M79 10h1M84 10h1M104 10h1M1 11h1M3 11h1M6 11h1M19 11h1M24 11h1M28 11h2M40 11h1M47 11h2M78 11h1M83 11h2M87 11h2M94 11h2M100 11h2"/><path stroke="#0bf" d="M30 0h1M39 0h2M42 0h1M47 0h2M50 0h2M61 0h1M63 0h1M66 0h1M74 0h1M0 1h1M6 1h1M17 1h1M21 1h1M23 1h1M27 1h1M29 1h1M32 1h1M36 1h1M39 1h1M48 1h1M54 1h1M62 1h1M72 1h1M75 1h1M80 1h2M92 1h2M48 2h1M68 2h1M20 3h1M23 3h1M39 3h1M52 3h1M57 3h1M59 3h1M76 3h1M81 3h2M94 3h1M98 3h1M4 4h1M32 4h1M36 4h1M38 4h2M46 4h1M54 4h1M58 4h1M67 4h1M76 4h1M90 4h2M99 4h1M106 4h1M4 5h2M11 5h1M13 5h1M17 5h1M20 5h1M25 5h1M28 5h1M46 5h1M63 5h1M79 5h1M84 5h1M90 5h2M96 5h1M102 5h2M2 6h1M8 6h2M13 6h1M22 6h2M33 6h1M36 6h1M43 6h1M47 6h1M67 6h1M77 6h1M80 6h1M94 6h1M101 6h1M104 6h3M1 7h1M49 7h1M54 7h1M58 7h1M60 7h1M73 7h1M110 7h1M10 8h1M12 8h1M31 8h1M33 8h1M40 8h1M92 8h1M104 8h1M109 8h1M14 9h1M16 9h1M25 9h1M41 9h1M43 9h1M47 9h1M53 9h1M56 9h3M65 9h1M72 9h1M78 9h1M82 9h1M97 9h1M99 9h1M50 10h1M53 10h1M60 10h2M66 10h1M82 10h1M93 10h3M109 10h2M10 11h1M20 11h2M35 11h1M44 11h1M53 11h1M60 11h1M62 11h2M68 11h1M71 11h1M75 11h1M80 11h1M103 11h1"/><path stroke="#1ee" d="M6 0h1M29 0h1M46 0h1M55 0h1M68 0h1M99 0h1M102 0h1M4 1h1M24 1h1M34 1h1M37 1h2M40 1h2M47 1h1M57 1h1M59 1h1M94 1h1M108 1h1M12 2h1M14 2h1M17 2h1M23 2h2M28 2h1M38 2h1M59 2h1M80 2h1M85 2h1M88 2h2M102 2h1M110 2h1M13 3h1M26 3h1M38 3h1M45 3h1M69 3h1M71 3h1M74 3h1M77 3h1M80 3h1M89 3h1M92 3h1M96 3h1M99 3h1M110 3h1M2 4h1M12 4h1M16 4h1M22 4h1M28 4h1M44 4h1M63 4h2M82 4h1M88 4h1M94 4h1M1 5h1M23 5h1M35 5h1M39 5h1M41 5h1M68 5h1M70 5h1M73 5h1M87 5h1M95 5h1M100 5h1M109 5h2M38 6h1M49 6h1M57 6h1M62 6h1M68 6h1M72 6h1M89 6h2M93 6h1M98 6h1M107 6h1M9 7h2M30 7h1M40 7h1M48 7h1M56 7h2M64 7h1M74 7h2M88 7h1M93 7h1M97 7h1M106 7h1M0 8h1M17 8h1M21 8h1M41 8h2M52 8h1M54 8h1M56 8h1M65 8h1M68 8h1M77 8h1M79 8h1M91 8h1M105 8h1M4 9h1M12 9h1M23 9h1M28 9h1M39 9h1M62 9h2M83 9h1M94 9h1M98 9h1M101 9h1M103 9h1M109 9h1M35 10h1M39 10h1M51 10h1M56 10h1M58 10h1M77 10h2M97 10h1M101 10h1M0 11h1M12 11h1M26 11h1M31 11h1M41 11h1M49 11h1M56 11h2M73 11h1M79 11h1M89 11h1M91 11h2M109 11h2"/><path stroke="#3fb" d="M2 0h1M14 0h1M19 0h1M23 0h1M31 0h1M38 0h1M79 0h1M84 0h1M96 0h1M106 0h1M22 1h1M69 1h1M81 2h1M104 2h1M4 3h1M9 3h1M12 3h1M21 3h1M41 3h1M100 3h1M0 4h1M15 4h1M66 4h1M74 4h1M81 4h1M87 4h1M89 4h1M97 4h1M37 5h1M93 5h1M14 6h2M27 6h1M45 6h1M50 6h1M69 6h1M86 6h1M32 7h1M37 7h1M44 7h1M68 7h1M70 7h1M79 7h1M81 7h1M85 7h2M105 7h1M7 8h1M11 8h1M20 8h1M27 8h2M87 8h1M95 8h1M38 9h1M86 9h1M89 9h2M93 9h1M2 10h1M7 10h1M23 10h1M25 10h1M45 10h1M64 10h1M81 10h1M86 10h1M105 10h1M33 11h1M51 11h1M59 11h1M70 11h1M85 11h1"/><path stroke="#6f9" d="M20 0h1M24 0h1M64 0h1M18 1h1M65 1h1M82 1h1M96 1h1M103 1h1M10 2h1M32 2h1M45 2h1M53 2h1M61 2h1M63 2h1M65 2h1M67 2h1M70 2h1M91 2h1M62 3h1M104 3h1M107 3h1M8 4h2M13 4h1M68 4h1M110 4h1M40 5h1M50 5h1M85 5h1M20 6h1M34 6h1M60 6h1M85 6h1M39 7h1M52 7h1M59 7h1M8 8h1M16 8h1M29 8h1M44 8h1M62 8h1M94 8h1M31 9h1M46 9h1M88 9h1M107 9h1M29 10h1M108 10h1M5 11h1M8 11h1M42 11h1M74 11h1M82 11h1M99 11h1M105 11h1"/><path stroke="#9f6" d="M71 0h1M105 0h1M45 1h1M50 1h1M53 1h1M89 1h1M0 2h1M15 2h1M60 2h1M22 3h1M53 3h1M40 4h1M45 4h1M7 5h1M32 5h1M69 5h1M87 6h1M97 6h1M0 7h1M8 7h1M61 8h1M83 8h1M29 9h1M45 9h1M52 9h1M68 9h1M16 10h1M42 10h1M63 10h1M68 10h1M90 10h1M92 10h1M25 11h1"/><path stroke="#bf3" d="M7 0h1M65 0h1M70 1h1M9 2h1M65 3h2M69 4h1M14 5h1M106 5h1M71 7h1M51 8h1M69 9h1M108 9h1M14 10h1M43 10h1"/><path stroke="#ef1" d="M21 0h1M107 0h1M75 3h1M56 4h1M21 7h1M103 8h1M91 10h1M65 11h1"/><path stroke="#fc0" d="M25 1h1M95 2h1M97 2h1M58 3h1M31 4h1"/><path stroke="#f90" d="M77 0h1M104 1h1M29 2h1M101 3h1M83 6h1M42 7h1M50 7h1M6 8h1M13 8h1M71 9h1M79 9h1M106 9h1M19 10h1M9 11h1"/><path stroke="#f60" d="M45 0h1M69 0h1M97 1h1M55 3h1M67 3h1M90 3h1M105 4h1M28 7h1M80 7h1M50 8h1M18 11h1"/><path stroke="#f30" d="M37 0h1M84 2h1M32 3h1M84 4h1M74 5h1M81 6h1M102 6h1M86 8h1M99 8h1M110 8h1M0 9h1M95 9h1M16 11h1M81 11h1"/><path stroke="#d00" d="M32 0h1M70 0h1M95 0h1M1 1h1M20 1h1M26 1h1M101 1h1M34 2h1M74 2h1M27 3h1M86 3h1M25 4h1M59 4h1M15 5h1M55 5h1M57 5h1M92 5h1M16 6h1M51 6h1M55 6h1M96 7h1M2 8h1M30 8h1M35 9h2M81 9h1M0 10h1M20 10h1M52 10h1M32 11h1M54 11h1M86 11h1"/><path stroke="#900" d="M9 0h1M18 0h1M60 0h1M109 0h1M8 1h1M64 1h1M99 1h1M2 2h1M18 2h1M43 2h1M71 2h1M78 2h1M10 3h2M47 3h1M73 3h1M78 3h1M87 3h1M97 3h1M108 3h1M35 4h1M57 4h1M61 4h1M75 4h1M100 4h1M103 4h1M6 5h1M16 5h1M27 5h1M52 5h1M58 5h1M67 5h1M75 5h1M104 5h1M44 6h1M11 7h1M27 7h1M33 7h1M82 7h1M99 7h1M58 8h1M72 8h1M7 9h1M50 9h1M91 9h1M4 10h1M11 10h1M65 10h1M74 10h1M76 10h1M106 11h1"/></g></pattern>
<pattern id="F" width="66" height="48" patternUnits="userSpaceOnUse"><rect width="66" height="48" fill="#9f6"/><g transform="translate(0,.5)" fill="none" stroke-width="1" shape-rendering="crispEdges"><path stroke="#009" d="M15 0h1M23 0h1M45 0h1M52 0h1M6 1h1M45 1h1M64 1h1M10 2h1M14 2h1M18 2h1M26 2h1M30 2h1M41 2h1M48 2h1M55 2h1M64 2h2M18 3h1M48 3h1M55 3h1M5 4h1M33 4h1M54 4h1M5 5h1M9 5h1M13 5h1M17 5h1M21 5h1M40 5h1M36 6h1M50 6h1M64 6h1M12 7h1M28 7h1M32 7h1M8 8h1M46 8h1M53 8h1M56 8h1M27 9h1M25 10h1M3 11h1M35 11h1M33 12h1M64 12h1M8 13h1M26 13h1M17 14h1M2 15h1M4 15h1M6 15h1M22 15h1M29 15h1M39 15h1M58 15h1M8 16h1M30 16h1M0 17h1M16 17h1M54 17h1M8 18h1M16 18h1M23 18h1M54 18h1M7 19h2M29 19h1M40 19h1M4 20h1M7 20h1M22 20h1M44 20h1M5 21h3M15 21h1M28 21h1M39 21h1M63 21h1M0 22h1M14 22h1M48 22h1M52 22h1M64 22h1M14 23h1M21 23h1M27 23h1M3 24h1M13 24h1M33 24h1M13 25h1M38 25h1M6 26h1M45 26h1M48 26h1M59 26h1M61 26h1M5 27h1M8 27h1M11 27h1M14 27h1M23 27h1M38 27h1M22 28h1M28 28h1M64 28h1M25 29h1M37 29h1M53 29h1M61 29h1M0 30h1M24 30h1M27 30h1M30 30h1M33 30h1M52 30h1M42 31h1M45 31h1M52 31h1M63 31h1M35 32h1M37 32h1M50 32h1M52 32h1M59 32h1M2 33h1M32 33h1M2 34h1M12 34h1M16 34h1M27 34h1M50 34h1M59 34h1M45 35h1M12 36h1M23 36h1M40 36h1M46 36h1M3 37h1M22 37h1M41 37h1M47 37h1M6 38h1M8 38h1M21 38h1M38 38h1M40 38h1M57 38h1M20 39h1M37 39h1M6 41h1M35 41h1M31 42h1M1 43h1M12 43h1M27 43h1M40 43h1M48 43h1M59 43h1M7 44h1M18 44h1M23 44h1M2 45h1M37 45h1M45 45h1M52 45h1M14 46h1M33 46h1M53 46h1"/><path stroke="#00d" d="M1 0h1M7 0h1M27 0h1M31 0h1M42 0h1M49 0h1M60 0h1M62 1h1M52 2h1M1 3h1M14 3h1M26 3h1M37 3h1M44 4h1M29 5h1M63 5h1M5 6h1M13 6h1M17 6h1M40 6h1M47 6h1M59 6h1M12 8h1M16 8h1M20 8h1M24 8h1M28 8h1M2 9h1M5 9h1M9 9h1M20 9h1M47 9h1M18 10h1M42 10h1M47 10h1M50 10h1M52 10h1M54 10h1M59 10h1M14 11h1M40 11h1M45 11h1M53 11h1M63 11h1M10 12h1M12 12h1M38 12h1M43 12h1M51 12h1M65 12h1M10 13h1M31 13h1M36 13h1M41 13h1M46 13h1M8 14h1M15 14h1M22 14h1M29 14h1M27 15h1M64 15h1M9 16h1M17 16h1M24 16h1M63 16h1M17 17h1M35 17h1M41 17h1M50 17h1M61 17h2M65 17h1M29 18h1M40 18h1M45 18h1M16 19h1M62 19h1M15 20h1M29 20h1M63 20h1M34 21h1M44 21h1M56 21h1M5 22h2M28 22h1M39 22h1M59 22h1M28 23h1M48 23h1M14 24h1M21 24h1M48 24h1M21 25h1M27 25h1M33 25h1M43 25h1M39 26h1M55 26h1M17 27h1M32 27h1M35 27h1M51 27h1M44 28h1M53 28h1M10 29h1M31 29h1M34 29h1M0 31h1M3 31h1M36 31h1M55 31h2M3 32h1M5 32h1M14 32h1M16 32h1M31 32h1M13 33h1M28 33h1M30 33h1M49 33h1M3 34h1M5 35h1M11 35h1M63 35h1M1 36h1M4 36h1M10 36h1M25 36h1M44 36h1M63 36h1M9 37h1M39 37h1M19 38h1M36 38h1M56 38h1M58 38h1M63 38h1M1 39h1M18 39h1M33 39h1M35 39h1M39 39h1M17 40h1M34 40h1M11 41h1M26 41h1M47 41h1M0 42h1M11 42h2M17 42h1M40 42h1M59 42h1M36 43h1M13 44h1M32 44h1M60 44h1M8 45h1M41 45h1M24 46h1M29 46h1M15 47h1M38 47h1M58 47h1"/><path stroke="#01f" d="M11 0h1M35 0h1M53 0h1M56 0h1M15 1h1M19 1h1M27 1h1M38 1h1M15 2h1M34 2h1M38 2h1M45 2h1M63 2h1M6 3h1M10 3h1M30 3h1M41 3h1M51 3h1M22 4h1M37 4h1M51 4h1M65 5h1M21 6h1M25 6h1M54 6h1M63 6h1M65 6h1M36 7h1M43 7h1M50 7h1M1 8h1M4 8h1M43 8h1M25 9h1M32 9h1M37 9h1M42 9h1M7 10h1M16 10h1M23 10h1M30 10h1M35 10h1M45 10h1M1 11h1M28 11h1M33 11h1M48 11h1M65 11h1M19 12h1M26 12h1M17 13h1M24 13h1M59 13h1M13 14h1M49 14h1M56 14h1M64 14h1M20 15h1M52 15h1M9 17h1M24 17h1M30 17h1M17 18h1M24 18h1M35 18h1M59 18h1M23 19h1M35 19h1M60 19h1M40 20h1M49 20h1M53 20h1M22 21h2M7 22h2M22 22h1M34 22h1M44 22h1M53 22h1M61 22h1M63 22h1M6 23h1M39 23h1M53 23h1M4 24h1M6 24h1M39 24h1M4 25h1M52 25h1M9 26h1M36 26h1M42 26h1M52 26h1M20 27h1M26 27h1M29 27h1M2 29h1M7 29h1M16 29h1M22 29h1M28 29h1M50 29h1M59 29h1M60 30h1M65 30h1M6 31h1M9 31h1M30 31h1M27 32h1M61 32h2M11 33h1M45 33h1M47 33h1M25 34h1M44 34h1M46 34h1M48 34h1M22 35h1M43 35h1M8 36h1M7 37h1M20 37h1M35 37h1M37 37h1M60 38h1M65 38h1M4 40h1M15 40h1M32 40h1M21 41h1M51 41h1M60 41h1M65 41h1M22 42h1M44 42h1M48 42h1M56 42h1M2 43h1M22 43h1M62 43h1M8 44h1M28 44h1M49 44h1M53 44h1M61 44h1M14 45h1M24 45h1M49 45h1M53 45h1M25 46h1M42 46h1M46 46h1M62 46h1M10 47h1M20 47h1M34 47h1M61 47h1"/><path stroke="#04f" d="M3 0h1M0 1h1M23 1h1M31 1h1M42 1h1M49 1h1M56 1h1M6 2h1M19 2h1M22 3h1M34 3h1M10 4h1M14 4h1M18 4h1M48 4h1M64 4h1M22 5h1M33 5h1M44 5h1M0 6h1M9 6h1M29 6h1M61 6h1M1 7h1M13 7h1M25 7h1M0 8h1M32 8h1M54 8h1M18 9h1M55 9h1M62 9h2M40 10h1M12 11h1M21 11h1M62 11h1M3 12h1M1 13h1M6 13h1M15 13h1M63 13h1M34 14h1M44 14h1M52 14h1M7 15h1M11 15h1M32 15h1M47 15h1M63 15h1M10 16h1M18 16h1M25 16h1M36 16h1M41 16h1M46 16h1M50 16h1M1 17h1M18 17h1M64 17h1M0 18h1M30 18h1M41 18h1M65 18h1M9 19h1M17 19h1M45 19h1M50 19h1M8 20h2M16 20h1M23 20h1M35 20h1M58 20h1M8 21h1M29 21h1M49 21h1M15 22h1M40 22h1M49 22h1M15 23h2M22 23h1M34 23h1M44 23h1M15 24h1M22 24h1M28 24h1M14 25h1M39 25h1M48 25h1M0 26h1M15 26h1M21 26h1M45 27h1M48 27h1M1 28h1M8 28h1M35 28h1M38 28h1M41 28h1M54 28h1M57 28h1M65 28h1M1 29h1M13 29h1M19 29h1M43 30h1M46 30h1M61 30h1M12 31h1M15 31h1M21 31h1M33 31h1M46 32h1M48 32h1M54 32h1M64 32h1M26 33h1M43 33h1M56 33h2M23 34h1M9 35h1M20 35h1M24 35h1M37 35h1M41 35h1M57 35h1M21 36h1M36 36h1M38 36h1M60 36h1M18 37h1M15 38h1M17 38h1M32 38h1M34 38h1M59 38h1M14 39h1M16 39h1M31 39h1M64 39h1M28 40h1M49 40h1M51 40h1M53 40h1M55 40h1M17 41h1M31 41h1M59 41h1M27 42h1M36 42h1M52 42h1M7 43h2M13 43h1M18 43h1M23 43h1M32 43h1M2 44h1M37 44h1M41 44h1M45 44h1M19 45h1M33 45h1M46 45h1M20 46h1M34 46h1M38 46h1M50 46h1M57 46h1M1 47h1M25 47h1M50 47h1M64 47h1"/><path stroke="#08f" d="M2 0h1M4 0h1M39 0h1M11 1h1M39 1h1M1 2h1M11 2h1M23 2h1M31 2h1M42 2h1M19 3h1M45 3h1M26 4h1M30 4h1M63 4h1M14 5h1M18 5h1M37 5h1M58 5h1M33 6h1M44 6h1M51 6h1M4 7h1M9 7h1M17 7h1M21 7h1M47 7h1M57 7h1M9 8h1M36 8h1M50 8h1M59 8h1M64 8h1M50 9h1M60 9h2M3 10h1M5 10h1M53 10h1M60 10h1M19 11h1M43 11h1M60 11h1M1 12h1M6 12h1M15 12h1M54 12h1M2 13h1M22 13h1M58 13h1M2 14h1M39 14h1M54 14h1M18 15h1M37 15h1M42 15h1M11 16h1M31 16h1M62 16h1M65 16h1M10 17h1M51 17h1M63 17h1M9 18h1M36 18h1M50 18h1M61 18h1M24 19h1M57 19h1M24 20h1M45 20h1M16 21h1M35 21h1M40 21h1M45 21h1M29 22h1M7 23h1M29 23h1M49 23h1M54 23h1M62 23h1M34 24h1M44 24h1M28 25h1M53 25h1M57 25h1M65 25h1M12 26h1M18 26h1M24 26h1M27 26h1M30 26h1M33 26h1M49 26h1M60 26h1M3 27h1M57 27h1M5 28h1M14 28h1M23 28h1M29 28h1M51 28h1M5 29h1M44 29h1M47 29h1M13 30h1M16 30h1M22 30h1M40 30h1M18 31h1M24 31h1M27 31h1M4 32h1M12 32h1M29 32h1M44 32h1M60 32h1M24 33h1M61 33h1M21 34h1M36 34h1M40 34h1M42 34h1M63 34h1M1 35h1M7 35h1M39 35h1M55 35h1M60 35h2M6 36h1M19 36h1M34 36h1M55 36h1M5 37h1M14 37h1M33 37h1M59 37h1M62 37h1M47 38h1M3 39h1M27 39h1M52 39h1M13 40h1M26 40h1M30 40h1M22 41h1M44 41h1M52 41h1M58 41h1M2 42h1M13 42h1M32 42h1M57 42h1M28 43h1M53 43h1M60 43h1M14 44h1M19 44h1M62 44h1M3 45h1M9 45h1M29 45h1M57 45h2M9 46h2M15 46h1M59 46h1M63 46h1M5 47h1M30 47h1M43 47h1M47 47h1"/><path stroke="#0bf" d="M0 0h1M20 0h1M24 0h1M46 0h1M57 0h1M7 1h1M35 1h1M53 1h1M27 2h1M60 2h1M23 3h1M42 3h1M41 4h1M10 5h1M26 5h1M41 5h1M48 5h1M51 5h1M54 5h1M64 5h1M22 6h1M58 6h1M29 7h1M40 7h1M55 7h1M5 8h1M13 8h1M17 8h1M21 8h1M25 8h1M29 8h1M7 9h1M16 9h1M23 9h1M30 9h1M53 9h1M14 10h1M21 10h1M28 10h1M33 10h1M56 10h1M61 10h1M63 10h1M10 11h1M38 11h1M8 12h1M17 12h1M24 12h1M31 12h1M36 12h1M41 12h1M13 13h1M29 13h1M34 13h1M49 13h1M52 13h1M64 13h1M11 14h1M27 14h1M47 14h1M9 15h1M25 15h1M55 15h1M0 16h1M2 16h1M4 16h1M19 16h1M37 16h1M42 16h1M47 16h1M55 16h1M59 16h1M25 17h1M36 17h1M46 17h1M60 17h1M18 18h1M25 18h1M18 19h1M30 19h1M41 19h1M54 19h1M59 19h1M64 19h1M17 20h1M54 20h1M9 21h1M17 21h1M57 21h1M61 21h1M9 22h1M16 22h1M23 22h1M35 22h1M45 22h1M54 22h1M62 22h1M23 23h1M57 23h1M49 24h1M6 25h2M22 25h1M44 25h1M58 25h1M63 25h1M0 27h1M12 27h1M36 27h1M39 27h1M42 27h1M11 28h1M17 28h1M20 28h1M26 28h1M32 28h1M60 29h1M62 29h1M4 30h1M7 30h1M10 30h1M19 30h1M31 30h1M34 30h1M37 30h1M53 30h1M58 30h1M4 31h1M49 31h1M58 31h1M10 32h1M0 33h1M9 33h1M20 33h1M22 33h1M39 33h1M4 34h1M6 34h1M10 34h1M19 34h1M38 34h1M18 35h1M33 35h1M17 36h1M29 37h1M31 37h1M64 37h1M4 38h1M13 38h1M28 38h1M30 38h1M53 38h1M55 38h1M12 39h1M29 39h1M46 39h1M48 39h1M54 39h1M61 39h2M11 40h1M24 40h1M47 40h1M12 41h1M27 41h1M36 41h1M40 41h1M48 41h1M7 42h2M18 42h1M23 42h1M58 42h1M60 42h1M37 43h1M41 43h1M49 43h1M24 44h1M33 44h1M63 44h1M15 45h1M42 45h1M54 45h1M16 47h1M21 47h1M26 47h1M39 47h1"/><path stroke="#1ee" d="M16 0h1M28 0h1M58 0h1M1 1h1M3 1h1M16 1h1M20 1h1M24 1h1M63 1h1M65 1h1M7 2h1M35 2h1M49 2h1M15 3h1M27 3h1M38 3h1M52 3h1M6 4h1M15 4h1M34 4h1M55 4h1M30 5h1M34 5h1M55 5h1M4 6h1M18 6h1M26 6h1M55 6h1M0 7h1M33 7h1M61 7h1M40 8h1M63 8h1M3 9h1M35 9h1M40 9h1M45 9h1M56 9h1M12 10h1M38 10h1M48 10h1M65 10h1M26 11h1M31 11h1M54 11h1M56 11h1M46 12h1M49 12h1M60 12h1M5 13h1M11 13h1M27 13h1M39 13h1M44 13h1M54 13h1M9 14h1M20 14h1M42 14h1M55 14h1M61 14h1M30 15h1M35 15h1M1 16h1M52 16h1M3 17h1M11 17h1M31 17h1M37 17h1M55 17h1M10 18h2M55 18h1M36 19h1M46 19h1M30 20h1M56 20h1M24 21h1M30 21h1M58 22h1M60 22h1M8 23h1M35 23h1M61 23h1M7 24h1M23 24h1M29 24h1M35 24h1M50 24h1M15 25h1M34 25h1M7 26h1M46 26h1M65 26h1M2 27h1M9 27h1M33 27h1M55 27h1M48 28h1M14 29h1M41 29h1M28 30h1M56 30h1M43 31h1M46 31h1M1 32h1M8 32h1M19 32h1M21 32h1M23 32h1M25 32h1M42 32h1M37 33h1M41 33h1M0 34h1M8 34h1M55 34h1M0 35h1M14 35h1M16 35h1M31 35h1M35 35h1M50 35h1M64 35h1M30 36h1M32 36h1M51 36h1M1 37h1M50 37h1M52 37h1M56 37h1M9 38h1M26 38h1M51 38h1M0 39h1M25 39h1M44 39h1M50 39h1M65 39h1M7 40h1M43 40h1M45 40h1M0 41h1M3 42h1M28 42h1M45 42h1M0 43h1M24 43h1M45 43h1M9 44h1M29 44h1M42 44h1M10 45h1M20 45h1M25 45h1M38 45h1M50 45h1M21 46h1M30 46h1M43 46h1M60 46h1M35 47h1M54 47h1"/><path stroke="#3fb" d="M12 0h1M32 0h1M36 0h1M43 0h1M50 0h1M63 0h1M28 1h1M32 1h1M46 1h1M16 2h1M46 2h1M53 2h1M7 3h1M31 3h1M49 3h1M27 4h1M38 4h1M45 4h1M11 5h1M38 5h1M45 5h1M2 6h1M10 6h1M14 6h1M30 6h1M37 6h1M48 6h1M5 7h1M18 7h1M22 7h1M37 7h1M44 7h1M51 7h1M54 7h1M58 7h1M33 8h1M47 8h1M58 8h1M10 10h1M51 10h1M8 11h1M17 11h1M36 11h1M13 12h1M29 12h1M4 13h1M18 14h1M32 14h1M37 14h1M57 14h1M16 15h1M23 15h1M45 15h1M50 15h1M53 15h1M57 15h1M26 16h1M51 16h1M19 17h1M26 17h1M42 17h1M31 18h1M46 18h1M56 18h1M60 18h1M10 19h1M31 19h1M51 19h1M55 19h1M65 19h1M2 20h1M10 20h1M18 20h1M25 20h1M36 20h1M41 20h1M46 20h1M50 20h1M18 21h1M41 21h1M64 21h1M1 22h1M17 22h1M24 22h1M30 22h1M41 22h1M55 22h1M57 22h1M1 23h1M40 23h1M45 23h1M50 23h1M8 24h1M16 24h1M40 24h1M45 24h1M53 24h1M16 25h1M29 25h1M40 25h1M49 25h1M59 25h2M4 26h1M40 26h1M43 26h1M62 26h1M64 26h1M1 27h1M18 27h1M27 27h1M60 27h1M45 28h1M60 28h1M8 29h1M11 29h1M38 29h1M57 29h1M25 30h1M47 30h1M64 30h1M10 31h1M0 32h1M2 32h1M38 32h1M40 32h1M65 32h1M5 33h1M7 33h1M18 33h1M35 33h1M55 33h1M15 34h1M17 34h1M34 34h1M53 34h1M65 34h1M3 35h1M54 35h1M13 36h1M15 36h1M49 36h1M53 36h1M61 36h1M65 36h1M16 37h1M54 37h1M58 37h1M60 37h1M1 38h1M11 38h1M45 38h1M8 39h1M23 39h1M42 39h1M20 40h1M22 40h1M39 40h1M41 40h1M59 40h1M7 41h1M23 41h1M32 41h1M53 41h1M56 41h1M49 42h1M53 42h1M62 42h1M14 43h1M19 43h1M33 43h1M4 44h1M15 44h1M38 44h1M46 44h1M57 44h1M30 45h1M34 45h1M6 46h1M16 46h1M26 46h1M47 46h1M54 46h2M11 47h1M31 47h1M51 47h1"/><path stroke="#6f9" d="M8 0h1M17 0h1M8 1h1M12 1h1M43 1h1M59 1h1M20 2h1M39 2h1M2 3h1M35 3h1M65 3h1M7 4h1M23 4h1M42 4h1M49 4h1M52 4h1M65 4h1M62 5h1M6 6h1M41 6h1M57 6h1M10 7h1M26 7h1M48 7h1M63 7h1M37 8h1M44 8h1M48 8h1M65 8h1M1 9h1M14 9h1M21 9h1M28 9h1M33 9h1M48 9h1M8 10h1M19 10h1M26 10h1M43 10h1M0 11h1M24 11h1M29 11h1M41 11h1M46 11h1M51 11h1M2 12h1M22 12h1M34 12h1M39 12h1M44 12h1M20 13h1M3 14h1M5 14h1M16 14h1M25 14h1M30 14h1M3 15h1M5 15h1M21 15h1M12 16h1M20 16h1M32 16h1M12 17h1M32 17h1M1 18h1M4 18h1M19 18h1M37 18h1M42 18h1M51 18h1M11 19h1M19 19h1M25 19h1M61 19h1M0 20h2M11 20h1M55 20h1M10 21h1M46 21h1M54 21h2M36 22h1M46 22h1M60 23h1M65 23h1M9 24h1M17 24h1M24 24h1M54 24h1M57 24h1M64 24h1M0 25h1M23 25h1M45 25h1M64 25h1M10 26h1M28 26h1M63 26h1M4 27h1M15 27h1M24 27h1M30 27h1M49 27h1M52 27h1M59 27h1M6 28h1M12 28h1M39 28h1M56 28h1M61 28h1M17 29h1M29 29h1M32 29h1M35 29h1M58 29h1M41 30h1M44 30h1M50 30h1M54 30h1M63 30h1M1 31h1M16 31h1M25 31h1M31 31h1M34 31h1M37 31h1M53 31h1M34 32h1M36 32h1M33 33h1M30 34h1M32 34h1M60 34h1M29 35h1M52 35h1M2 36h1M26 36h1M28 36h1M45 36h1M56 36h2M59 36h1M12 37h1M25 37h1M27 37h1M46 37h1M48 37h1M24 38h1M43 38h1M49 38h1M10 39h1M21 39h1M40 39h1M58 39h2M9 40h1M35 40h1M37 40h1M56 40h1M60 40h1M8 41h1M18 41h1M1 42h1M37 42h1M41 42h1M63 42h1M9 43h1M38 43h1M46 43h1M57 43h1M20 44h1M25 44h1M34 44h1M50 44h1M55 44h1M5 45h1M16 45h1M39 45h1M63 45h1M4 46h2M11 46h1M31 46h1M35 46h1M39 46h1M65 46h1M17 47h1"/><path stroke="#bf3" d="M9 0h1M33 0h1M47 0h1M4 1h1M21 1h1M47 1h1M50 1h1M57 1h1M8 2h1M36 2h1M43 2h1M3 3h1M16 3h1M24 3h1M28 3h1M46 3h1M8 4h1M46 4h1M31 5h1M52 5h1M60 5h1M19 6h1M23 6h1M38 6h1M62 6h1M2 8h1M6 8h1M14 8h1M22 8h1M26 8h1M30 8h1M51 8h1M10 9h1M12 9h1M26 9h1M38 9h1M0 10h1M6 10h1M17 10h1M41 10h1M62 10h1M13 11h1M15 11h1M44 11h1M49 11h1M58 11h1M61 11h1M4 12h1M20 12h1M52 12h1M18 13h1M25 13h1M57 13h1M12 14h1M35 14h1M50 14h1M0 15h2M43 15h1M48 15h1M5 16h1M21 16h1M33 16h1M38 17h1M43 17h1M47 18h1M58 18h1M12 19h1M20 19h1M32 19h1M37 19h1M42 19h1M47 19h1M26 20h1M42 20h1M47 20h1M51 20h1M25 21h1M51 21h1M3 22h1M31 22h1M51 22h1M9 23h2M18 23h1M25 23h1M36 23h1M1 24h1M10 24h1M41 24h1M60 24h1M9 25h2M13 26h1M16 26h1M19 26h1M25 26h1M37 26h1M53 26h1M7 27h1M43 27h1M46 27h1M15 28h1M18 28h1M21 28h1M30 28h1M49 28h1M3 29h1M20 29h1M45 29h1M56 29h1M8 30h1M11 30h1M35 30h1M38 30h1M59 30h1M47 31h1M50 31h1M13 32h1M51 32h1M12 33h1M50 33h1M62 33h1M9 34h1M11 34h1M26 34h1M10 35h1M42 35h1M44 35h1M7 36h1M9 36h1M41 36h1M43 36h1M21 37h1M23 37h1M42 37h1M55 37h1M61 37h1M5 38h1M37 38h1M39 38h1M2 39h1M6 39h1M34 39h1M38 39h1M1 40h1M5 40h1M31 40h1M19 41h1M24 41h1M37 41h1M41 41h1M45 41h1M9 42h1M19 42h1M3 43h1M15 43h1M34 43h1M5 44h1M47 44h1M64 44h1M21 45h1M26 45h1M60 45h2M65 45h1M17 46h1M22 46h1M52 46h1M58 46h1M7 47h1M12 47h1M36 47h1"/><path stroke="#ef1" d="M29 0h1M54 0h1M61 0h2M65 0h1M17 1h1M25 1h1M32 2h1M50 2h1M20 3h1M39 3h1M53 3h1M56 3h1M2 4h1M16 4h1M24 4h1M53 4h1M7 5h1M49 5h1M59 5h1M52 6h1M3 7h1M11 7h1M15 7h1M34 7h1M45 7h1M59 7h1M64 7h1M10 8h1M18 8h1M34 8h1M52 8h1M57 8h1M62 8h1M8 9h1M24 10h1M36 10h1M58 10h1M22 11h1M34 11h1M39 11h1M32 12h1M47 12h1M55 12h1M57 12h1M9 13h1M30 13h1M50 13h1M56 13h1M40 14h1M58 14h1M60 14h1M26 15h1M33 15h1M38 15h1M6 16h1M48 16h1M57 16h1M61 16h1M13 17h1M57 17h1M3 18h1M13 18h1M20 18h1M52 18h1M2 19h1M5 19h1M26 19h1M38 19h1M12 20h2M52 20h1M32 21h1M42 21h1M62 21h1M25 22h1M2 23h1M31 23h1M59 23h1M63 23h1M18 24h1M31 24h1M36 24h1M46 24h1M17 25h1M24 25h1M54 25h2M47 26h1M28 27h1M40 27h1M50 27h1M64 27h1M4 28h1M24 28h1M27 28h1M39 29h1M5 30h1M14 30h1M17 30h1M20 30h1M29 30h1M62 30h1M2 31h1M7 31h2M28 32h1M30 32h1M47 32h1M27 33h1M44 33h1M58 33h1M60 33h1M24 34h1M43 34h1M45 34h1M47 34h1M49 34h1M56 34h1M61 34h1M64 34h1M21 35h1M23 35h1M22 36h1M37 36h1M39 36h1M58 36h1M64 36h1M6 37h1M38 37h1M7 38h1M4 39h1M17 39h1M56 39h1M16 40h1M29 40h1M33 40h1M52 40h1M58 40h1M61 40h1M1 41h1M64 41h1M29 42h1M42 42h1M46 42h1M54 42h1M42 43h1M50 43h1M63 43h1M39 44h1M43 44h1M51 44h1M35 45h1M40 46h1M44 46h1M48 46h1M22 47h1"/><path stroke="#fc0" d="M5 0h1M18 0h1M44 0h1M51 0h1M5 1h1M13 1h1M29 1h1M40 1h1M54 1h1M4 2h1M21 2h1M25 2h1M59 2h1M12 3h1M32 3h1M36 3h1M43 3h1M50 3h1M59 3h1M12 4h1M20 4h1M28 4h1M39 4h1M43 4h1M3 5h1M35 5h1M57 5h1M11 6h1M27 6h1M42 6h1M49 6h1M2 7h1M19 7h1M38 7h1M52 7h1M65 7h1M45 8h1M61 8h1M19 9h1M31 9h1M36 9h1M51 9h1M58 9h1M13 10h1M49 10h1M57 10h1M20 11h1M27 11h1M9 12h1M25 12h1M37 12h1M42 12h1M62 12h1M7 13h1M45 13h1M0 14h1M7 14h1M14 14h1M21 14h1M28 14h1M62 14h1M19 15h1M31 15h1M14 16h1M64 16h1M21 17h1M27 17h1M33 17h1M48 18h1M4 19h1M43 19h1M32 20h1M62 20h1M11 21h2M19 21h2M26 21h1M37 21h1M47 21h1M60 21h1M11 22h2M19 22h1M37 22h1M11 23h1M19 23h1M37 23h1M42 23h1M51 23h1M55 23h1M0 24h1M25 24h1M55 24h1M58 24h1M18 25h1M41 25h1M8 26h1M38 26h1M50 26h1M10 27h1M16 27h1M19 27h1M31 27h1M37 27h1M3 28h1M6 29h1M54 29h2M65 29h1M3 30h1M23 30h1M32 30h1M51 30h1M44 31h1M57 31h1M11 32h1M24 32h1M49 32h1M10 33h1M46 33h1M48 33h1M8 35h1M40 35h1M58 35h1M20 36h1M35 36h1M0 37h1M4 37h1M19 37h1M34 37h1M36 37h1M16 38h1M18 38h1M33 38h1M52 38h1M15 39h1M30 39h1M32 39h1M60 39h1M3 40h1M14 40h1M57 40h1M14 41h1M29 41h1M33 41h1M42 41h1M15 42h1M20 42h1M34 42h1M38 42h1M50 42h1M5 43h1M10 43h1M54 43h1M58 43h1M3 44h1M6 44h1M11 44h1M16 44h1M21 44h1M26 44h1M17 45h1M31 45h1M55 45h1M7 46h1M12 46h1M27 46h1M36 46h1M56 46h1M2 47h1M32 47h1M45 47h1M52 47h1M55 47h1M65 47h1"/><path stroke="#f90" d="M10 0h1M26 0h1M37 0h1M48 0h1M9 1h1M44 1h1M2 2h1M13 2h1M17 2h1M29 2h1M40 2h1M47 2h1M8 3h1M61 3h1M64 3h1M4 4h1M32 4h1M36 4h1M61 4h1M24 5h1M39 5h1M46 5h1M56 5h1M1 6h1M3 6h1M7 6h1M31 6h1M35 6h1M39 6h1M53 6h1M56 6h1M23 7h1M27 7h1M31 7h1M19 8h1M55 8h1M6 9h1M29 9h1M41 9h1M46 9h1M54 9h1M65 9h1M15 10h1M34 10h1M64 10h1M2 11h1M47 11h1M52 11h1M57 11h1M59 11h1M18 12h1M50 12h1M14 13h1M23 13h1M35 13h1M60 13h3M33 14h1M38 14h1M48 14h1M59 14h1M63 14h1M28 16h1M44 16h1M14 17h1M39 17h1M48 17h1M52 17h2M5 18h2M14 18h1M21 18h1M33 18h1M38 18h1M43 18h1M3 19h1M13 19h1M33 19h1M52 19h1M63 19h1M20 20h1M27 20h1M38 20h1M43 20h1M57 20h1M61 20h1M52 21h1M65 21h1M2 22h1M26 22h1M42 22h1M47 22h1M32 23h1M56 23h1M56 24h1M59 24h1M1 25h3M31 25h1M36 25h1M46 25h1M56 25h1M35 26h1M41 26h1M58 26h1M13 27h1M25 27h1M34 27h1M53 27h1M0 28h1M55 28h1M33 29h1M36 29h1M42 29h1M26 30h1M48 30h1M41 31h1M61 31h1M64 31h1M26 32h1M43 32h1M45 32h1M53 32h1M55 32h1M23 33h1M25 33h1M54 33h1M59 33h1M64 33h1M5 34h1M20 34h1M22 34h1M39 34h1M41 34h1M54 34h1M57 34h1M62 34h1M6 35h1M19 35h1M34 35h1M38 35h1M56 35h1M59 35h1M18 36h1M62 36h1M32 37h1M3 38h1M29 38h1M54 38h1M11 39h1M26 39h1M28 39h1M47 39h1M49 39h1M51 39h1M25 40h1M27 40h1M48 40h1M54 40h1M63 40h1M4 41h1M9 41h1M61 41h1M10 42h1M25 42h1M61 42h1M4 43h1M21 43h1M30 43h1M55 43h1M64 43h1M0 44h1M65 44h1M0 45h2M6 45h1M48 45h1M56 45h1M59 45h1M1 46h1M0 47h1M13 47h1M18 47h1M23 47h1M41 47h1M49 47h1M60 47h1"/><path stroke="#f60" d="M14 0h1M22 0h1M41 0h1M33 1h1M51 1h1M61 1h1M3 2h1M17 3h1M29 3h1M40 3h1M0 4h2M3 4h1M50 4h1M56 4h1M62 4h1M0 5h1M2 5h1M20 5h1M28 5h1M32 5h1M16 6h1M42 7h1M49 7h1M15 8h1M23 8h1M38 8h1M17 9h1M24 9h1M4 10h1M22 10h1M29 10h1M39 10h1M44 10h1M9 11h1M11 11h1M32 11h1M50 11h1M64 11h1M0 12h1M5 12h1M7 12h1M16 12h1M30 12h1M16 13h1M40 13h1M19 14h1M26 14h1M43 14h1M17 15h1M24 15h1M36 15h1M56 15h1M22 16h1M39 16h1M49 16h1M54 16h1M5 17h1M28 17h1M44 17h1M59 17h1M22 18h1M27 18h2M21 19h1M27 19h1M48 19h1M33 20h1M48 20h1M2 21h2M13 21h1M43 21h1M4 22h1M20 22h1M32 22h1M3 23h1M12 23h1M26 23h1M11 24h1M26 24h1M37 24h1M42 24h1M47 24h1M25 25h1M37 25h1M1 26h1M5 26h1M17 26h1M29 26h1M44 26h1M22 27h1M44 27h1M56 27h1M58 27h1M63 27h1M65 27h1M7 28h1M10 28h1M40 28h1M62 28h1M12 29h1M15 29h1M18 29h1M21 29h1M24 29h1M30 29h1M49 29h1M45 30h1M11 31h1M14 31h1M17 31h1M26 31h1M29 31h1M35 31h1M38 31h1M9 32h1M22 32h1M41 32h1M1 33h1M6 33h1M21 33h1M40 33h1M42 33h1M7 34h1M35 34h1M37 34h1M17 35h1M36 35h1M65 35h1M54 36h1M2 37h1M15 37h1M17 37h1M30 37h1M53 37h1M57 37h1M65 37h1M2 38h1M14 38h1M62 38h1M13 39h1M53 39h1M12 40h1M44 40h1M46 40h1M50 40h1M64 40h2M3 41h1M20 41h1M25 41h1M63 41h1M11 43h1M16 43h1M39 43h1M43 43h1M47 43h1M51 43h1M12 44h1M31 44h1M35 44h1M22 45h1M40 45h1M0 46h1M13 46h1M32 46h1M3 47h1M28 47h1M37 47h1M53 47h1M57 47h1"/><path stroke="#f30" d="M30 0h1M2 1h1M14 1h1M18 1h1M22 1h1M37 1h1M55 1h1M5 2h1M33 2h1M37 2h1M57 2h1M0 3h1M9 3h1M13 3h1M21 3h1M25 3h1M54 3h1M63 3h1M9 4h1M21 4h1M47 4h1M57 4h3M1 5h1M12 5h1M16 5h1M43 5h1M50 5h1M53 5h1M8 6h1M12 6h1M20 6h1M24 6h1M46 6h1M62 7h1M11 8h1M27 8h1M31 8h1M42 8h1M15 9h1M52 9h1M57 9h1M20 10h1M18 11h1M42 11h1M23 12h1M40 12h1M56 12h1M58 12h1M63 12h1M3 13h1M21 13h1M28 13h1M33 13h1M55 13h1M10 14h1M8 15h1M10 15h1M51 15h1M60 15h1M23 16h1M29 16h1M34 16h1M53 16h1M58 16h1M4 17h1M15 17h1M22 17h1M34 17h1M2 18h1M34 18h1M1 19h1M14 19h1M39 19h1M44 19h1M64 20h1M4 21h1M14 21h1M27 21h1M38 21h1M53 21h1M43 22h1M4 23h1M13 23h1M47 23h1M12 24h1M19 24h1M32 24h1M38 24h1M52 24h1M61 24h1M11 25h1M19 25h1M32 25h1M42 25h1M2 26h2M20 26h1M23 26h1M32 26h1M56 26h2M47 27h1M2 28h1M34 28h1M43 28h1M46 28h1M4 29h1M9 29h1M27 29h1M52 29h1M64 29h1M6 30h1M39 30h1M42 30h1M55 30h1M5 31h1M20 31h1M32 31h1M51 31h1M54 31h1M20 32h1M39 32h1M4 33h1M8 33h1M38 33h1M63 33h1M18 34h1M4 35h1M5 36h1M16 36h1M31 36h1M33 36h1M52 36h1M13 37h1M28 37h1M51 37h1M63 37h1M0 38h1M10 38h1M12 38h1M25 38h1M27 38h1M31 38h1M44 38h1M48 38h1M50 38h1M9 39h1M22 39h1M45 39h1M57 39h1M8 40h1M10 40h1M15 41h1M34 41h1M38 41h1M46 41h1M50 41h1M54 41h1M5 42h1M30 42h1M43 42h1M55 42h1M65 42h1M6 43h1M26 43h1M17 44h1M22 44h1M44 44h1M48 44h1M12 45h1M27 45h1M36 45h1M44 45h1M18 46h1M23 46h1M8 47h2M19 47h1M63 47h1"/><path stroke="#d00" d="M6 0h1M34 0h1M26 1h1M30 1h1M48 1h1M52 1h1M9 2h1M44 2h1M51 2h1M58 2h1M62 2h1M5 3h1M33 3h1M44 3h1M47 3h1M58 3h1M60 3h1M17 4h1M25 4h1M29 4h1M40 4h1M60 4h1M4 5h1M36 5h1M47 5h1M61 5h1M43 6h1M7 7h2M20 7h1M35 7h1M39 7h1M46 7h1M53 7h1M7 8h1M49 8h1M22 9h1M34 9h1M39 9h1M49 9h1M59 9h1M64 9h1M27 10h1M32 10h1M25 11h1M37 11h1M45 12h1M12 13h1M43 13h1M48 13h1M51 13h1M53 13h1M65 13h1M24 14h1M51 14h1M15 15h1M41 15h1M46 15h1M54 15h1M61 15h1M65 15h1M7 16h1M15 16h1M6 17h3M49 17h1M58 17h1M39 18h1M44 18h1M53 18h1M63 18h1M28 19h1M53 19h1M56 19h1M5 20h1M14 20h1M21 20h1M28 20h1M65 20h1M1 21h1M21 21h1M33 21h1M13 22h1M27 22h1M38 22h1M56 22h1M5 23h1M20 23h1M43 23h1M64 23h1M2 24h1M20 24h1M5 25h1M12 25h1M47 25h1M51 25h1M11 26h1M14 26h1M26 26h1M54 27h1M16 28h1M19 28h1M37 28h1M59 28h1M63 28h1M0 29h1M46 29h1M63 29h1M1 30h1M12 30h1M15 30h1M49 30h1M23 31h1M48 31h1M59 31h2M7 32h1M58 32h1M17 33h1M19 33h1M34 33h1M36 33h1M65 33h1M31 34h1M33 34h1M15 35h1M30 35h1M32 35h1M53 35h1M14 36h1M29 36h1M50 36h1M11 37h1M26 37h1M45 37h1M61 38h1M5 39h1M43 39h1M19 40h1M21 40h1M23 40h1M38 40h1M40 40h1M42 40h1M5 41h1M10 41h1M30 41h1M55 41h1M4 42h1M6 42h1M16 42h1M47 42h1M51 42h1M64 42h1M31 43h1M35 43h1M1 44h1M40 44h1M52 44h1M56 44h1M32 45h1M64 45h1M2 46h1M8 46h1M28 46h1M41 46h1M45 46h1M49 46h1M61 46h1M4 47h1M14 47h1M24 47h1M62 47h1"/><path stroke="#900" d="M19 0h1M38 0h1M55 0h1M10 1h1M34 1h1M41 1h1M58 1h1M22 2h1M54 2h1M62 3h1M13 4h1M8 5h1M25 5h1M28 6h1M32 6h1M60 6h1M16 7h1M24 7h1M3 8h1M35 8h1M39 8h1M0 9h1M4 9h1M11 9h1M13 9h1M44 9h1M9 10h1M11 10h1M37 10h1M55 10h1M5 11h1M7 11h1M16 11h1M23 11h1M30 11h1M14 12h1M21 12h1M28 12h1M35 12h1M48 12h1M53 12h1M0 13h1M19 13h1M38 13h1M1 14h1M4 14h1M6 14h1M31 14h1M36 14h1M41 14h1M46 14h1M65 14h1M13 15h1M34 15h1M44 15h1M49 15h1M62 15h1M16 16h1M35 16h1M40 16h1M45 16h1M60 16h1M23 17h1M29 17h1M40 17h1M45 17h1M7 18h1M15 18h1M49 18h1M6 19h1M15 19h1M22 19h1M34 19h1M49 19h1M58 19h1M3 20h1M6 20h1M34 20h1M39 20h1M59 20h2M48 21h1M21 22h1M33 22h1M65 22h1M33 23h1M38 23h1M52 23h1M5 24h1M27 24h1M43 24h1M65 24h1M20 25h1M26 25h1M61 25h2M51 26h1M54 26h1M41 27h1M61 27h2M13 28h1M25 28h1M31 28h1M47 28h1M50 28h1M58 28h1M40 29h1M43 29h1M2 30h1M9 30h1M18 30h1M21 30h1M36 30h1M39 31h1M18 32h1M33 32h1M56 32h1M63 32h1M15 33h1M51 33h1M53 33h1M1 34h1M14 34h1M29 34h1M52 34h1M58 34h1M2 35h1M13 35h1M26 35h1M28 35h1M47 35h1M49 35h1M51 35h1M62 35h1M27 36h1M42 36h1M48 36h1M24 37h1M43 37h1M49 37h1M23 38h1M42 38h1M46 38h1M7 39h1M24 39h1M41 39h1M2 40h1M6 40h1M36 40h1M62 40h1M16 41h1M39 41h1M43 41h1M21 42h1M26 42h1M35 42h1M39 42h1M17 43h1M44 43h1M52 43h1M56 43h1M65 43h1M27 44h1M36 44h1M59 44h1M7 45h1M13 45h1M18 45h1M23 45h1M28 45h1M62 45h1M3 46h1M19 46h1M37 46h1M29 47h1M33 47h1M42 47h1M46 47h1"/></g></pattern>
<pattern id="G" width="66" height="48" patternUnits="userSpaceOnUse"><rect width="66" height="48" fill="#900"/><g transform="translate(0,.5)" fill="none" stroke-width="1" shape-rendering="crispEdges"><path stroke="#009" d="M14 0h1M45 0h2M13 1h1M24 1h1M45 1h1M54 1h2M12 2h1M23 2h2M44 2h1M64 2h2M22 3h1M33 3h1M43 3h1M21 4h1M32 4h1M42 4h1M41 6h1M51 6h1M56 6h2M19 7h1M30 7h1M40 7h1M50 7h1M61 7h1M64 7h1M0 8h1M11 8h1M38 8h1M6 9h1M32 9h1M39 9h1M61 9h1M19 10h1M26 10h1M41 11h1M14 12h1M21 12h1M27 12h1M34 12h1M49 12h1M57 12h1M15 13h1M21 13h1M35 13h1M50 13h1M22 14h1M43 14h1M18 15h2M33 15h1M1 16h1M19 16h2M33 16h1M46 16h1M20 17h1M65 17h1M21 18h1M36 18h1M6 19h1M22 19h1M36 19h1M57 19h1M23 20h1M62 20h1M4 21h1M24 21h1M1 22h1M6 22h2M24 22h1M38 22h1M8 23h1M25 23h1M15 24h1M40 24h1M55 24h1M6 25h1M57 25h1M63 25h1M2 26h1M21 26h1M29 26h1M2 27h1M11 27h1M44 27h1M56 27h1M18 28h1M59 28h1M17 29h1M41 29h1M50 29h1M20 30h1M38 30h1M44 30h1M51 30h1M59 30h1M62 30h2M14 31h1M31 31h1M51 31h1M60 31h1M19 32h1M25 32h1M37 32h1M50 32h1M8 33h1M13 33h1M13 34h1M36 34h1M18 35h1M42 35h1M49 35h1M62 35h1M55 36h1M12 37h1M23 37h1M29 37h1M35 37h1M48 37h1M23 38h1M33 38h1M3 39h1M24 39h1M3 40h1M43 40h1M52 40h1M3 41h1M15 41h1M44 41h1M62 41h1M26 42h1M27 43h1M53 43h1M58 43h1M7 44h1M18 44h1M28 44h1M46 44h1M54 44h1M8 45h1M19 45h1M38 45h1M47 45h1M64 45h1M9 46h1M20 46h1M39 46h1M47 46h1M9 47h2M21 47h1"/><path stroke="#00d" d="M25 0h1M36 0h1M55 0h1M63 0h1M14 1h1M35 1h1M65 1h1M34 2h1M55 2h1M11 3h1M23 3h1M34 3h1M10 4h2M22 4h1M43 4h1M0 5h1M9 5h1M32 5h1M42 5h1M51 5h3M20 6h1M31 6h1M8 7h1M31 7h1M41 7h1M60 7h1M5 8h1M18 8h1M31 8h1M46 8h1M54 8h1M59 8h1M12 9h1M19 9h1M47 9h1M6 10h1M13 10h1M40 10h1M55 10h1M1 11h1M3 11h1M20 11h1M34 11h1M55 11h1M65 11h1M42 12h1M62 12h1M0 13h1M2 13h1M9 13h1M28 13h1M9 14h1M29 14h1M36 14h1M0 15h1M34 15h1M46 15h1M62 15h1M64 15h1M34 16h1M47 16h1M56 16h1M58 16h1M21 17h1M35 17h1M47 17h1M58 17h1M0 18h1M22 18h1M60 18h1M3 19h1M23 19h1M48 19h1M3 20h1M24 20h1M37 20h1M61 20h1M64 20h1M3 21h1M5 21h3M37 21h1M49 21h1M25 22h1M39 22h1M1 23h1M26 23h1M39 23h1M50 23h1M65 23h1M6 24h2M16 24h1M24 24h1M32 24h1M59 24h1M14 25h1M23 25h1M39 25h1M54 25h1M58 25h1M3 27h1M20 27h1M28 27h1M51 27h2M1 28h2M10 28h1M27 28h1M35 28h1M43 28h1M62 28h1M42 29h1M26 30h1M45 30h1M57 30h1M9 31h1M20 31h1M25 31h1M38 31h1M44 31h1M62 31h1M14 32h1M31 32h1M1 33h1M19 33h1M31 33h1M37 33h1M43 33h1M50 33h1M64 33h1M3 34h1M30 34h1M13 35h1M24 35h1M30 35h1M36 35h1M50 35h1M61 35h1M0 36h1M18 36h1M24 36h1M42 36h1M49 36h1M7 37h1M42 37h1M0 38h1M13 38h1M24 38h1M42 38h1M14 39h1M34 39h1M43 39h1M5 40h1M15 40h1M25 40h1M4 41h2M16 41h1M26 41h1M35 41h1M17 42h1M27 42h1M36 42h2M45 42h1M54 42h1M7 43h1M28 43h1M37 43h1M45 43h1M8 44h1M19 44h1M29 44h1M64 44h1M9 45h1M29 45h1M54 45h1M2 46h1M30 46h1M48 46h1M59 46h1M11 47h1M31 47h1M40 47h1"/><path stroke="#01f" d="M15 0h1M26 0h1M25 1h1M36 1h1M46 1h1M13 2h1M25 2h1M45 2h1M12 3h2M44 3h1M23 4h1M33 4h1M53 4h1M64 4h1M10 5h1M22 5h1M54 5h1M21 6h1M42 6h1M53 6h1M20 7h1M51 7h1M6 8h1M12 8h1M25 8h1M32 8h1M39 8h1M26 9h1M40 9h1M63 9h1M20 10h1M33 10h1M63 10h1M8 11h1M14 11h1M27 11h1M49 11h1M56 11h1M8 12h1M28 12h1M35 12h1M55 12h1M4 14h1M16 14h1M44 14h1M51 14h1M20 15h1M35 15h1M47 15h1M59 15h1M2 16h1M21 16h1M35 16h2M6 17h1M22 17h1M36 17h1M48 17h1M62 17h1M5 18h1M37 18h1M48 18h1M5 19h1M7 19h1M37 19h1M62 19h1M2 20h1M4 20h1M38 20h1M49 20h1M8 21h1M25 21h1M38 21h1M50 21h1M56 21h1M60 21h2M64 21h1M8 22h2M26 22h1M9 23h1M51 23h1M48 24h1M31 25h1M47 25h2M64 25h1M13 26h1M30 26h1M38 26h1M46 26h1M53 26h1M59 26h1M12 27h1M29 27h1M45 27h1M53 27h1M19 28h1M51 28h1M9 29h2M18 29h1M34 29h1M62 29h1M5 30h1M15 30h1M32 30h1M32 31h1M44 32h1M51 32h1M0 33h1M14 33h1M25 33h1M44 33h1M8 34h1M19 34h1M31 34h1M37 34h1M43 34h1M8 35h1M43 35h1M56 35h1M13 36h1M30 36h1M36 36h1M59 36h1M1 37h2M18 37h1M24 37h1M49 37h1M60 37h1M1 38h1M14 38h1M43 38h1M51 38h1M61 38h1M2 39h1M25 39h1M51 39h1M16 40h1M26 40h1M35 40h1M27 41h1M36 41h1M45 41h1M0 42h1M8 43h1M18 43h1M46 43h1M9 44h1M38 44h1M47 44h1M60 44h1M65 44h1M10 45h1M20 45h1M30 45h1M39 45h1M59 45h3M10 46h2M21 46h1M2 47h1M22 47h1M41 47h1M48 47h2M57 47h1"/><path stroke="#04f" d="M3 0h2M27 0h1M37 0h1M56 0h1M15 1h1M2 2h1M35 2h1M54 2h1M24 3h1M45 3h1M54 3h1M2 4h2M12 4h1M34 4h1M44 4h1M54 4h1M11 5h1M33 5h1M65 5h1M9 6h1M32 6h1M43 6h1M52 6h1M58 6h1M9 7h1M21 7h1M32 7h1M42 7h1M53 7h1M57 7h1M62 7h2M56 8h1M33 9h1M48 9h1M54 9h1M8 10h1M34 10h1M48 10h1M2 11h1M21 11h1M42 11h1M15 12h1M56 12h1M22 13h1M29 13h1M36 13h1M43 13h1M51 13h2M61 13h1M65 13h1M3 14h1M23 14h1M30 14h1M37 14h1M45 14h1M52 14h1M59 14h1M5 15h1M21 15h2M63 15h1M65 15h1M4 16h1M22 16h1M48 16h1M2 17h1M4 17h2M23 17h1M4 18h1M6 18h1M23 18h1M24 19h2M38 19h1M49 19h2M0 20h1M6 20h1M8 20h1M25 20h1M50 20h1M9 21h1M39 21h1M11 22h1M50 22h1M52 22h1M58 22h1M64 22h1M10 23h1M27 23h1M40 23h1M52 23h1M25 24h1M33 24h1M41 24h1M49 24h1M15 25h1M4 26h2M22 26h1M60 26h1M63 26h1M4 27h1M37 27h1M11 28h1M36 28h1M44 28h1M58 28h1M63 28h1M26 29h1M35 29h1M51 29h1M60 29h1M10 30h1M52 30h1M0 31h1M15 31h1M26 31h1M45 31h1M52 31h1M20 32h1M26 32h1M32 32h1M38 32h1M52 32h1M61 32h1M65 32h1M20 33h1M38 33h1M0 34h1M14 34h1M25 34h1M57 34h1M3 35h1M37 35h1M59 35h1M60 36h1M8 37h1M36 37h1M15 38h1M34 38h1M15 39h1M26 39h1M35 39h1M4 40h1M6 40h1M36 40h1M44 40h2M53 40h2M61 40h1M17 41h1M53 41h1M18 42h1M28 42h1M46 42h1M19 43h1M29 43h1M38 43h1M20 44h1M30 44h1M55 44h1M61 44h1M48 45h1M31 46h1M40 46h1M49 46h1M65 46h1M12 47h1M32 47h1"/><path stroke="#08f" d="M38 0h1M47 0h1M2 1h2M26 1h1M37 1h1M64 1h1M36 2h1M46 2h1M25 3h1M35 3h2M62 3h1M13 4h1M24 4h1M55 4h1M23 5h1M34 5h1M43 5h1M60 5h1M22 6h1M55 6h1M19 8h1M33 8h1M47 8h1M13 9h1M41 9h1M1 10h1M7 10h1M14 10h1M27 10h1M41 10h1M56 10h1M28 11h1M35 11h1M57 11h1M9 12h1M22 12h1M29 12h1M43 12h1M50 12h1M23 13h1M44 13h1M10 14h1M17 14h1M57 14h2M4 15h1M36 15h1M56 15h1M3 16h1M23 16h1M37 16h1M59 16h2M63 16h1M37 17h2M49 17h1M7 18h1M24 18h1M38 18h1M4 19h1M8 19h1M39 19h1M63 19h1M9 20h2M26 20h1M39 20h1M10 21h1M26 21h1M40 21h1M51 21h1M62 21h1M10 22h1M27 22h1M40 22h1M51 22h1M11 23h3M28 23h1M41 23h1M53 23h1M58 23h1M62 23h1M8 24h1M17 24h1M57 24h1M24 25h1M40 25h1M59 25h1M6 26h1M14 26h1M31 26h1M54 26h1M0 27h1M13 27h1M21 27h1M30 27h1M38 27h1M12 28h1M20 28h1M28 28h1M53 28h1M1 29h2M4 29h1M27 29h1M43 29h1M52 29h1M4 30h1M21 30h1M27 30h1M33 30h1M39 30h1M46 30h1M4 31h1M21 31h1M59 31h1M9 32h1M51 33h1M44 34h1M51 34h1M19 35h1M25 35h1M31 35h1M44 35h1M55 35h1M65 35h1M19 36h1M25 36h1M43 36h1M13 37h1M30 37h1M43 37h1M4 38h1M25 38h1M35 38h1M52 38h1M4 39h1M16 39h1M44 39h2M52 39h1M57 39h1M17 40h1M60 40h1M6 41h1M18 41h1M28 41h1M37 41h1M65 41h1M6 42h3M38 42h1M53 42h1M58 42h1M0 43h1M47 43h1M39 44h1M11 45h1M21 45h1M31 45h1M40 45h1M62 45h1M12 46h1M22 46h1M3 47h1M23 47h1M50 47h1M61 47h1"/><path stroke="#0bf" d="M6 0h1M16 0h1M48 0h1M5 1h1M16 1h1M27 1h1M47 1h1M14 2h2M26 2h2M2 3h1M14 3h2M35 4h1M45 4h1M12 5h1M44 5h1M64 5h1M10 6h2M33 6h1M10 7h2M22 7h1M33 7h1M43 7h1M52 7h1M13 8h1M26 8h1M40 8h1M48 8h1M20 9h1M56 9h1M59 9h1M2 10h1M42 10h1M49 10h1M9 11h1M15 11h1M43 11h1M50 11h1M16 12h1M36 12h1M51 12h1M3 13h1M16 13h1M30 13h1M37 13h1M5 14h1M31 14h1M38 14h1M60 14h1M1 15h1M23 15h1M37 15h1M48 15h1M24 16h1M65 16h1M3 17h1M7 17h1M24 17h1M50 17h1M3 18h1M25 18h1M9 19h1M26 19h1M51 19h1M57 20h1M27 21h1M52 21h1M58 21h1M0 22h1M12 22h1M28 22h1M41 22h1M61 22h2M65 22h1M29 23h1M9 24h1M42 24h1M50 24h1M56 24h1M58 24h1M61 24h2M7 25h1M16 25h1M32 25h1M23 26h1M39 26h1M47 26h1M5 27h1M55 27h1M29 28h1M37 28h1M45 28h1M11 29h1M19 29h1M53 30h1M5 31h1M10 31h1M39 31h1M15 32h1M39 32h1M45 32h1M4 33h1M9 33h2M15 33h1M26 33h1M32 33h1M9 34h1M20 34h1M26 34h1M32 34h1M38 34h1M59 34h1M9 35h1M14 35h1M20 35h1M63 35h1M3 36h1M8 36h2M31 36h1M37 36h1M50 36h1M3 37h2M19 37h1M50 37h1M62 37h1M5 38h1M16 38h1M44 38h1M5 39h1M17 39h1M27 39h1M36 39h1M54 39h1M60 39h1M27 40h1M8 41h1M38 41h1M46 41h1M59 41h1M19 42h1M47 42h1M64 42h1M9 43h1M20 43h1M30 43h1M57 43h1M1 44h1M10 44h1M21 44h1M40 44h1M48 44h1M1 45h1M12 45h1M1 46h1M32 46h1M41 46h1M0 47h1M13 47h1M42 47h1"/><path stroke="#1ee" d="M17 0h2M28 0h2M17 1h1M28 1h1M38 1h1M16 2h1M37 2h1M47 2h1M58 2h1M26 3h1M46 3h1M57 3h1M14 4h1M25 4h1M36 4h1M2 5h1M24 5h1M45 5h1M63 5h1M0 6h1M12 6h1M23 6h2M34 6h1M44 6h1M23 7h1M55 8h1M63 8h1M8 9h1M14 9h1M27 9h1M34 9h1M50 9h1M60 9h1M65 9h1M9 10h1M21 10h1M28 10h1M35 10h1M58 10h1M22 11h1M29 11h1M36 11h1M51 11h2M3 12h1M44 12h1M54 12h1M4 13h1M10 13h1M17 13h1M58 13h2M11 14h1M24 14h1M53 14h1M7 15h1M25 16h1M38 16h1M49 16h1M8 17h1M25 17h1M39 17h1M8 18h1M26 18h1M39 18h1M49 18h3M10 19h1M40 19h1M52 19h1M27 20h2M40 20h1M11 21h2M41 21h1M13 22h2M29 22h1M42 22h1M55 22h2M59 22h1M14 23h1M42 23h1M18 24h1M34 24h1M51 24h1M8 25h1M25 25h1M49 25h1M56 25h1M65 25h1M15 26h1M48 26h1M57 26h1M1 27h1M14 27h1M22 27h1M39 27h1M46 27h1M59 27h1M13 28h1M21 28h1M38 28h1M52 28h1M61 28h1M20 29h1M28 29h1M36 29h1M44 29h1M16 30h1M40 30h1M1 31h1M6 31h1M27 31h1M33 31h1M46 31h1M63 31h1M4 32h1M10 32h1M21 32h1M27 32h1M33 32h1M53 32h1M59 32h1M64 32h1M45 33h1M52 33h1M45 34h1M4 35h1M14 36h1M44 36h1M56 36h1M62 36h1M14 37h1M25 37h1M31 37h1M37 37h1M57 37h1M26 38h1M36 38h1M53 38h1M57 38h1M64 38h1M6 39h1M59 39h1M61 39h1M8 40h1M18 40h1M28 40h1M37 40h1M46 40h1M59 40h1M7 41h1M19 41h1M29 41h1M54 41h1M9 42h1M20 42h1M29 42h2M59 42h1M65 42h1M10 43h1M21 43h1M39 43h1M48 43h1M56 43h1M11 44h1M22 44h1M31 44h1M57 44h1M59 44h1M22 45h1M32 45h1M41 45h1M49 45h1M57 45h1M23 46h1M50 46h1M62 46h2M24 47h1M33 47h1M43 47h1"/><path stroke="#3fb" d="M5 0h1M39 0h1M49 0h1M58 0h1M39 1h1M48 1h1M56 1h1M3 2h2M48 2h1M56 2h1M0 3h1M3 3h2M37 3h1M55 3h1M60 3h1M64 3h1M1 4h1M46 4h1M4 5h1M13 5h1M25 5h1M35 5h1M46 5h1M55 5h1M13 6h1M45 6h1M34 7h1M44 7h1M58 7h1M7 8h1M20 8h1M27 8h1M34 8h1M41 8h1M2 9h1M7 9h1M21 9h1M35 9h1M49 9h1M15 10h1M50 10h1M16 11h1M61 11h1M10 12h1M23 12h1M30 12h1M37 12h1M11 13h1M24 13h1M38 13h1M53 13h1M63 13h1M12 14h1M46 14h1M24 15h2M38 15h1M49 15h1M57 15h1M0 16h1M6 16h2M10 16h1M51 16h1M0 17h1M9 17h1M26 17h1M59 17h1M9 18h2M40 18h1M52 18h1M59 18h1M65 18h1M27 19h1M64 19h1M7 20h1M11 20h1M41 20h1M52 20h1M59 20h1M13 21h2M28 21h3M15 22h1M53 22h1M15 23h1M30 23h1M43 23h1M54 23h1M59 23h1M1 24h1M3 24h1M10 24h1M26 24h1M35 24h1M63 24h1M9 25h1M17 25h1M33 25h1M41 25h2M50 25h1M16 26h1M24 26h1M32 26h1M40 26h1M49 26h1M64 26h1M23 27h1M31 27h1M47 27h1M54 27h1M3 28h1M54 28h2M12 29h1M45 29h1M59 29h1M2 30h1M11 30h1M47 30h1M16 31h1M40 31h1M54 31h2M57 31h1M16 32h1M46 32h1M5 33h1M21 33h1M27 33h1M53 34h1M56 34h1M58 34h1M0 35h1M5 35h1M10 35h1M26 35h1M32 35h1M38 35h1M45 35h1M58 35h1M44 37h1M27 38h1M45 38h1M1 39h1M7 39h1M28 39h1M37 39h1M46 39h1M53 39h1M2 40h1M57 40h1M47 41h1M58 41h1M21 42h1M39 42h1M31 43h1M40 43h1M12 44h1M32 44h1M41 44h1M49 44h1M0 45h1M23 45h1M3 46h1M13 46h1M24 46h1M33 46h1M42 46h1M14 47h1M34 47h1"/><path stroke="#6f9" d="M0 0h1M19 0h1M40 0h1M59 0h1M18 1h1M61 1h1M17 2h1M28 2h1M38 2h1M57 2h1M16 3h1M27 3h1M38 3h1M47 3h1M4 4h1M15 4h1M26 4h2M37 4h1M47 4h1M3 5h1M14 5h1M36 5h1M58 5h1M2 6h1M35 6h1M61 6h1M2 7h1M12 7h2M45 7h1M14 8h1M57 8h1M61 8h1M1 9h1M28 9h1M42 9h1M22 10h1M36 10h1M43 10h1M51 10h1M64 10h1M23 11h1M0 12h1M17 12h1M52 12h1M58 12h1M5 13h1M31 13h1M45 13h1M1 14h1M18 14h1M25 14h1M39 14h1M6 15h1M8 15h3M26 15h1M39 15h1M50 15h1M8 16h1M26 16h1M39 16h1M10 17h1M27 17h1M40 17h1M60 17h1M11 18h2M27 18h2M41 18h1M55 18h1M61 18h1M11 19h2M28 19h1M41 19h1M53 19h1M12 20h2M29 20h1M42 20h1M51 20h1M53 20h1M60 20h1M1 21h1M42 21h1M53 21h1M30 22h1M43 22h1M16 23h1M31 23h1M55 23h1M2 24h1M19 24h1M27 24h1M43 24h1M0 25h1M18 25h1M26 25h1M34 25h1M7 26h1M33 26h1M41 26h1M4 28h1M30 28h1M0 29h1M21 29h1M37 29h1M65 29h1M1 30h1M6 30h1M17 30h1M22 30h1M28 30h1M34 30h1M55 30h1M22 31h1M47 31h1M53 31h1M5 32h1M33 33h1M39 33h1M46 33h1M10 34h1M15 34h1M21 34h1M52 34h1M51 35h2M1 36h1M20 36h1M26 36h1M32 36h1M38 36h1M45 36h1M51 36h1M9 37h1M20 37h1M38 37h1M51 37h1M58 37h1M63 37h1M6 38h1M17 38h1M28 38h1M37 38h1M54 38h1M8 39h1M18 39h1M55 39h1M64 39h1M7 40h1M19 40h1M29 40h1M38 40h1M0 41h1M9 41h1M39 41h1M55 41h1M48 42h1M56 42h1M1 43h1M11 43h1M41 43h1M49 43h1M63 43h1M23 44h1M62 44h1M2 45h1M13 45h1M33 45h1M42 45h1M14 46h1M34 46h1M43 46h1M51 46h1M25 47h1M51 47h1M63 47h1"/><path stroke="#9f6" d="M7 0h2M30 0h1M50 0h1M57 0h1M61 0h1M1 1h1M4 1h1M6 1h1M29 1h2M40 1h1M49 1h1M63 1h1M5 2h1M7 2h1M40 2h1M49 2h1M1 3h1M48 3h1M58 3h1M16 4h1M15 5h1M47 5h1M56 5h1M1 6h1M14 6h2M25 6h1M36 6h1M54 6h1M24 7h2M35 7h1M54 7h1M1 8h1M21 8h1M42 8h1M49 8h1M9 9h1M15 9h1M64 9h1M3 10h1M29 10h1M0 11h1M10 11h1M30 11h1M37 11h1M44 11h1M62 11h1M4 12h1M11 12h1M24 12h1M31 12h1M38 12h1M45 12h1M12 13h1M18 13h1M46 13h1M60 13h1M6 14h1M19 14h1M32 14h1M47 14h1M55 14h2M62 14h2M2 15h2M51 15h1M5 16h1M11 16h1M27 16h1M40 16h1M50 16h1M12 17h2M28 17h1M63 17h1M13 18h1M29 18h1M13 19h1M29 19h1M60 19h1M14 20h2M30 20h1M43 20h1M15 21h1M43 21h1M16 22h1M31 22h1M17 23h1M32 23h1M44 23h1M52 24h1M51 25h1M17 26h1M25 26h1M56 26h1M6 27h1M15 27h1M24 27h1M32 27h1M40 27h1M60 27h1M63 27h1M14 28h1M22 28h1M46 28h1M65 28h1M3 29h1M29 29h1M53 29h1M58 29h1M63 29h1M23 30h1M41 30h1M61 30h1M11 31h1M28 31h1M34 31h1M56 31h1M11 32h1M22 32h1M34 32h1M40 32h1M47 32h1M56 32h1M58 32h1M16 33h1M22 33h1M4 34h1M16 34h1M27 34h1M33 34h1M39 34h1M46 34h1M61 34h1M15 35h1M39 35h1M15 36h1M52 36h1M26 37h1M64 37h1M7 38h1M18 38h1M38 38h1M46 38h1M58 38h1M62 38h1M29 39h1M38 39h1M20 40h1M30 40h1M39 40h1M47 40h1M10 41h1M20 41h1M30 41h1M48 41h1M63 41h1M10 42h2M22 42h1M31 42h1M40 42h1M49 42h1M55 42h1M22 43h2M32 43h1M13 44h1M33 44h1M42 44h1M50 44h1M4 45h1M50 45h1M4 46h1M25 46h1M52 46h2M15 47h1M35 47h1M44 47h1"/><path stroke="#bf3" d="M20 0h1M31 0h1M41 0h1M51 0h1M0 1h1M7 1h2M19 1h1M58 1h1M6 2h1M18 2h1M29 2h1M39 2h1M63 2h1M5 3h2M17 3h1M28 3h1M39 3h1M65 3h1M38 4h1M26 5h1M37 5h1M59 5h1M26 6h1M46 6h1M63 6h1M0 7h1M46 7h1M56 7h1M2 8h1M8 8h1M28 8h1M35 8h1M50 8h1M22 9h1M43 9h1M51 9h1M16 10h1M23 10h1M44 10h1M59 10h1M17 11h1M63 11h2M53 12h1M61 12h1M25 13h1M32 13h1M39 13h1M54 13h1M0 14h1M54 14h1M27 15h1M40 15h1M9 16h1M11 17h1M41 17h1M14 18h1M42 18h1M14 19h2M30 19h1M42 19h2M16 20h1M31 20h1M54 20h2M16 21h1M31 21h2M57 21h1M59 21h1M18 22h1M32 22h1M44 22h1M54 22h1M60 22h1M63 23h1M36 24h1M44 24h1M35 25h1M55 25h1M62 25h1M0 26h1M8 26h1M62 26h1M7 27h1M48 27h1M5 28h1M7 28h1M31 28h1M39 28h1M47 28h2M5 29h1M13 29h1M30 29h1M38 29h1M46 29h1M57 29h1M35 30h1M48 30h1M54 30h1M41 31h1M6 32h1M28 32h1M57 32h1M11 33h1M28 33h1M34 33h1M53 33h1M60 33h1M21 35h1M27 35h1M33 35h1M46 35h1M53 35h1M64 35h1M21 36h1M39 36h1M57 36h1M32 37h1M45 37h1M52 37h1M8 38h1M19 39h1M47 39h1M9 40h2M48 40h1M55 40h1M31 41h1M40 41h1M49 41h1M2 42h1M12 43h1M24 44h1M63 44h1M24 45h1M34 45h1M51 45h1M5 46h1M1 47h1M5 47h1M16 47h1M26 47h1M59 47h1M65 47h1"/><path stroke="#ef1" d="M9 0h1M52 0h1M20 1h1M41 1h1M50 1h1M19 2h1M30 2h1M41 2h1M18 3h1M29 3h1M49 3h1M17 4h1M28 4h1M48 4h1M56 4h1M61 4h1M5 5h1M27 5h1M38 5h1M48 5h1M61 5h2M37 6h1M62 6h1M1 7h1M14 7h1M36 7h1M65 7h1M3 8h1M9 8h1M15 8h1M36 8h1M0 9h1M3 9h1M29 9h1M36 9h1M57 9h1M30 10h1M37 10h1M60 10h1M11 11h1M24 11h1M45 11h1M58 11h1M60 11h1M18 12h1M39 12h1M46 12h1M19 13h1M47 13h1M13 14h1M26 14h1M33 14h1M40 14h1M65 14h1M28 15h1M41 15h1M53 15h1M12 16h2M28 16h2M41 16h2M55 16h1M61 16h1M29 17h1M42 17h1M51 17h2M54 17h1M30 18h1M54 18h1M44 20h1M17 21h1M17 22h1M45 22h1M0 23h1M18 23h2M33 23h2M45 23h1M11 24h1M20 24h1M28 24h1M53 24h1M64 24h1M1 25h1M10 25h1M27 25h1M43 25h1M60 25h1M9 26h1M26 26h1M34 26h1M16 27h1M33 27h1M41 27h1M6 28h1M15 28h1M23 28h1M14 29h1M22 29h1M55 29h1M7 30h1M12 30h1M29 30h1M7 31h1M17 31h1M35 31h1M48 31h1M64 31h2M0 32h1M3 32h1M17 32h1M41 32h1M54 32h1M40 33h1M47 33h1M57 33h1M59 33h1M5 34h1M11 34h1M22 34h1M47 34h1M16 35h1M10 36h1M27 36h1M33 36h1M53 36h1M63 36h1M15 37h1M21 37h1M33 37h1M39 37h1M65 37h1M19 38h1M29 38h1M47 38h1M55 38h1M60 38h1M20 39h1M30 39h1M39 39h1M11 40h1M21 40h1M40 40h1M56 40h1M64 40h1M21 41h2M12 42h1M41 42h1M33 43h1M42 43h1M14 44h1M51 44h1M14 45h2M25 45h1M35 45h1M43 45h1M52 45h1M15 46h2M35 46h1M44 46h1M61 46h1M4 47h1M53 47h1"/><path stroke="#fc0" d="M10 0h1M21 0h1M32 0h1M42 0h1M62 0h1M31 1h1M42 1h1M51 1h1M20 2h1M50 2h1M61 2h1M40 3h1M59 3h1M61 3h1M29 4h1M39 4h1M49 4h2M59 4h1M16 5h2M28 5h1M16 6h1M27 6h1M47 6h1M59 6h1M65 6h1M26 7h1M37 7h1M22 8h1M29 8h1M43 8h1M53 8h1M62 8h1M10 9h1M16 9h1M44 9h1M58 9h1M4 10h1M10 10h1M17 10h1M45 10h1M52 10h1M4 11h1M31 11h1M38 11h1M53 11h2M25 12h1M64 12h2M6 13h1M33 13h1M64 14h1M11 15h3M29 15h1M14 17h2M30 17h2M15 18h1M43 18h1M58 18h1M2 19h1M16 19h1M31 19h1M44 19h1M59 19h1M1 20h1M17 20h1M32 20h1M58 20h1M0 21h1M18 21h1M33 21h1M44 21h2M54 21h2M19 22h1M33 22h1M57 22h1M60 23h1M12 24h1M21 24h1M37 24h1M45 24h1M19 25h1M28 25h1M36 25h1M35 26h1M42 26h1M50 26h1M55 26h1M65 26h1M8 27h1M17 27h1M25 27h1M0 28h1M16 28h1M24 28h1M32 28h1M40 28h1M60 28h1M6 29h1M31 29h1M39 29h1M47 29h1M54 29h1M18 30h1M23 31h1M29 31h1M42 31h1M58 31h1M61 31h1M23 32h1M48 32h1M55 33h1M28 34h1M34 34h1M40 34h1M54 34h2M1 35h1M6 35h1M11 35h1M47 35h1M4 36h2M11 36h1M16 36h1M46 36h1M27 37h1M46 37h1M55 37h1M59 37h1M2 38h1M9 38h1M9 39h1M56 39h1M63 39h1M65 39h1M1 40h1M31 40h1M62 40h1M65 40h1M1 41h2M11 41h1M32 41h1M41 41h1M23 42h1M32 42h1M50 42h1M61 42h1M63 42h1M13 43h2M50 43h1M0 44h1M3 44h1M25 44h1M34 44h1M43 44h1M52 44h1M44 45h1M6 46h1M26 46h1M56 46h1M7 47h1M17 47h1M27 47h1M36 47h1M45 47h1M54 47h1"/><path stroke="#f90" d="M22 0h1M43 0h1M9 1h2M8 2h1M31 2h1M59 2h1M8 3h1M30 3h1M50 3h1M5 4h2M18 4h1M40 4h1M57 4h1M39 5h1M17 6h1M28 6h1M38 6h1M60 6h1M15 7h1M27 7h1M55 7h1M59 7h1M44 8h1M51 8h1M64 8h2M23 9h1M30 9h1M37 9h1M11 10h1M24 10h1M53 10h1M5 12h2M12 12h1M32 12h1M63 12h1M26 13h1M40 13h1M55 13h1M7 14h1M20 14h1M41 14h1M48 14h1M14 15h1M42 15h1M52 15h1M14 16h2M43 16h1M53 16h1M43 17h1M56 17h1M16 18h2M31 18h2M17 19h1M32 19h1M54 19h2M19 20h1M63 20h1M19 21h1M3 22h1M20 22h1M34 22h1M20 23h1M35 23h1M46 23h1M57 23h1M29 24h1M11 25h1M20 25h1M44 25h1M52 25h1M10 26h1M18 26h1M27 26h1M51 26h1M9 27h1M49 27h1M58 27h1M57 28h1M15 29h1M23 29h1M64 29h1M8 30h1M13 30h1M24 30h1M30 30h1M36 30h1M42 30h1M49 30h1M56 30h1M64 30h1M12 31h1M18 31h1M24 31h1M49 31h1M12 32h1M29 32h1M35 32h1M55 32h1M2 33h1M17 33h1M29 33h1M41 33h1M48 33h1M54 33h1M62 33h2M17 34h1M41 34h1M48 34h1M62 34h2M65 34h1M22 35h1M28 35h1M34 35h1M40 35h1M22 36h1M28 36h1M40 36h1M65 36h1M10 37h1M61 37h1M20 38h1M30 38h1M39 38h1M10 39h2M21 39h1M48 39h1M58 39h1M22 40h1M41 40h1M49 40h1M12 41h1M23 41h1M50 41h1M1 42h1M3 42h1M13 42h1M33 42h1M42 42h1M2 43h1M24 43h1M34 43h1M43 43h1M51 43h1M4 44h2M15 44h1M3 45h1M5 45h1M16 45h1M26 45h1M7 46h1M27 46h1M36 46h1M45 46h1M54 46h1M58 46h1M64 46h1M6 47h1M37 47h1M46 47h1M52 47h1M58 47h1M62 47h1M64 47h1"/><path stroke="#f60" d="M33 0h1M21 1h1M32 1h2M52 1h1M57 1h1M59 1h1M62 1h1M9 2h1M21 2h1M51 2h1M60 2h1M7 3h1M19 3h1M31 3h1M52 3h1M56 3h1M63 3h1M19 4h1M30 4h1M51 4h1M58 4h1M18 5h1M29 5h1M49 5h1M3 6h1M5 6h1M39 6h1M48 6h1M3 7h1M5 7h1M16 7h1M38 7h1M47 7h2M16 8h1M23 8h1M30 8h1M52 8h1M5 9h1M52 9h1M31 10h1M38 10h1M46 10h1M12 11h1M18 11h1M25 11h1M32 11h1M39 11h1M46 11h1M19 12h1M26 12h1M47 12h1M1 13h1M7 13h1M13 13h1M48 13h1M56 13h1M14 14h1M27 14h1M34 14h1M61 14h1M30 15h1M61 15h1M16 16h1M30 16h2M52 16h1M54 16h1M64 16h1M16 17h2M44 17h1M53 17h1M61 17h1M18 18h1M44 18h1M53 18h1M56 18h2M64 18h1M18 19h2M33 19h1M45 19h1M65 19h1M18 20h1M33 20h2M45 20h1M20 21h2M34 21h1M46 21h1M21 22h1M35 22h1M46 22h1M6 23h1M21 23h1M61 23h1M64 23h1M4 24h1M13 24h1M30 24h1M46 24h1M54 24h1M3 25h2M29 25h1M43 26h1M26 27h1M34 27h1M42 27h1M50 27h1M25 28h1M43 30h1M60 30h1M30 31h1M36 31h1M1 32h1M42 32h1M49 32h1M60 32h1M62 32h1M6 33h1M12 33h1M18 33h1M23 33h1M35 33h1M61 33h1M6 34h1M23 34h1M60 34h1M17 35h1M6 36h1M17 36h1M34 36h1M11 37h1M16 37h1M10 38h1M21 38h1M40 38h1M48 38h1M31 39h1M40 39h1M49 39h1M62 39h1M12 40h1M32 40h1M58 40h1M13 41h1M33 41h1M42 41h1M14 42h1M24 42h1M51 42h2M60 42h1M15 43h1M25 43h1M64 43h1M16 44h1M35 44h1M27 45h1M36 45h1M45 45h1M0 46h1M17 46h1M18 47h1M28 47h1M60 47h1"/><path stroke="#f30" d="M2 0h1M11 0h1M23 0h1M34 0h1M64 0h1M11 1h1M22 1h1M60 1h1M11 2h1M32 2h1M42 2h1M52 2h1M9 3h1M20 3h2M41 3h1M51 3h1M0 4h1M7 4h2M20 4h1M31 4h1M65 4h1M19 5h1M57 5h1M4 6h1M7 6h1M17 7h1M28 7h1M39 7h1M10 8h1M37 8h1M58 8h1M60 8h1M4 9h1M11 9h1M17 9h1M45 9h1M53 9h1M62 9h1M0 10h1M18 10h1M57 10h1M61 10h2M5 11h1M2 12h1M7 12h1M13 12h1M33 12h1M40 12h1M60 12h1M20 13h1M27 13h1M34 13h1M41 13h1M2 14h1M21 14h1M42 14h1M49 14h1M15 15h1M31 15h1M43 15h1M54 15h1M32 17h1M33 18h1M45 18h1M34 19h1M56 19h1M46 20h1M35 21h1M65 21h1M36 22h1M47 22h2M63 22h1M3 23h1M22 23h1M36 23h1M47 23h2M56 23h1M38 24h1M12 25h1M37 25h1M1 26h1M11 26h1M19 26h1M28 26h1M61 26h1M10 27h1M18 27h1M8 28h1M33 28h1M41 28h1M7 29h1M16 29h1M24 29h1M32 29h1M40 29h1M48 29h1M2 31h2M8 31h1M18 32h1M36 32h1M49 33h1M58 33h1M65 33h1M1 34h2M7 34h1M12 34h1M29 34h1M35 34h1M64 34h1M41 35h1M48 35h1M54 35h1M60 35h1M41 36h1M47 36h1M58 36h1M64 36h1M0 37h1M5 37h2M22 37h1M28 37h1M34 37h1M40 37h1M47 37h1M56 37h1M11 38h1M31 38h1M63 38h1M22 39h1M32 39h1M41 39h1M13 40h1M23 40h1M63 40h1M24 41h1M57 41h1M15 42h1M25 42h1M34 42h1M43 42h1M3 43h3M35 43h1M44 43h1M61 43h2M65 43h1M2 44h1M26 44h1M36 44h1M44 44h1M53 44h1M56 44h1M6 45h1M17 45h1M55 45h1M18 46h1M28 46h1M37 46h1M8 47h1M19 47h1M29 47h1M55 47h1"/><path stroke="#d00" d="M1 0h1M12 0h1M44 0h1M53 0h1M60 0h1M23 1h1M34 1h1M43 1h2M0 2h2M10 2h1M22 2h1M33 2h1M43 2h1M62 2h1M32 3h1M42 3h1M53 3h1M41 4h1M60 4h1M63 4h1M6 5h1M20 5h1M30 5h1M40 5h1M6 6h1M18 6h1M29 6h2M49 6h1M4 7h1M17 8h1M45 8h1M24 9h1M31 9h1M38 9h1M55 9h1M5 10h1M12 10h1M25 10h1M54 10h1M6 11h1M19 11h1M26 11h1M47 11h1M59 11h1M41 12h1M48 12h1M14 13h1M64 13h1M28 14h1M35 14h1M16 15h2M44 15h1M60 15h1M17 16h1M32 16h1M44 16h2M57 16h1M18 17h2M33 17h1M45 17h1M57 17h1M34 18h1M46 18h1M62 18h2M0 19h1M20 19h1M46 19h1M20 20h2M35 20h1M2 21h1M22 21h1M36 21h1M47 21h1M2 22h1M5 22h1M22 22h1M2 23h1M4 23h1M7 23h1M23 23h1M37 23h1M0 24h1M22 24h1M39 24h1M5 25h1M21 25h1M45 25h1M53 25h1M3 26h1M36 26h1M44 26h1M58 26h1M27 27h1M43 27h1M9 28h1M17 28h1M34 28h1M56 28h1M64 28h1M49 29h1M61 29h1M0 30h1M3 30h1M14 30h1M19 30h1M37 30h1M50 30h1M13 31h1M43 31h1M50 31h1M7 32h2M24 32h1M30 32h1M63 32h1M7 33h1M24 33h1M30 33h1M36 33h1M42 33h1M56 33h1M18 34h1M42 34h1M49 34h1M2 35h1M7 35h1M23 35h1M29 35h1M35 35h1M57 35h1M2 36h1M53 37h1M32 38h1M41 38h1M49 38h1M59 38h1M65 38h1M12 39h1M42 39h1M14 40h1M33 40h1M42 40h1M50 40h2M14 41h1M34 41h1M51 41h1M60 41h2M64 41h1M4 42h1M16 42h1M44 42h1M57 42h1M62 42h1M16 43h1M26 43h1M54 43h2M60 43h1M17 44h1M27 44h1M45 44h1M37 45h1M56 45h1M58 45h1M63 45h1M38 46h1M46 46h1M38 47h1M47 47h1M56 47h1"/></g></pattern>
<linearGradient id="jet" x1="0" y1="0" x2="0" y2="1"><stop offset="0.0000" stop-color="#800000"/><stop offset="0.0156" stop-color="#920000"/><stop offset="0.0312" stop-color="#a40000"/><stop offset="0.0469" stop-color="#b60000"/><stop offset="0.0625" stop-color="#c80000"/><stop offset="0.0781" stop-color="#da0000"/><stop offset="0.0938" stop-color="#ec0400"/><stop offset="0.1094" stop-color="#fe1200"/><stop offset="0.1250" stop-color="#ff2100"/><stop offset="0.1406" stop-color="#ff3000"/><stop offset="0.1562" stop-color="#ff3f00"/><stop offset="0.1719" stop-color="#ff4d00"/><stop offset="0.1875" stop-color="#ff5c00"/><stop offset="0.2031" stop-color="#ff6b00"/><stop offset="0.2188" stop-color="#ff7a00"/><stop offset="0.2344" stop-color="#ff8800"/><stop offset="0.2500" stop-color="#ff9700"/><stop offset="0.2656" stop-color="#ffa600"/><stop offset="0.2812" stop-color="#ffb500"/><stop offset="0.2969" stop-color="#ffc300"/><stop offset="0.3125" stop-color="#ffd200"/><stop offset="0.3281" stop-color="#ffe100"/><stop offset="0.3438" stop-color="#fcf000"/><stop offset="0.3594" stop-color="#effe08"/><stop offset="0.3750" stop-color="#e2ff15"/><stop offset="0.3906" stop-color="#d5ff21"/><stop offset="0.4062" stop-color="#c9ff2e"/><stop offset="0.4219" stop-color="#bcff3b"/><stop offset="0.4375" stop-color="#afff48"/><stop offset="0.4531" stop-color="#a2ff55"/><stop offset="0.4688" stop-color="#95ff62"/><stop offset="0.4844" stop-color="#88ff6f"/><stop offset="0.5000" stop-color="#7bff7b"/><stop offset="0.5156" stop-color="#6fff88"/><stop offset="0.5312" stop-color="#62ff95"/><stop offset="0.5469" stop-color="#55ffa2"/><stop offset="0.5625" stop-color="#48ffaf"/><stop offset="0.5781" stop-color="#3bffbc"/><stop offset="0.5938" stop-color="#2effc9"/><stop offset="0.6094" stop-color="#21ffd5"/><stop offset="0.6250" stop-color="#15ffe2"/><stop offset="0.6406" stop-color="#08efef"/><stop offset="0.6562" stop-color="#00dffc"/><stop offset="0.6719" stop-color="#00cfff"/><stop offset="0.6875" stop-color="#00bfff"/><stop offset="0.7031" stop-color="#00afff"/><stop offset="0.7188" stop-color="#009fff"/><stop offset="0.7344" stop-color="#008fff"/><stop offset="0.7500" stop-color="#0080ff"/><stop offset="0.7656" stop-color="#0070ff"/><stop offset="0.7812" stop-color="#0060ff"/><stop offset="0.7969" stop-color="#0050ff"/><stop offset="0.8125" stop-color="#0040ff"/><stop offset="0.8281" stop-color="#0030ff"/><stop offset="0.8438" stop-color="#0020ff"/><stop offset="0.8594" stop-color="#0010ff"/><stop offset="0.8750" stop-color="#0000ff"/><stop offset="0.8906" stop-color="#0000fe"/><stop offset="0.9062" stop-color="#0000ec"/><stop offset="0.9219" stop-color="#0000da"/><stop offset="0.9375" stop-color="#0000c8"/><stop offset="0.9531" stop-color="#0000b6"/><stop offset="0.9688" stop-color="#0000a4"/><stop offset="0.9844" stop-color="#000092"/><stop offset="1.0000" stop-color="#000080"/></linearGradient></defs>
<rect width="1050" height="800" fill="#fff"/>
<g transform="translate(132,0)"><rect x="0" y="81" width="111" height="3" fill="url(#Lr)"/><rect x="0" y="81" width="65" height="3" fill="url(#F)" transform="translate(111,0)"/><rect x="167" y="81" width="9" height="3" fill="url(#Lr)"/><rect x="0" y="85" width="111" height="7" fill="url(#Lr)"/><rect x="0" y="85" width="65" height="7" fill="url(#F)" transform="translate(111,0)"/><rect x="167" y="85" width="9" height="7" fill="url(#Lr)"/><rect x="0" y="133" width="111" height="2" fill="url(#Ln)"/><rect x="0" y="133" width="65" height="2" fill="url(#F)" transform="translate(111,0)"/><rect x="0" y="137" width="111" height="2" fill="url(#Ln)"/><rect x="0" y="137" width="65" height="2" fill="url(#F)" transform="translate(111,0)"/><rect x="0" y="141" width="111" height="2" fill="url(#Ln)"/><rect x="0" y="141" width="65" height="2" fill="url(#F)" transform="translate(111,0)"/><rect x="0" y="156" width="111" height="2" fill="url(#Ln)"/><rect x="0" y="156" width="65" height="2" fill="url(#F)" transform="translate(111,0)"/><rect x="0" y="168" width="111" height="1" fill="url(#Ln)"/><rect x="0" y="168" width="65" height="1" fill="url(#F)" transform="translate(111,0)"/><rect x="0" y="245" width="111" height="1" fill="url(#Ln)"/><rect x="0" y="245" width="65" height="1" fill="url(#F)" transform="translate(111,0)"/><rect x="0" y="250" width="111" height="4" fill="url(#Ln)"/><rect x="0" y="250" width="65" height="4" fill="url(#F)" transform="translate(111,0)"/><rect x="0" y="257" width="111" height="2" fill="url(#LR)"/><rect x="0" y="257" width="65" height="2" fill="url(#F)" transform="translate(111,0)"/><rect x="167" y="257" width="9" height="2" fill="url(#LR)"/><rect x="0" y="270" width="111" height="1" fill="url(#LR)"/><rect x="0" y="270" width="65" height="1" fill="url(#F)" transform="translate(111,0)"/><rect x="167" y="270" width="9" height="1" fill="url(#LR)"/><rect x="0" y="272" width="111" height="1" fill="url(#Ln)"/><rect x="0" y="272" width="65" height="1" fill="url(#F)" transform="translate(111,0)"/><rect x="0" y="274" width="111" height="1" fill="url(#LR)"/><rect x="0" y="274" width="65" height="1" fill="url(#F)" transform="translate(111,0)"/><rect x="167" y="274" width="9" height="1" fill="url(#LR)"/><rect x="0" y="276" width="111" height="1" fill="url(#LR)"/><rect x="0" y="276" width="65" height="1" fill="url(#F)" transform="translate(111,0)"/><rect x="167" y="276" width="9" height="1" fill="url(#LR)"/><rect x="0" y="278" width="111" height="1" fill="url(#LR)"/><rect x="0" y="278" width="65" height="1" fill="url(#F)" transform="translate(111,0)"/><rect x="167" y="278" width="9" height="1" fill="url(#LR)"/><rect x="0" y="280" width="111" height="1" fill="url(#LR)"/><rect x="0" y="280" width="65" height="1" fill="url(#F)" transform="translate(111,0)"/><rect x="167" y="280" width="9" height="1" fill="url(#LR)"/><rect x="0" y="284" width="111" height="1" fill="url(#Lc)"/><rect x="0" y="284" width="65" height="1" fill="url(#F)" transform="translate(111,0)"/><rect x="167" y="284" width="9" height="1" fill="url(#Lc)"/><rect x="0" y="287" width="111" height="3" fill="url(#Ln)"/><rect x="0" y="287" width="65" height="3" fill="url(#F)" transform="translate(111,0)"/><rect x="0" y="292" width="111" height="3" fill="url(#Ln)"/><rect x="0" y="292" width="65" height="3" fill="url(#F)" transform="translate(111,0)"/><rect x="0" y="298" width="111" height="6" fill="url(#Lc)"/><rect x="0" y="298" width="65" height="6" fill="url(#F)" transform="translate(111,0)"/><rect x="167" y="298" width="9" height="6" fill="url(#Lc)"/><rect x="0" y="305" width="111" height="2" fill="url(#Ln)"/><rect x="0" y="305" width="65" height="2" fill="url(#F)" transform="translate(111,0)"/><rect x="0" y="308" width="111" height="2" fill="url(#Ln)"/><rect x="0" y="308" width="65" height="2" fill="url(#F)" transform="translate(111,0)"/><rect x="0" y="311" width="111" height="12" fill="url(#Ln)"/><rect x="0" y="311" width="65" height="12" fill="url(#F)" transform="translate(111,0)"/><rect x="0" y="328" width="111" height="2" fill="url(#Ln)"/><rect x="0" y="328" width="65" height="2" fill="url(#F)" transform="translate(111,0)"/><rect x="0" y="331" width="111" height="12" fill="url(#Ln)"/><rect x="0" y="331" width="65" height="12" fill="url(#F)" transform="translate(111,0)"/><rect x="0" y="347" width="111" height="1" fill="url(#Lr)"/><rect x="0" y="347" width="65" height="1" fill="url(#F)" transform="translate(111,0)"/><rect x="167" y="347" width="9" height="1" fill="url(#Lr)"/><rect x="0" y="349" width="111" height="3" fill="url(#LR)"/><rect x="0" y="349" width="65" height="3" fill="url(#F)" transform="translate(111,0)"/><rect x="167" y="349" width="9" height="3" fill="url(#LR)"/><rect x="0" y="354" width="111" height="6" fill="url(#Ln)"/><rect x="0" y="354" width="65" height="6" fill="url(#F)" transform="translate(111,0)"/><rect x="0" y="363" width="111" height="4" fill="url(#Ln)"/><rect x="0" y="363" width="65" height="4" fill="url(#F)" transform="translate(111,0)"/><rect x="0" y="368" width="111" height="1" fill="url(#Ln)"/><rect x="0" y="368" width="65" height="1" fill="url(#F)" transform="translate(111,0)"/><rect x="0" y="373" width="111" height="4" fill="url(#Ln)"/><rect x="0" y="373" width="65" height="4" fill="url(#F)" transform="translate(111,0)"/><rect x="0" y="378" width="111" height="5" fill="url(#Ln)"/><rect x="0" y="378" width="65" height="5" fill="url(#F)" transform="translate(111,0)"/><rect x="0" y="384" width="111" height="4" fill="url(#Ln)"/><rect x="0" y="384" width="65" height="4" fill="url(#F)" transform="translate(111,0)"/><rect x="0" y="389" width="111" height="15" fill="url(#Ln)"/><rect x="0" y="389" width="65" height="15" fill="url(#F)" transform="translate(111,0)"/><rect x="0" y="406" width="111" height="3" fill="url(#Ln)"/><rect x="0" y="406" width="65" height="3" fill="url(#F)" transform="translate(111,0)"/><rect x="0" y="410" width="111" height="3" fill="url(#Ln)"/><rect x="0" y="410" width="65" height="3" fill="url(#F)" transform="translate(111,0)"/><rect x="0" y="416" width="111" height="8" fill="url(#Ln)"/><rect x="0" y="416" width="65" height="8" fill="url(#F)" transform="translate(111,0)"/><rect x="0" y="425" width="111" height="1" fill="url(#Ln)"/><rect x="0" y="425" width="65" height="1" fill="url(#F)" transform="translate(111,0)"/><rect x="0" y="430" width="111" height="7" fill="url(#Ln)"/><rect x="0" y="430" width="65" height="7" fill="url(#F)" transform="translate(111,0)"/><rect x="0" y="442" width="111" height="3" fill="url(#Ln)"/><rect x="0" y="442" width="65" height="3" fill="url(#F)" transform="translate(111,0)"/><rect x="0" y="446" width="111" height="3" fill="url(#Ln)"/><rect x="0" y="446" width="65" height="3" fill="url(#F)" transform="translate(111,0)"/><rect x="0" y="452" width="111" height="3" fill="url(#LR)"/><rect x="0" y="452" width="65" height="3" fill="url(#F)" transform="translate(111,0)"/><rect x="167" y="452" width="9" height="3" fill="url(#LR)"/><rect x="0" y="456" width="111" height="1" fill="url(#Ln)"/><rect x="0" y="456" width="65" height="1" fill="url(#F)" transform="translate(111,0)"/><rect x="0" y="459" width="111" height="6" fill="url(#Lo)"/><rect x="0" y="459" width="65" height="6" fill="url(#F)" transform="translate(111,0)"/><rect x="167" y="459" width="9" height="6" fill="url(#Lo)"/><rect x="0" y="467" width="111" height="1" fill="url(#Lo)"/><rect x="0" y="467" width="65" height="1" fill="url(#F)" transform="translate(111,0)"/><rect x="167" y="467" width="9" height="1" fill="url(#Lo)"/><rect x="0" y="469" width="111" height="9" fill="url(#Lo)"/><rect x="0" y="469" width="65" height="9" fill="url(#F)" transform="translate(111,0)"/><rect x="167" y="469" width="9" height="9" fill="url(#Lo)"/><rect x="0" y="480" width="111" height="10" fill="url(#Lr)"/><rect x="0" y="480" width="65" height="10" fill="url(#F)" transform="translate(111,0)"/><rect x="167" y="480" width="9" height="10" fill="url(#Lr)"/><rect x="0" y="493" width="111" height="2" fill="url(#Ld)"/><rect x="0" y="493" width="65" height="2" fill="url(#G)" transform="translate(111,0)"/><rect x="167" y="493" width="9" height="2" fill="url(#Ld)"/><rect x="0" y="496" width="111" height="4" fill="url(#Ld)"/><rect x="0" y="496" width="65" height="4" fill="url(#G)" transform="translate(111,0)"/><rect x="167" y="496" width="9" height="4" fill="url(#Ld)"/><rect x="0" y="501" width="111" height="2" fill="url(#Ld)"/><rect x="0" y="501" width="65" height="2" fill="url(#G)" transform="translate(111,0)"/><rect x="167" y="501" width="9" height="2" fill="url(#Ld)"/><rect x="0" y="504" width="111" height="1" fill="url(#Lb)"/><rect x="0" y="504" width="65" height="1" fill="url(#G)" transform="translate(111,0)"/><rect x="167" y="504" width="9" height="1" fill="url(#Lb)"/><rect x="0" y="506" width="111" height="3" fill="url(#Ld)"/><rect x="0" y="506" width="65" height="3" fill="url(#G)" transform="translate(111,0)"/><rect x="167" y="506" width="9" height="3" fill="url(#Ld)"/><rect x="0" y="511" width="111" height="6" fill="url(#Ld)"/><rect x="0" y="511" width="65" height="6" fill="url(#G)" transform="translate(111,0)"/><rect x="167" y="511" width="9" height="6" fill="url(#Ld)"/><rect x="0" y="518" width="111" height="4" fill="url(#Lr)"/><rect x="0" y="518" width="65" height="4" fill="url(#G)" transform="translate(111,0)"/><rect x="167" y="518" width="9" height="4" fill="url(#Lr)"/><rect x="0" y="523" width="111" height="5" fill="url(#Lb)"/><rect x="0" y="523" width="65" height="5" fill="url(#G)" transform="translate(111,0)"/><rect x="167" y="523" width="9" height="5" fill="url(#Lb)"/><rect x="0" y="529" width="111" height="6" fill="url(#Lo)"/><rect x="0" y="529" width="65" height="6" fill="url(#G)" transform="translate(111,0)"/><rect x="167" y="529" width="9" height="6" fill="url(#Lo)"/><rect x="0" y="539" width="111" height="6" fill="url(#LR)"/><rect x="0" y="539" width="65" height="6" fill="url(#G)" transform="translate(111,0)"/><rect x="167" y="539" width="9" height="6" fill="url(#LR)"/><rect x="0" y="549" width="111" height="3" fill="url(#Lo)"/><rect x="0" y="549" width="65" height="3" fill="url(#G)" transform="translate(111,0)"/><rect x="167" y="549" width="9" height="3" fill="url(#Lo)"/><rect x="0" y="553" width="111" height="2" fill="url(#Lo)"/><rect x="0" y="553" width="65" height="2" fill="url(#G)" transform="translate(111,0)"/><rect x="167" y="553" width="9" height="2" fill="url(#Lo)"/><rect x="0" y="558" width="111" height="2" fill="url(#Lo)"/><rect x="0" y="558" width="65" height="2" fill="url(#G)" transform="translate(111,0)"/><rect x="167" y="558" width="9" height="2" fill="url(#Lo)"/><rect x="0" y="563" width="111" height="5" fill="url(#Lo)"/><rect x="0" y="563" width="65" height="5" fill="url(#G)" transform="translate(111,0)"/><rect x="167" y="563" width="9" height="5" fill="url(#Lo)"/><rect x="0" y="569" width="111" height="1" fill="url(#Ln)"/><rect x="0" y="569" width="65" height="1" fill="url(#G)" transform="translate(111,0)"/><rect x="0" y="574" width="111" height="2" fill="url(#LR)"/><rect x="0" y="574" width="65" height="2" fill="url(#G)" transform="translate(111,0)"/><rect x="167" y="574" width="9" height="2" fill="url(#LR)"/><rect x="0" y="577" width="111" height="3" fill="url(#LR)"/><rect x="0" y="577" width="65" height="3" fill="url(#G)" transform="translate(111,0)"/><rect x="167" y="577" width="9" height="3" fill="url(#LR)"/><rect x="0" y="582" width="111" height="2" fill="url(#LR)"/><rect x="0" y="582" width="65" height="2" fill="url(#G)" transform="translate(111,0)"/><rect x="167" y="582" width="9" height="2" fill="url(#LR)"/><rect x="0" y="585" width="111" height="1" fill="url(#LR)"/><rect x="0" y="585" width="65" height="1" fill="url(#G)" transform="translate(111,0)"/><rect x="167" y="585" width="9" height="1" fill="url(#LR)"/><rect x="0" y="589" width="111" height="1" fill="url(#Ln)"/><rect x="0" y="589" width="65" height="1" fill="url(#G)" transform="translate(111,0)"/><rect x="0" y="594" width="111" height="15" fill="url(#Ln)"/><rect x="0" y="594" width="65" height="15" fill="url(#F)" transform="translate(111,0)"/><rect x="0" y="610" width="111" height="4" fill="url(#Ln)"/><rect x="0" y="610" width="65" height="4" fill="url(#F)" transform="translate(111,0)"/><rect x="0" y="615" width="111" height="15" fill="url(#Ln)"/><rect x="0" y="615" width="65" height="15" fill="url(#F)" transform="translate(111,0)"/><rect x="0" y="632" width="111" height="12" fill="url(#Ln)"/><rect x="0" y="632" width="65" height="12" fill="url(#F)" transform="translate(111,0)"/><rect x="0" y="649" width="111" height="12" fill="url(#Ln)"/><rect x="0" y="649" width="65" height="12" fill="url(#F)" transform="translate(111,0)"/><rect x="0" y="664" width="111" height="9" fill="url(#Ln)"/><rect x="0" y="664" width="65" height="9" fill="url(#F)" transform="translate(111,0)"/><rect x="0" y="674" width="111" height="5" fill="url(#Ln)"/><rect x="0" y="674" width="65" height="5" fill="url(#F)" transform="translate(111,0)"/><rect x="0" y="684" width="111" height="23" fill="url(#Ln)"/><rect x="0" y="684" width="65" height="23" fill="url(#F)" transform="translate(111,0)"/><rect x="0" y="708" width="111" height="3" fill="url(#Ln)"/><rect x="0" y="708" width="65" height="3" fill="url(#F)" transform="translate(111,0)"/><rect x="0" y="713" width="111" height="4" fill="url(#Lr)"/><rect x="0" y="713" width="65" height="4" fill="url(#F)" transform="translate(111,0)"/><rect x="167" y="713" width="9" height="4" fill="url(#Lr)"/><rect x="0" y="719" width="111" height="1" fill="url(#Lr)"/><rect x="0" y="719" width="65" height="1" fill="url(#F)" transform="translate(111,0)"/><rect x="167" y="719" width="9" height="1" fill="url(#Lr)"/><rect x="0" y="91.8" width="176" height="1.4" fill="#000"/><rect x="0" y="134.8" width="176" height="1.4" fill="#000"/><rect x="0" y="139.8" width="176" height="1.4" fill="#000"/><rect x="0" y="142.8" width="176" height="1.4" fill="#000"/><rect x="0" y="157.8" width="176" height="1.4" fill="#000"/><rect x="0" y="245.8" width="176" height="2.4" fill="#000"/><rect x="0" y="258.8" width="176" height="1.4" fill="#000"/><rect x="0" y="280.8" width="176" height="2.4" fill="#000"/><rect x="0" y="342.8" width="176" height="1.4" fill="#000"/><rect x="0" y="351.8" width="176" height="2.4" fill="#000"/><rect x="0" y="368.8" width="176" height="1.4" fill="#000"/><rect x="0" y="376.8" width="176" height="1.4" fill="#000"/><rect x="0" y="403.8" width="176" height="1.4" fill="#000"/><rect x="0" y="408.8" width="176" height="1.4" fill="#000"/><rect x="0" y="412.8" width="176" height="1.4" fill="#000"/><rect x="0" y="428.8" width="176" height="1.4" fill="#000"/><rect x="0" y="436.8" width="176" height="1.4" fill="#000"/><rect x="0" y="440.8" width="176" height="1.4" fill="#000"/><rect x="0" y="450.8" width="176" height="1.4" fill="#000"/><rect x="0" y="464.8" width="176" height="2.4" fill="#000"/><rect x="0" y="494.8" width="176" height="1.4" fill="#000"/><rect x="0" y="499.8" width="176" height="1.4" fill="#000"/><rect x="0" y="504.8" width="176" height="1.4" fill="#000"/><rect x="0" y="509.8" width="176" height="1.4" fill="#000"/><rect x="0" y="534.8" width="176" height="1.4" fill="#000"/><rect x="0" y="551.8" width="176" height="1.4" fill="#000"/><rect x="0" y="567.8" width="176" height="1.4" fill="#000"/><rect x="0" y="569.8" width="176" height="4.4" fill="#000"/><rect x="0" y="575.8" width="176" height="1.4" fill="#000"/><rect x="0" y="583.8" width="176" height="1.4" fill="#000"/><rect x="0" y="585.8" width="176" height="1.4" fill="#000"/><rect x="0" y="643.8" width="176" height="1.4" fill="#000"/><rect x="0" y="672.8" width="176" height="1.4" fill="#000"/></g>
<g transform="translate(345,0)"><rect x="0" y="81" width="111" height="3" fill="url(#Lry)"/><rect x="0" y="81" width="64" height="3" fill="url(#F)" transform="translate(111,0)"/><rect x="165" y="81" width="10" height="3" fill="url(#Lb)"/><rect x="0" y="85" width="111" height="7" fill="url(#Lry)"/><rect x="0" y="85" width="64" height="7" fill="url(#F)" transform="translate(111,0)"/><rect x="165" y="85" width="10" height="7" fill="url(#Lb)"/><rect x="0" y="133" width="111" height="2" fill="url(#Ln)"/><rect x="0" y="133" width="64" height="2" fill="url(#F)" transform="translate(111,0)"/><rect x="0" y="137" width="111" height="2" fill="url(#Ln)"/><rect x="0" y="137" width="64" height="2" fill="url(#F)" transform="translate(111,0)"/><rect x="0" y="141" width="111" height="2" fill="url(#Ln)"/><rect x="0" y="141" width="64" height="2" fill="url(#F)" transform="translate(111,0)"/><rect x="0" y="156" width="111" height="2" fill="url(#Ln)"/><rect x="0" y="156" width="64" height="2" fill="url(#F)" transform="translate(111,0)"/><rect x="0" y="168" width="111" height="1" fill="url(#Ln)"/><rect x="0" y="168" width="64" height="1" fill="url(#F)" transform="translate(111,0)"/><rect x="0" y="245" width="111" height="1" fill="url(#Ln)"/><rect x="0" y="245" width="64" height="1" fill="url(#F)" transform="translate(111,0)"/><rect x="0" y="250" width="111" height="4" fill="url(#Ln)"/><rect x="0" y="250" width="64" height="4" fill="url(#F)" transform="translate(111,0)"/><rect x="0" y="257" width="111" height="2" fill="url(#LRy)"/><rect x="0" y="257" width="64" height="2" fill="url(#F)" transform="translate(111,0)"/><rect x="165" y="257" width="10" height="2" fill="url(#Lb)"/><rect x="0" y="270" width="111" height="1" fill="url(#LRy)"/><rect x="0" y="270" width="64" height="1" fill="url(#F)" transform="translate(111,0)"/><rect x="165" y="270" width="10" height="1" fill="url(#Lb)"/><rect x="0" y="272" width="111" height="1" fill="url(#Ln)"/><rect x="0" y="272" width="64" height="1" fill="url(#F)" transform="translate(111,0)"/><rect x="0" y="274" width="111" height="1" fill="url(#LRy)"/><rect x="0" y="274" width="64" height="1" fill="url(#F)" transform="translate(111,0)"/><rect x="165" y="274" width="10" height="1" fill="url(#Lb)"/><rect x="0" y="276" width="111" height="1" fill="url(#LRy)"/><rect x="0" y="276" width="64" height="1" fill="url(#F)" transform="translate(111,0)"/><rect x="165" y="276" width="10" height="1" fill="url(#Lb)"/><rect x="0" y="278" width="111" height="1" fill="url(#LRy)"/><rect x="0" y="278" width="64" height="1" fill="url(#F)" transform="translate(111,0)"/><rect x="165" y="278" width="10" height="1" fill="url(#Lb)"/><rect x="0" y="280" width="111" height="1" fill="url(#LRy)"/><rect x="0" y="280" width="64" height="1" fill="url(#F)" transform="translate(111,0)"/><rect x="165" y="280" width="10" height="1" fill="url(#Lb)"/><rect x="0" y="284" width="111" height="1" fill="url(#Lcy)"/><rect x="0" y="284" width="64" height="1" fill="url(#F)" transform="translate(111,0)"/><rect x="0" y="287" width="111" height="3" fill="url(#Ln)"/><rect x="0" y="287" width="64" height="3" fill="url(#F)" transform="translate(111,0)"/><rect x="0" y="292" width="111" height="3" fill="url(#Ln)"/><rect x="0" y="292" width="64" height="3" fill="url(#F)" transform="translate(111,0)"/><rect x="0" y="298" width="111" height="6" fill="url(#Lcy)"/><rect x="0" y="298" width="64" height="6" fill="url(#F)" transform="translate(111,0)"/><rect x="0" y="305" width="111" height="2" fill="url(#Ln)"/><rect x="0" y="305" width="64" height="2" fill="url(#F)" transform="translate(111,0)"/><rect x="0" y="308" width="111" height="2" fill="url(#Ln)"/><rect x="0" y="308" width="64" height="2" fill="url(#F)" transform="translate(111,0)"/><rect x="0" y="311" width="111" height="12" fill="url(#Ln)"/><rect x="0" y="311" width="64" height="12" fill="url(#F)" transform="translate(111,0)"/><rect x="0" y="328" width="111" height="2" fill="url(#Ln)"/><rect x="0" y="328" width="64" height="2" fill="url(#F)" transform="translate(111,0)"/><rect x="0" y="331" width="111" height="12" fill="url(#Ln)"/><rect x="0" y="331" width="64" height="12" fill="url(#F)" transform="translate(111,0)"/><rect x="0" y="347" width="111" height="1" fill="url(#Lry)"/><rect x="0" y="347" width="64" height="1" fill="url(#F)" transform="translate(111,0)"/><rect x="165" y="347" width="10" height="1" fill="url(#Lb)"/><rect x="0" y="349" width="111" height="3" fill="url(#LRy)"/><rect x="0" y="349" width="64" height="3" fill="url(#F)" transform="translate(111,0)"/><rect x="165" y="349" width="10" height="3" fill="url(#Lb)"/><rect x="0" y="354" width="111" height="6" fill="url(#Ln)"/><rect x="0" y="354" width="64" height="6" fill="url(#F)" transform="translate(111,0)"/><rect x="0" y="363" width="111" height="4" fill="url(#Ln)"/><rect x="0" y="363" width="64" height="4" fill="url(#F)" transform="translate(111,0)"/><rect x="0" y="368" width="111" height="1" fill="url(#Ln)"/><rect x="0" y="368" width="64" height="1" fill="url(#F)" transform="translate(111,0)"/><rect x="0" y="373" width="111" height="4" fill="url(#Ln)"/><rect x="0" y="373" width="64" height="4" fill="url(#F)" transform="translate(111,0)"/><rect x="0" y="378" width="111" height="5" fill="url(#Ln)"/><rect x="0" y="378" width="64" height="5" fill="url(#F)" transform="translate(111,0)"/><rect x="0" y="384" width="111" height="4" fill="url(#Ln)"/><rect x="0" y="384" width="64" height="4" fill="url(#F)" transform="translate(111,0)"/><rect x="0" y="389" width="111" height="15" fill="url(#Ln)"/><rect x="0" y="389" width="64" height="15" fill="url(#F)" transform="translate(111,0)"/><rect x="0" y="406" width="111" height="3" fill="url(#Ln)"/><rect x="0" y="406" width="64" height="3" fill="url(#F)" transform="translate(111,0)"/><rect x="0" y="410" width="111" height="3" fill="url(#Ln)"/><rect x="0" y="410" width="64" height="3" fill="url(#F)" transform="translate(111,0)"/><rect x="0" y="416" width="111" height="8" fill="url(#Ln)"/><rect x="0" y="416" width="64" height="8" fill="url(#F)" transform="translate(111,0)"/><rect x="0" y="425" width="111" height="1" fill="url(#Ln)"/><rect x="0" y="425" width="64" height="1" fill="url(#F)" transform="translate(111,0)"/><rect x="0" y="430" width="111" height="7" fill="url(#Ln)"/><rect x="0" y="430" width="64" height="7" fill="url(#F)" transform="translate(111,0)"/><rect x="0" y="442" width="111" height="3" fill="url(#Ln)"/><rect x="0" y="442" width="64" height="3" fill="url(#F)" transform="translate(111,0)"/><rect x="0" y="446" width="111" height="3" fill="url(#Ln)"/><rect x="0" y="446" width="64" height="3" fill="url(#F)" transform="translate(111,0)"/><rect x="0" y="452" width="111" height="3" fill="url(#LRy)"/><rect x="0" y="452" width="64" height="3" fill="url(#F)" transform="translate(111,0)"/><rect x="165" y="452" width="10" height="3" fill="url(#Lb)"/><rect x="0" y="456" width="111" height="1" fill="url(#Ln)"/><rect x="0" y="456" width="64" height="1" fill="url(#F)" transform="translate(111,0)"/><rect x="0" y="459" width="111" height="6" fill="url(#Loy)"/><rect x="0" y="459" width="64" height="6" fill="url(#F)" transform="translate(111,0)"/><rect x="165" y="459" width="10" height="6" fill="url(#Lb)"/><rect x="0" y="467" width="111" height="1" fill="url(#Loy)"/><rect x="0" y="467" width="64" height="1" fill="url(#F)" transform="translate(111,0)"/><rect x="165" y="467" width="10" height="1" fill="url(#Lb)"/><rect x="0" y="469" width="111" height="9" fill="url(#Loy)"/><rect x="0" y="469" width="64" height="9" fill="url(#F)" transform="translate(111,0)"/><rect x="165" y="469" width="10" height="9" fill="url(#Lb)"/><rect x="0" y="480" width="111" height="10" fill="url(#Lry)"/><rect x="0" y="480" width="64" height="10" fill="url(#F)" transform="translate(111,0)"/><rect x="165" y="480" width="10" height="10" fill="url(#Lb)"/><rect x="0" y="493" width="111" height="2" fill="url(#Lb)"/><rect x="0" y="493" width="64" height="2" fill="url(#G)" transform="translate(111,0)"/><rect x="165" y="493" width="10" height="2" fill="url(#Lb)"/><rect x="0" y="496" width="111" height="4" fill="url(#Lb)"/><rect x="0" y="496" width="64" height="4" fill="url(#G)" transform="translate(111,0)"/><rect x="165" y="496" width="10" height="4" fill="url(#Lb)"/><rect x="0" y="501" width="111" height="2" fill="url(#Lb)"/><rect x="0" y="501" width="64" height="2" fill="url(#G)" transform="translate(111,0)"/><rect x="165" y="501" width="10" height="2" fill="url(#Lb)"/><rect x="0" y="504" width="111" height="1" fill="url(#Lby)"/><rect x="0" y="504" width="64" height="1" fill="url(#G)" transform="translate(111,0)"/><rect x="165" y="504" width="10" height="1" fill="url(#Lb)"/><rect x="0" y="506" width="111" height="3" fill="url(#Lb)"/><rect x="0" y="506" width="64" height="3" fill="url(#G)" transform="translate(111,0)"/><rect x="165" y="506" width="10" height="3" fill="url(#Lb)"/><rect x="0" y="511" width="111" height="6" fill="url(#Lb)"/><rect x="0" y="511" width="64" height="6" fill="url(#G)" transform="translate(111,0)"/><rect x="165" y="511" width="10" height="6" fill="url(#Lb)"/><rect x="0" y="518" width="111" height="4" fill="url(#Lry)"/><rect x="0" y="518" width="64" height="4" fill="url(#G)" transform="translate(111,0)"/><rect x="165" y="518" width="10" height="4" fill="url(#Lb)"/><rect x="0" y="523" width="111" height="5" fill="url(#Lby)"/><rect x="0" y="523" width="64" height="5" fill="url(#G)" transform="translate(111,0)"/><rect x="165" y="523" width="10" height="5" fill="url(#Lb)"/><rect x="0" y="529" width="111" height="6" fill="url(#Loy)"/><rect x="0" y="529" width="64" height="6" fill="url(#G)" transform="translate(111,0)"/><rect x="165" y="529" width="10" height="6" fill="url(#Lb)"/><rect x="0" y="539" width="111" height="6" fill="url(#LRy)"/><rect x="0" y="539" width="64" height="6" fill="url(#G)" transform="translate(111,0)"/><rect x="165" y="539" width="10" height="6" fill="url(#Lb)"/><rect x="0" y="549" width="111" height="3" fill="url(#Loy)"/><rect x="0" y="549" width="64" height="3" fill="url(#G)" transform="translate(111,0)"/><rect x="165" y="549" width="10" height="3" fill="url(#Lb)"/><rect x="0" y="553" width="111" height="2" fill="url(#Loy)"/><rect x="0" y="553" width="64" height="2" fill="url(#G)" transform="translate(111,0)"/><rect x="165" y="553" width="10" height="2" fill="url(#Lb)"/><rect x="0" y="558" width="111" height="2" fill="url(#Loy)"/><rect x="0" y="558" width="64" height="2" fill="url(#G)" transform="translate(111,0)"/><rect x="165" y="558" width="10" height="2" fill="url(#Lb)"/><rect x="0" y="563" width="111" height="5" fill="url(#Loy)"/><rect x="0" y="563" width="64" height="5" fill="url(#G)" transform="translate(111,0)"/><rect x="165" y="563" width="10" height="5" fill="url(#Lb)"/><rect x="0" y="569" width="111" height="1" fill="url(#Ln)"/><rect x="0" y="569" width="64" height="1" fill="url(#G)" transform="translate(111,0)"/><rect x="0" y="574" width="111" height="2" fill="url(#LRy)"/><rect x="0" y="574" width="64" height="2" fill="url(#G)" transform="translate(111,0)"/><rect x="165" y="574" width="10" height="2" fill="url(#Lb)"/><rect x="0" y="577" width="111" height="3" fill="url(#LRy)"/><rect x="0" y="577" width="64" height="3" fill="url(#G)" transform="translate(111,0)"/><rect x="165" y="577" width="10" height="3" fill="url(#Lb)"/><rect x="0" y="582" width="111" height="2" fill="url(#LRy)"/><rect x="0" y="582" width="64" height="2" fill="url(#G)" transform="translate(111,0)"/><rect x="165" y="582" width="10" height="2" fill="url(#Lb)"/><rect x="0" y="585" width="111" height="1" fill="url(#LRy)"/><rect x="0" y="585" width="64" height="1" fill="url(#G)" transform="translate(111,0)"/><rect x="165" y="585" width="10" height="1" fill="url(#Lb)"/><rect x="0" y="589" width="111" height="1" fill="url(#Ln)"/><rect x="0" y="589" width="64" height="1" fill="url(#G)" transform="translate(111,0)"/><rect x="0" y="594" width="111" height="15" fill="url(#Ln)"/><rect x="0" y="594" width="64" height="15" fill="url(#F)" transform="translate(111,0)"/><rect x="0" y="610" width="111" height="4" fill="url(#Ln)"/><rect x="0" y="610" width="64" height="4" fill="url(#F)" transform="translate(111,0)"/><rect x="0" y="615" width="111" height="15" fill="url(#Ln)"/><rect x="0" y="615" width="64" height="15" fill="url(#F)" transform="translate(111,0)"/><rect x="0" y="632" width="111" height="12" fill="url(#Ln)"/><rect x="0" y="632" width="64" height="12" fill="url(#F)" transform="translate(111,0)"/><rect x="0" y="649" width="111" height="12" fill="url(#Ln)"/><rect x="0" y="649" width="64" height="12" fill="url(#F)" transform="translate(111,0)"/><rect x="0" y="664" width="111" height="9" fill="url(#Ln)"/><rect x="0" y="664" width="64" height="9" fill="url(#F)" transform="translate(111,0)"/><rect x="0" y="674" width="111" height="5" fill="url(#Ln)"/><rect x="0" y="674" width="64" height="5" fill="url(#F)" transform="translate(111,0)"/><rect x="0" y="684" width="111" height="23" fill="url(#Ln)"/><rect x="0" y="684" width="64" height="23" fill="url(#F)" transform="translate(111,0)"/><rect x="0" y="708" width="111" height="3" fill="url(#Ln)"/><rect x="0" y="708" width="64" height="3" fill="url(#F)" transform="translate(111,0)"/><rect x="0" y="713" width="111" height="4" fill="url(#Lry)"/><rect x="0" y="713" width="64" height="4" fill="url(#F)" transform="translate(111,0)"/><rect x="165" y="713" width="10" height="4" fill="url(#Lb)"/><rect x="0" y="719" width="111" height="1" fill="url(#Lry)"/><rect x="0" y="719" width="64" height="1" fill="url(#F)" transform="translate(111,0)"/><rect x="165" y="719" width="10" height="1" fill="url(#Lb)"/><rect x="0" y="91.8" width="175" height="1.4" fill="#000"/><rect x="0" y="134.8" width="175" height="1.4" fill="#000"/><rect x="0" y="139.8" width="175" height="1.4" fill="#000"/><rect x="0" y="142.8" width="175" height="1.4" fill="#000"/><rect x="0" y="157.8" width="175" height="1.4" fill="#000"/><rect x="0" y="245.8" width="175" height="2.4" fill="#000"/><rect x="0" y="258.8" width="175" height="1.4" fill="#000"/><rect x="0" y="280.8" width="175" height="2.4" fill="#000"/><rect x="0" y="342.8" width="175" height="1.4" fill="#000"/><rect x="0" y="351.8" width="175" height="2.4" fill="#000"/><rect x="0" y="368.8" width="175" height="1.4" fill="#000"/><rect x="0" y="376.8" width="175" height="1.4" fill="#000"/><rect x="0" y="403.8" width="175" height="1.4" fill="#000"/><rect x="0" y="408.8" width="175" height="1.4" fill="#000"/><rect x="0" y="412.8" width="175" height="1.4" fill="#000"/><rect x="0" y="428.8" width="175" height="1.4" fill="#000"/><rect x="0" y="436.8" width="175" height="1.4" fill="#000"/><rect x="0" y="440.8" width="175" height="1.4" fill="#000"/><rect x="0" y="450.8" width="175" height="1.4" fill="#000"/><rect x="0" y="464.8" width="175" height="2.4" fill="#000"/><rect x="0" y="494.8" width="175" height="1.4" fill="#000"/><rect x="0" y="499.8" width="175" height="1.4" fill="#000"/><rect x="0" y="504.8" width="175" height="1.4" fill="#000"/><rect x="0" y="509.8" width="175" height="1.4" fill="#000"/><rect x="0" y="534.8" width="175" height="1.4" fill="#000"/><rect x="0" y="551.8" width="175" height="1.4" fill="#000"/><rect x="0" y="567.8" width="175" height="1.4" fill="#000"/><rect x="0" y="569.8" width="175" height="4.4" fill="#000"/><rect x="0" y="575.8" width="175" height="1.4" fill="#000"/><rect x="0" y="583.8" width="175" height="1.4" fill="#000"/><rect x="0" y="585.8" width="175" height="1.4" fill="#000"/><rect x="0" y="643.8" width="175" height="1.4" fill="#000"/><rect x="0" y="672.8" width="175" height="1.4" fill="#000"/></g>
<g transform="translate(557,0)"><rect x="0" y="81" width="111" height="3" fill="url(#Ln)"/><rect x="0" y="81" width="65" height="3" fill="url(#F)" transform="translate(111,0)"/><rect x="0" y="85" width="111" height="7" fill="url(#Ln)"/><rect x="0" y="85" width="65" height="7" fill="url(#F)" transform="translate(111,0)"/><rect x="0" y="133" width="111" height="2" fill="url(#Ln)"/><rect x="0" y="133" width="65" height="2" fill="url(#F)" transform="translate(111,0)"/><rect x="0" y="137" width="111" height="2" fill="url(#Ln)"/><rect x="0" y="137" width="65" height="2" fill="url(#F)" transform="translate(111,0)"/><rect x="0" y="141" width="111" height="2" fill="url(#Ln)"/><rect x="0" y="141" width="65" height="2" fill="url(#F)" transform="translate(111,0)"/><rect x="0" y="156" width="111" height="2" fill="url(#Ln)"/><rect x="0" y="156" width="65" height="2" fill="url(#F)" transform="translate(111,0)"/><rect x="0" y="168" width="111" height="1" fill="url(#Ln)"/><rect x="0" y="168" width="65" height="1" fill="url(#F)" transform="translate(111,0)"/><rect x="0" y="245" width="111" height="1" fill="url(#Ln)"/><rect x="0" y="245" width="65" height="1" fill="url(#F)" transform="translate(111,0)"/><rect x="0" y="250" width="111" height="4" fill="url(#Ln)"/><rect x="0" y="250" width="65" height="4" fill="url(#F)" transform="translate(111,0)"/><rect x="0" y="257" width="111" height="2" fill="url(#Ln)"/><rect x="0" y="257" width="65" height="2" fill="url(#F)" transform="translate(111,0)"/><rect x="0" y="270" width="111" height="1" fill="url(#Ln)"/><rect x="0" y="270" width="65" height="1" fill="url(#F)" transform="translate(111,0)"/><rect x="0" y="272" width="111" height="1" fill="url(#Ln)"/><rect x="0" y="272" width="65" height="1" fill="url(#F)" transform="translate(111,0)"/><rect x="0" y="274" width="111" height="1" fill="url(#Ln)"/><rect x="0" y="274" width="65" height="1" fill="url(#F)" transform="translate(111,0)"/><rect x="0" y="276" width="111" height="1" fill="url(#Ln)"/><rect x="0" y="276" width="65" height="1" fill="url(#F)" transform="translate(111,0)"/><rect x="0" y="278" width="111" height="1" fill="url(#Ln)"/><rect x="0" y="278" width="65" height="1" fill="url(#F)" transform="translate(111,0)"/><rect x="0" y="280" width="111" height="1" fill="url(#Ln)"/><rect x="0" y="280" width="65" height="1" fill="url(#F)" transform="translate(111,0)"/><rect x="0" y="284" width="111" height="1" fill="url(#Ln)"/><rect x="0" y="284" width="65" height="1" fill="url(#F)" transform="translate(111,0)"/><rect x="0" y="287" width="111" height="3" fill="url(#Ln)"/><rect x="0" y="287" width="65" height="3" fill="url(#F)" transform="translate(111,0)"/><rect x="0" y="292" width="111" height="3" fill="url(#Ln)"/><rect x="0" y="292" width="65" height="3" fill="url(#F)" transform="translate(111,0)"/><rect x="0" y="298" width="111" height="6" fill="url(#Ln)"/><rect x="0" y="298" width="65" height="6" fill="url(#F)" transform="translate(111,0)"/><rect x="0" y="305" width="111" height="2" fill="url(#Ln)"/><rect x="0" y="305" width="65" height="2" fill="url(#F)" transform="translate(111,0)"/><rect x="0" y="308" width="111" height="2" fill="url(#Ln)"/><rect x="0" y="308" width="65" height="2" fill="url(#F)" transform="translate(111,0)"/><rect x="0" y="311" width="111" height="12" fill="url(#Ln)"/><rect x="0" y="311" width="65" height="12" fill="url(#F)" transform="translate(111,0)"/><rect x="0" y="328" width="111" height="2" fill="url(#Ln)"/><rect x="0" y="328" width="65" height="2" fill="url(#F)" transform="translate(111,0)"/><rect x="0" y="331" width="111" height="12" fill="url(#Ln)"/><rect x="0" y="331" width="65" height="12" fill="url(#F)" transform="translate(111,0)"/><rect x="0" y="347" width="111" height="1" fill="url(#Ln)"/><rect x="0" y="347" width="65" height="1" fill="url(#F)" transform="translate(111,0)"/><rect x="0" y="349" width="111" height="3" fill="url(#Ln)"/><rect x="0" y="349" width="65" height="3" fill="url(#F)" transform="translate(111,0)"/><rect x="0" y="354" width="111" height="6" fill="url(#Ln)"/><rect x="0" y="354" width="65" height="6" fill="url(#F)" transform="translate(111,0)"/><rect x="0" y="363" width="111" height="4" fill="url(#Ln)"/><rect x="0" y="363" width="65" height="4" fill="url(#F)" transform="translate(111,0)"/><rect x="0" y="368" width="111" height="1" fill="url(#Ln)"/><rect x="0" y="368" width="65" height="1" fill="url(#F)" transform="translate(111,0)"/><rect x="0" y="373" width="111" height="4" fill="url(#Ln)"/><rect x="0" y="373" width="65" height="4" fill="url(#F)" transform="translate(111,0)"/><rect x="0" y="378" width="111" height="5" fill="url(#Ln)"/><rect x="0" y="378" width="65" height="5" fill="url(#F)" transform="translate(111,0)"/><rect x="0" y="384" width="111" height="4" fill="url(#Ln)"/><rect x="0" y="384" width="65" height="4" fill="url(#F)" transform="translate(111,0)"/><rect x="0" y="389" width="111" height="15" fill="url(#Ln)"/><rect x="0" y="389" width="65" height="15" fill="url(#F)" transform="translate(111,0)"/><rect x="0" y="406" width="111" height="3" fill="url(#Ln)"/><rect x="0" y="406" width="65" height="3" fill="url(#F)" transform="translate(111,0)"/><rect x="0" y="410" width="111" height="3" fill="url(#Ln)"/><rect x="0" y="410" width="65" height="3" fill="url(#F)" transform="translate(111,0)"/><rect x="0" y="416" width="111" height="8" fill="url(#Ln)"/><rect x="0" y="416" width="65" height="8" fill="url(#F)" transform="translate(111,0)"/><rect x="0" y="425" width="111" height="1" fill="url(#Ln)"/><rect x="0" y="425" width="65" height="1" fill="url(#F)" transform="translate(111,0)"/><rect x="0" y="430" width="111" height="7" fill="url(#Ln)"/><rect x="0" y="430" width="65" height="7" fill="url(#F)" transform="translate(111,0)"/><rect x="0" y="442" width="111" height="3" fill="url(#Ln)"/><rect x="0" y="442" width="65" height="3" fill="url(#F)" transform="translate(111,0)"/><rect x="0" y="446" width="111" height="3" fill="url(#Ln)"/><rect x="0" y="446" width="65" height="3" fill="url(#F)" transform="translate(111,0)"/><rect x="0" y="452" width="111" height="3" fill="url(#Ln)"/><rect x="0" y="452" width="65" height="3" fill="url(#F)" transform="translate(111,0)"/><rect x="0" y="456" width="111" height="1" fill="url(#Ln)"/><rect x="0" y="456" width="65" height="1" fill="url(#F)" transform="translate(111,0)"/><rect x="0" y="459" width="111" height="6" fill="url(#Ln)"/><rect x="0" y="459" width="65" height="6" fill="url(#F)" transform="translate(111,0)"/><rect x="0" y="467" width="111" height="1" fill="url(#Ln)"/><rect x="0" y="467" width="65" height="1" fill="url(#F)" transform="translate(111,0)"/><rect x="0" y="469" width="111" height="9" fill="url(#Ln)"/><rect x="0" y="469" width="65" height="9" fill="url(#F)" transform="translate(111,0)"/><rect x="0" y="480" width="111" height="10" fill="url(#Ln)"/><rect x="0" y="480" width="65" height="10" fill="url(#F)" transform="translate(111,0)"/><rect x="0" y="493" width="111" height="2" fill="url(#Ln)"/><rect x="0" y="493" width="65" height="2" fill="url(#G)" transform="translate(111,0)"/><rect x="0" y="496" width="111" height="4" fill="url(#Ln)"/><rect x="0" y="496" width="65" height="4" fill="url(#G)" transform="translate(111,0)"/><rect x="0" y="501" width="111" height="2" fill="url(#Ln)"/><rect x="0" y="501" width="65" height="2" fill="url(#G)" transform="translate(111,0)"/><rect x="0" y="504" width="111" height="1" fill="url(#Ln)"/><rect x="0" y="504" width="65" height="1" fill="url(#G)" transform="translate(111,0)"/><rect x="0" y="506" width="111" height="3" fill="url(#Ln)"/><rect x="0" y="506" width="65" height="3" fill="url(#G)" transform="translate(111,0)"/><rect x="0" y="511" width="111" height="6" fill="url(#Ln)"/><rect x="0" y="511" width="65" height="6" fill="url(#G)" transform="translate(111,0)"/><rect x="0" y="518" width="111" height="4" fill="url(#Ln)"/><rect x="0" y="518" width="65" height="4" fill="url(#G)" transform="translate(111,0)"/><rect x="0" y="523" width="111" height="5" fill="url(#Ln)"/><rect x="0" y="523" width="65" height="5" fill="url(#G)" transform="translate(111,0)"/><rect x="0" y="529" width="111" height="6" fill="url(#Ln)"/><rect x="0" y="529" width="65" height="6" fill="url(#G)" transform="translate(111,0)"/><rect x="0" y="539" width="111" height="6" fill="url(#Ln)"/><rect x="0" y="539" width="65" height="6" fill="url(#G)" transform="translate(111,0)"/><rect x="0" y="549" width="111" height="3" fill="url(#Ln)"/><rect x="0" y="549" width="65" height="3" fill="url(#G)" transform="translate(111,0)"/><rect x="0" y="553" width="111" height="2" fill="url(#Ln)"/><rect x="0" y="553" width="65" height="2" fill="url(#G)" transform="translate(111,0)"/><rect x="0" y="558" width="111" height="2" fill="url(#Ln)"/><rect x="0" y="558" width="65" height="2" fill="url(#G)" transform="translate(111,0)"/><rect x="0" y="563" width="111" height="5" fill="url(#Ln)"/><rect x="0" y="563" width="65" height="5" fill="url(#G)" transform="translate(111,0)"/><rect x="0" y="569" width="111" height="1" fill="url(#Ln)"/><rect x="0" y="569" width="65" height="1" fill="url(#G)" transform="translate(111,0)"/><rect x="0" y="574" width="111" height="2" fill="url(#Ln)"/><rect x="0" y="574" width="65" height="2" fill="url(#G)" transform="translate(111,0)"/><rect x="0" y="577" width="111" height="3" fill="url(#Ln)"/><rect x="0" y="577" width="65" height="3" fill="url(#G)" transform="translate(111,0)"/><rect x="0" y="582" width="111" height="2" fill="url(#Ln)"/><rect x="0" y="582" width="65" height="2" fill="url(#G)" transform="translate(111,0)"/><rect x="0" y="585" width="111" height="1" fill="url(#Ln)"/><rect x="0" y="585" width="65" height="1" fill="url(#G)" transform="translate(111,0)"/><rect x="0" y="589" width="111" height="1" fill="url(#Ln)"/><rect x="0" y="589" width="65" height="1" fill="url(#G)" transform="translate(111,0)"/><rect x="0" y="594" width="111" height="15" fill="url(#Ln)"/><rect x="0" y="594" width="65" height="15" fill="url(#F)" transform="translate(111,0)"/><rect x="0" y="610" width="111" height="4" fill="url(#Ln)"/><rect x="0" y="610" width="65" height="4" fill="url(#F)" transform="translate(111,0)"/><rect x="0" y="615" width="111" height="15" fill="url(#Ln)"/><rect x="0" y="615" width="65" height="15" fill="url(#F)" transform="translate(111,0)"/><rect x="0" y="632" width="111" height="12" fill="url(#Ln)"/><rect x="0" y="632" width="65" height="12" fill="url(#F)" transform="translate(111,0)"/><rect x="0" y="649" width="111" height="12" fill="url(#Ln)"/><rect x="0" y="649" width="65" height="12" fill="url(#F)" transform="translate(111,0)"/><rect x="0" y="664" width="111" height="9" fill="url(#Ln)"/><rect x="0" y="664" width="65" height="9" fill="url(#F)" transform="translate(111,0)"/><rect x="0" y="674" width="111" height="5" fill="url(#Ln)"/><rect x="0" y="674" width="65" height="5" fill="url(#F)" transform="translate(111,0)"/><rect x="0" y="684" width="111" height="23" fill="url(#Ln)"/><rect x="0" y="684" width="65" height="23" fill="url(#F)" transform="translate(111,0)"/><rect x="0" y="708" width="111" height="3" fill="url(#Ln)"/><rect x="0" y="708" width="65" height="3" fill="url(#F)" transform="translate(111,0)"/><rect x="0" y="713" width="111" height="4" fill="url(#Ln)"/><rect x="0" y="713" width="65" height="4" fill="url(#F)" transform="translate(111,0)"/><rect x="0" y="719" width="111" height="1" fill="url(#Ln)"/><rect x="0" y="719" width="65" height="1" fill="url(#F)" transform="translate(111,0)"/><rect x="0" y="91.8" width="176" height="1.4" fill="#000"/><rect x="0" y="134.8" width="176" height="1.4" fill="#000"/><rect x="0" y="139.8" width="176" height="1.4" fill="#000"/><rect x="0" y="142.8" width="176" height="1.4" fill="#000"/><rect x="0" y="157.8" width="176" height="1.4" fill="#000"/><rect x="0" y="245.8" width="176" height="2.4" fill="#000"/><rect x="0" y="258.8" width="176" height="1.4" fill="#000"/><rect x="0" y="280.8" width="176" height="2.4" fill="#000"/><rect x="0" y="342.8" width="176" height="1.4" fill="#000"/><rect x="0" y="351.8" width="176" height="2.4" fill="#000"/><rect x="0" y="368.8" width="176" height="1.4" fill="#000"/><rect x="0" y="376.8" width="176" height="1.4" fill="#000"/><rect x="0" y="403.8" width="176" height="1.4" fill="#000"/><rect x="0" y="408.8" width="176" height="1.4" fill="#000"/><rect x="0" y="412.8" width="176" height="1.4" fill="#000"/><rect x="0" y="428.8" width="176" height="1.4" fill="#000"/><rect x="0" y="436.8" width="176" height="1.4" fill="#000"/><rect x="0" y="440.8" width="176" height="1.4" fill="#000"/><rect x="0" y="450.8" width="176" height="1.4" fill="#000"/><rect x="0" y="464.8" width="176" height="2.4" fill="#000"/><rect x="0" y="494.8" width="176" height="1.4" fill="#000"/><rect x="0" y="499.8" width="176" height="1.4" fill="#000"/><rect x="0" y="504.8" width="176" height="1.4" fill="#000"/><rect x="0" y="509.8" width="176" height="1.4" fill="#000"/><rect x="0" y="534.8" width="176" height="1.4" fill="#000"/><rect x="0" y="551.8" width="176" height="1.4" fill="#000"/><rect x="0" y="567.8" width="176" height="1.4" fill="#000"/><rect x="0" y="569.8" width="176" height="4.4" fill="#000"/><rect x="0" y="575.8" width="176" height="1.4" fill="#000"/><rect x="0" y="583.8" width="176" height="1.4" fill="#000"/><rect x="0" y="585.8" width="176" height="1.4" fill="#000"/><rect x="0" y="643.8" width="176" height="1.4" fill="#000"/><rect x="0" y="672.8" width="176" height="1.4" fill="#000"/></g>
<g transform="translate(769,0)"><rect x="0" y="81" width="111" height="3" fill="url(#Ln)"/><rect x="0" y="81" width="65" height="3" fill="url(#F)" transform="translate(111,0)"/><rect x="0" y="85" width="111" height="7" fill="url(#Ln)"/><rect x="0" y="85" width="65" height="7" fill="url(#F)" transform="translate(111,0)"/><rect x="0" y="133" width="111" height="2" fill="url(#Ln)"/><rect x="0" y="133" width="65" height="2" fill="url(#F)" transform="translate(111,0)"/><rect x="0" y="137" width="111" height="2" fill="url(#Ln)"/><rect x="0" y="137" width="65" height="2" fill="url(#F)" transform="translate(111,0)"/><rect x="0" y="141" width="111" height="2" fill="url(#Ln)"/><rect x="0" y="141" width="65" height="2" fill="url(#F)" transform="translate(111,0)"/><rect x="0" y="156" width="111" height="2" fill="url(#Ln)"/><rect x="0" y="156" width="65" height="2" fill="url(#F)" transform="translate(111,0)"/><rect x="0" y="168" width="111" height="1" fill="url(#Ln)"/><rect x="0" y="168" width="65" height="1" fill="url(#F)" transform="translate(111,0)"/><rect x="0" y="245" width="111" height="1" fill="url(#Ln)"/><rect x="0" y="245" width="65" height="1" fill="url(#F)" transform="translate(111,0)"/><rect x="0" y="250" width="111" height="4" fill="url(#Ln)"/><rect x="0" y="250" width="65" height="4" fill="url(#F)" transform="translate(111,0)"/><rect x="0" y="257" width="111" height="2" fill="url(#Ln)"/><rect x="0" y="257" width="65" height="2" fill="url(#F)" transform="translate(111,0)"/><rect x="0" y="270" width="111" height="1" fill="url(#Ln)"/><rect x="0" y="270" width="65" height="1" fill="url(#F)" transform="translate(111,0)"/><rect x="0" y="272" width="111" height="1" fill="url(#Ln)"/><rect x="0" y="272" width="65" height="1" fill="url(#F)" transform="translate(111,0)"/><rect x="0" y="274" width="111" height="1" fill="url(#Ln)"/><rect x="0" y="274" width="65" height="1" fill="url(#F)" transform="translate(111,0)"/><rect x="0" y="276" width="111" height="1" fill="url(#Ln)"/><rect x="0" y="276" width="65" height="1" fill="url(#F)" transform="translate(111,0)"/><rect x="0" y="278" width="111" height="1" fill="url(#Ln)"/><rect x="0" y="278" width="65" height="1" fill="url(#F)" transform="translate(111,0)"/><rect x="0" y="280" width="111" height="1" fill="url(#Ln)"/><rect x="0" y="280" width="65" height="1" fill="url(#F)" transform="translate(111,0)"/><rect x="0" y="284" width="111" height="1" fill="url(#Ln)"/><rect x="0" y="284" width="65" height="1" fill="url(#F)" transform="translate(111,0)"/><rect x="0" y="287" width="111" height="3" fill="url(#Ln)"/><rect x="0" y="287" width="65" height="3" fill="url(#F)" transform="translate(111,0)"/><rect x="0" y="292" width="111" height="3" fill="url(#Ln)"/><rect x="0" y="292" width="65" height="3" fill="url(#F)" transform="translate(111,0)"/><rect x="0" y="298" width="111" height="6" fill="url(#Ln)"/><rect x="0" y="298" width="65" height="6" fill="url(#F)" transform="translate(111,0)"/><rect x="0" y="305" width="111" height="2" fill="url(#Ln)"/><rect x="0" y="305" width="65" height="2" fill="url(#F)" transform="translate(111,0)"/><rect x="0" y="308" width="111" height="2" fill="url(#Ln)"/><rect x="0" y="308" width="65" height="2" fill="url(#F)" transform="translate(111,0)"/><rect x="0" y="311" width="111" height="12" fill="url(#Ln)"/><rect x="0" y="311" width="65" height="12" fill="url(#F)" transform="translate(111,0)"/><rect x="0" y="328" width="111" height="2" fill="url(#Ln)"/><rect x="0" y="328" width="65" height="2" fill="url(#F)" transform="translate(111,0)"/><rect x="0" y="331" width="111" height="12" fill="url(#Ln)"/><rect x="0" y="331" width="65" height="12" fill="url(#F)" transform="translate(111,0)"/><rect x="0" y="347" width="111" height="1" fill="url(#Ln)"/><rect x="0" y="347" width="65" height="1" fill="url(#F)" transform="translate(111,0)"/><rect x="0" y="349" width="111" height="3" fill="url(#Ln)"/><rect x="0" y="349" width="65" height="3" fill="url(#F)" transform="translate(111,0)"/><rect x="0" y="354" width="111" height="6" fill="url(#Ln)"/><rect x="0" y="354" width="65" height="6" fill="url(#F)" transform="translate(111,0)"/><rect x="0" y="363" width="111" height="4" fill="url(#Ln)"/><rect x="0" y="363" width="65" height="4" fill="url(#F)" transform="translate(111,0)"/><rect x="0" y="368" width="111" height="1" fill="url(#Ln)"/><rect x="0" y="368" width="65" height="1" fill="url(#F)" transform="translate(111,0)"/><rect x="0" y="373" width="111" height="4" fill="url(#Ln)"/><rect x="0" y="373" width="65" height="4" fill="url(#F)" transform="translate(111,0)"/><rect x="0" y="378" width="111" height="5" fill="url(#Ln)"/><rect x="0" y="378" width="65" height="5" fill="url(#F)" transform="translate(111,0)"/><rect x="0" y="384" width="111" height="4" fill="url(#Ln)"/><rect x="0" y="384" width="65" height="4" fill="url(#F)" transform="translate(111,0)"/><rect x="0" y="389" width="111" height="15" fill="url(#Ln)"/><rect x="0" y="389" width="65" height="15" fill="url(#F)" transform="translate(111,0)"/><rect x="0" y="406" width="111" height="3" fill="url(#Ln)"/><rect x="0" y="406" width="65" height="3" fill="url(#F)" transform="translate(111,0)"/><rect x="0" y="410" width="111" height="3" fill="url(#Ln)"/><rect x="0" y="410" width="65" height="3" fill="url(#F)" transform="translate(111,0)"/><rect x="0" y="416" width="111" height="8" fill="url(#Ln)"/><rect x="0" y="416" width="65" height="8" fill="url(#F)" transform="translate(111,0)"/><rect x="0" y="425" width="111" height="1" fill="url(#Ln)"/><rect x="0" y="425" width="65" height="1" fill="url(#F)" transform="translate(111,0)"/><rect x="0" y="430" width="111" height="7" fill="url(#Ln)"/><rect x="0" y="430" width="65" height="7" fill="url(#F)" transform="translate(111,0)"/><rect x="0" y="442" width="111" height="3" fill="url(#Ln)"/><rect x="0" y="442" width="65" height="3" fill="url(#F)" transform="translate(111,0)"/><rect x="0" y="446" width="111" height="3" fill="url(#Ln)"/><rect x="0" y="446" width="65" height="3" fill="url(#F)" transform="translate(111,0)"/><rect x="0" y="452" width="111" height="3" fill="url(#Ln)"/><rect x="0" y="452" width="65" height="3" fill="url(#F)" transform="translate(111,0)"/><rect x="0" y="456" width="111" height="1" fill="url(#Ln)"/><rect x="0" y="456" width="65" height="1" fill="url(#F)" transform="translate(111,0)"/><rect x="0" y="459" width="111" height="6" fill="url(#Ln)"/><rect x="0" y="459" width="65" height="6" fill="url(#F)" transform="translate(111,0)"/><rect x="0" y="467" width="111" height="1" fill="url(#Ln)"/><rect x="0" y="467" width="65" height="1" fill="url(#F)" transform="translate(111,0)"/><rect x="0" y="469" width="111" height="9" fill="url(#Ln)"/><rect x="0" y="469" width="65" height="9" fill="url(#F)" transform="translate(111,0)"/><rect x="0" y="480" width="111" height="10" fill="url(#Ln)"/><rect x="0" y="480" width="65" height="10" fill="url(#F)" transform="translate(111,0)"/><rect x="0" y="493" width="111" height="2" fill="url(#Ln)"/><rect x="0" y="493" width="65" height="2" fill="url(#G)" transform="translate(111,0)"/><rect x="0" y="496" width="111" height="4" fill="url(#Ln)"/><rect x="0" y="496" width="65" height="4" fill="url(#G)" transform="translate(111,0)"/><rect x="0" y="501" width="111" height="2" fill="url(#Ln)"/><rect x="0" y="501" width="65" height="2" fill="url(#G)" transform="translate(111,0)"/><rect x="0" y="504" width="111" height="1" fill="url(#Ln)"/><rect x="0" y="504" width="65" height="1" fill="url(#G)" transform="translate(111,0)"/><rect x="0" y="506" width="111" height="3" fill="url(#Ln)"/><rect x="0" y="506" width="65" height="3" fill="url(#G)" transform="translate(111,0)"/><rect x="0" y="511" width="111" height="6" fill="url(#Ln)"/><rect x="0" y="511" width="65" height="6" fill="url(#G)" transform="translate(111,0)"/><rect x="0" y="518" width="111" height="4" fill="url(#Ln)"/><rect x="0" y="518" width="65" height="4" fill="url(#G)" transform="translate(111,0)"/><rect x="0" y="523" width="111" height="5" fill="url(#Ln)"/><rect x="0" y="523" width="65" height="5" fill="url(#G)" transform="translate(111,0)"/><rect x="0" y="529" width="111" height="6" fill="url(#Ln)"/><rect x="0" y="529" width="65" height="6" fill="url(#G)" transform="translate(111,0)"/><rect x="0" y="539" width="111" height="6" fill="url(#Ln)"/><rect x="0" y="539" width="65" height="6" fill="url(#G)" transform="translate(111,0)"/><rect x="0" y="549" width="111" height="3" fill="url(#Ln)"/><rect x="0" y="549" width="65" height="3" fill="url(#G)" transform="translate(111,0)"/><rect x="0" y="553" width="111" height="2" fill="url(#Ln)"/><rect x="0" y="553" width="65" height="2" fill="url(#G)" transform="translate(111,0)"/><rect x="0" y="558" width="111" height="2" fill="url(#Ln)"/><rect x="0" y="558" width="65" height="2" fill="url(#G)" transform="translate(111,0)"/><rect x="0" y="563" width="111" height="5" fill="url(#Ln)"/><rect x="0" y="563" width="65" height="5" fill="url(#G)" transform="translate(111,0)"/><rect x="0" y="569" width="111" height="1" fill="url(#Ln)"/><rect x="0" y="569" width="65" height="1" fill="url(#G)" transform="translate(111,0)"/><rect x="0" y="574" width="111" height="2" fill="url(#Ln)"/><rect x="0" y="574" width="65" height="2" fill="url(#G)" transform="translate(111,0)"/><rect x="0" y="577" width="111" height="3" fill="url(#Ln)"/><rect x="0" y="577" width="65" height="3" fill="url(#G)" transform="translate(111,0)"/><rect x="0" y="582" width="111" height="2" fill="url(#Ln)"/><rect x="0" y="582" width="65" height="2" fill="url(#G)" transform="translate(111,0)"/><rect x="0" y="585" width="111" height="1" fill="url(#Ln)"/><rect x="0" y="585" width="65" height="1" fill="url(#G)" transform="translate(111,0)"/><rect x="0" y="589" width="111" height="1" fill="url(#Ln)"/><rect x="0" y="589" width="65" height="1" fill="url(#G)" transform="translate(111,0)"/><rect x="0" y="594" width="111" height="15" fill="url(#Ln)"/><rect x="0" y="594" width="65" height="15" fill="url(#F)" transform="translate(111,0)"/><rect x="0" y="610" width="111" height="4" fill="url(#Ln)"/><rect x="0" y="610" width="65" height="4" fill="url(#F)" transform="translate(111,0)"/><rect x="0" y="615" width="111" height="15" fill="url(#Ln)"/><rect x="0" y="615" width="65" height="15" fill="url(#F)" transform="translate(111,0)"/><rect x="0" y="632" width="111" height="12" fill="url(#Ln)"/><rect x="0" y="632" width="65" height="12" fill="url(#F)" transform="translate(111,0)"/><rect x="0" y="649" width="111" height="12" fill="url(#Ln)"/><rect x="0" y="649" width="65" height="12" fill="url(#F)" transform="translate(111,0)"/><rect x="0" y="664" width="111" height="9" fill="url(#Ln)"/><rect x="0" y="664" width="65" height="9" fill="url(#F)" transform="translate(111,0)"/><rect x="0" y="674" width="111" height="5" fill="url(#Ln)"/><rect x="0" y="674" width="65" height="5" fill="url(#F)" transform="translate(111,0)"/><rect x="0" y="684" width="111" height="23" fill="url(#Ln)"/><rect x="0" y="684" width="65" height="23" fill="url(#F)" transform="translate(111,0)"/><rect x="0" y="708" width="111" height="3" fill="url(#Ln)"/><rect x="0" y="708" width="65" height="3" fill="url(#F)" transform="translate(111,0)"/><rect x="0" y="713" width="111" height="4" fill="url(#Ln)"/><rect x="0" y="713" width="65" height="4" fill="url(#F)" transform="translate(111,0)"/><rect x="0" y="719" width="111" height="1" fill="url(#Ln)"/><rect x="0" y="719" width="65" height="1" fill="url(#F)" transform="translate(111,0)"/><rect x="0" y="91.8" width="176" height="1.4" fill="#000"/><rect x="0" y="134.8" width="176" height="1.4" fill="#000"/><rect x="0" y="139.8" width="176" height="1.4" fill="#000"/><rect x="0" y="142.8" width="176" height="1.4" fill="#000"/><rect x="0" y="157.8" width="176" height="1.4" fill="#000"/><rect x="0" y="245.8" width="176" height="2.4" fill="#000"/><rect x="0" y="258.8" width="176" height="1.4" fill="#000"/><rect x="0" y="280.8" width="176" height="2.4" fill="#000"/><rect x="0" y="342.8" width="176" height="1.4" fill="#000"/><rect x="0" y="351.8" width="176" height="2.4" fill="#000"/><rect x="0" y="368.8" width="176" height="1.4" fill="#000"/><rect x="0" y="376.8" width="176" height="1.4" fill="#000"/><rect x="0" y="403.8" width="176" height="1.4" fill="#000"/><rect x="0" y="408.8" width="176" height="1.4" fill="#000"/><rect x="0" y="412.8" width="176" height="1.4" fill="#000"/><rect x="0" y="428.8" width="176" height="1.4" fill="#000"/><rect x="0" y="436.8" width="176" height="1.4" fill="#000"/><rect x="0" y="440.8" width="176" height="1.4" fill="#000"/><rect x="0" y="450.8" width="176" height="1.4" fill="#000"/><rect x="0" y="464.8" width="176" height="2.4" fill="#000"/><rect x="0" y="494.8" width="176" height="1.4" fill="#000"/><rect x="0" y="499.8" width="176" height="1.4" fill="#000"/><rect x="0" y="504.8" width="176" height="1.4" fill="#000"/><rect x="0" y="509.8" width="176" height="1.4" fill="#000"/><rect x="0" y="534.8" width="176" height="1.4" fill="#000"/><rect x="0" y="551.8" width="176" height="1.4" fill="#000"/><rect x="0" y="567.8" width="176" height="1.4" fill="#000"/><rect x="0" y="569.8" width="176" height="4.4" fill="#000"/><rect x="0" y="575.8" width="176" height="1.4" fill="#000"/><rect x="0" y="583.8" width="176" height="1.4" fill="#000"/><rect x="0" y="585.8" width="176" height="1.4" fill="#000"/><rect x="0" y="643.8" width="176" height="1.4" fill="#000"/><rect x="0" y="672.8" width="176" height="1.4" fill="#000"/></g>
<path d="M131.5 720.5v-5.6M131.5 80.5v5.6" stroke="#000" stroke-width=".75"/>
<path d="M173.5 720.5v-5.6M173.5 80.5v5.6" stroke="#000" stroke-width=".75"/>
<path d="M214.5 720.5v-5.6M214.5 80.5v5.6" stroke="#000" stroke-width=".75"/>
<path d="M256.5 720.5v-5.6M256.5 80.5v5.6" stroke="#000" stroke-width=".75"/>
<path d="M297.5 720.5v-5.6M297.5 80.5v5.6" stroke="#000" stroke-width=".75"/>
<path d="M131.5 720.5h5.6M308.5 720.5h-5.6" stroke="#000" stroke-width=".75"/>
<path d="M131.5 587.5h5.6M308.5 587.5h-5.6" stroke="#000" stroke-width=".75"/>
<path d="M131.5 453.5h5.6M308.5 453.5h-5.6" stroke="#000" stroke-width=".75"/>
<path d="M131.5 320.5h5.6M308.5 320.5h-5.6" stroke="#000" stroke-width=".75"/>
<path d="M131.5 187.5h5.6M308.5 187.5h-5.6" stroke="#000" stroke-width=".75"/>
<rect x="131.5" y="80.5" width="177.0" height="640" fill="none" stroke="#000" stroke-width="1.39"/>
<path d="M344.5 720.5v-5.6M344.5 80.5v5.6" stroke="#000" stroke-width=".75"/>
<path d="M385.5 720.5v-5.6M385.5 80.5v5.6" stroke="#000" stroke-width=".75"/>
<path d="M426.5 720.5v-5.6M426.5 80.5v5.6" stroke="#000" stroke-width=".75"/>
<path d="M468.5 720.5v-5.6M468.5 80.5v5.6" stroke="#000" stroke-width=".75"/>
<path d="M509.5 720.5v-5.6M509.5 80.5v5.6" stroke="#000" stroke-width=".75"/>
<path d="M344.5 720.5h5.6M520.5 720.5h-5.6" stroke="#000" stroke-width=".75"/>
<path d="M344.5 587.5h5.6M520.5 587.5h-5.6" stroke="#000" stroke-width=".75"/>
<path d="M344.5 453.5h5.6M520.5 453.5h-5.6" stroke="#000" stroke-width=".75"/>
<path d="M344.5 320.5h5.6M520.5 320.5h-5.6" stroke="#000" stroke-width=".75"/>
<path d="M344.5 187.5h5.6M520.5 187.5h-5.6" stroke="#000" stroke-width=".75"/>
<rect x="344.5" y="80.5" width="176.0" height="640" fill="none" stroke="#000" stroke-width="1.39"/>
<path d="M556.5 720.5v-5.6M556.5 80.5v5.6" stroke="#000" stroke-width=".75"/>
<path d="M597.5 720.5v-5.6M597.5 80.5v5.6" stroke="#000" stroke-width=".75"/>
<path d="M639.5 720.5v-5.6M639.5 80.5v5.6" stroke="#000" stroke-width=".75"/>
<path d="M680.5 720.5v-5.6M680.5 80.5v5.6" stroke="#000" stroke-width=".75"/>
<path d="M722.5 720.5v-5.6M722.5 80.5v5.6" stroke="#000" stroke-width=".75"/>
<path d="M556.5 720.5h5.6M733.5 720.5h-5.6" stroke="#000" stroke-width=".75"/>
<path d="M556.5 587.5h5.6M733.5 587.5h-5.6" stroke="#000" stroke-width=".75"/>
<path d="M556.5 453.5h5.6M733.5 453.5h-5.6" stroke="#000" stroke-width=".75"/>
<path d="M556.5 320.5h5.6M733.5 320.5h-5.6" stroke="#000" stroke-width=".75"/>
<path d="M556.5 187.5h5.6M733.5 187.5h-5.6" stroke="#000" stroke-width=".75"/>
<rect x="556.5" y="80.5" width="177.0" height="640" fill="none" stroke="#000" stroke-width="1.39"/>
<path d="M768.5 720.5v-5.6M768.5 80.5v5.6" stroke="#000" stroke-width=".75"/>
<path d="M810.5 720.5v-5.6M810.5 80.5v5.6" stroke="#000" stroke-width=".75"/>
<path d="M851.5 720.5v-5.6M851.5 80.5v5.6" stroke="#000" stroke-width=".75"/>
<path d="M892.5 720.5v-5.6M892.5 80.5v5.6" stroke="#000" stroke-width=".75"/>
<path d="M934.5 720.5v-5.6M934.5 80.5v5.6" stroke="#000" stroke-width=".75"/>
<path d="M768.5 720.5h5.6M945.5 720.5h-5.6" stroke="#000" stroke-width=".75"/>
<path d="M768.5 587.5h5.6M945.5 587.5h-5.6" stroke="#000" stroke-width=".75"/>
<path d="M768.5 453.5h5.6M945.5 453.5h-5.6" stroke="#000" stroke-width=".75"/>
<path d="M768.5 320.5h5.6M945.5 320.5h-5.6" stroke="#000" stroke-width=".75"/>
<path d="M768.5 187.5h5.6M945.5 187.5h-5.6" stroke="#000" stroke-width=".75"/>
<rect x="768.5" y="80.5" width="177.0" height="640" fill="none" stroke="#000" stroke-width="1.39"/>
<rect x="1019.50" y="160.5" width="15.10" height="480" fill="url(#jet)"/>
<path d="M1022.5 160.5v5.6M1022.5 640.5v-5.6" stroke="#000" stroke-width=".75"/>
<path d="M1025.5 160.5v5.6M1025.5 640.5v-5.6" stroke="#000" stroke-width=".75"/>
<path d="M1028.5 160.5v5.6M1028.5 640.5v-5.6" stroke="#000" stroke-width=".75"/>
<path d="M1031.5 160.5v5.6M1031.5 640.5v-5.6" stroke="#000" stroke-width=".75"/>
<path d="M1019.5 200.5h5.6M1034.6 200.5h-5.6" stroke="#000" stroke-width=".75"/>
<path d="M1019.5 267.5h5.6M1034.6 267.5h-5.6" stroke="#000" stroke-width=".75"/>
<path d="M1019.5 333.5h5.6M1034.6 333.5h-5.6" stroke="#000" stroke-width=".75"/>
<path d="M1019.5 400.5h5.6M1034.6 400.5h-5.6" stroke="#000" stroke-width=".75"/>
<path d="M1019.5 467.5h5.6M1034.6 467.5h-5.6" stroke="#000" stroke-width=".75"/>
<path d="M1019.5 533.5h5.6M1034.6 533.5h-5.6" stroke="#000" stroke-width=".75"/>
<path d="M1019.5 600.5h5.6M1034.6 600.5h-5.6" stroke="#000" stroke-width=".75"/>
<rect x="1019.50" y="160.5" width="15.10" height="480" fill="none" stroke="#000" stroke-width="1.39"/>
<rect x="1016.7" y="646" width="1" height="1" fill="#000" fill-opacity="0.65"/>
<rect x="1019.8" y="646" width="1" height="1" fill="#000" fill-opacity="0.60"/>
<rect x="1022.8" y="646" width="1" height="1" fill="#000" fill-opacity="0.60"/>
<rect x="1025.9" y="646" width="1" height="1" fill="#000" fill-opacity="0.30"/>
<rect x="1028.9" y="646" width="1" height="1" fill="#000" fill-opacity="0.30"/>
<rect x="1032.0" y="646" width="1" height="1" fill="#000" fill-opacity="0.25"/>
<g opacity=".999"><text x="524.8" y="26.2" font-size="12.90" textLength="128.8" lengthAdjust="spacingAndGlyphs">2019-12-19 0.0-24.0</text>
<text x="132.5" y="72.6" font-size="15.90" textLength="175.2" lengthAdjust="spacingAndGlyphs">XX, V4*V9=EA05*EA07</text>
<text x="119.6" y="736.0" font-size="12.90" textLength="23.9" lengthAdjust="spacingAndGlyphs">320</text>
<text x="161.1" y="736.0" font-size="12.90" textLength="23.9" lengthAdjust="spacingAndGlyphs">335</text>
<text x="202.5" y="736.0" font-size="12.90" textLength="23.9" lengthAdjust="spacingAndGlyphs">350</text>
<text x="244.0" y="736.0" font-size="12.90" textLength="23.9" lengthAdjust="spacingAndGlyphs">365</text>
<text x="285.5" y="736.0" font-size="12.90" textLength="23.9" lengthAdjust="spacingAndGlyphs">380</text>
<text x="118.0" y="724.0" font-size="12.90" textLength="8.0" lengthAdjust="spacingAndGlyphs">0</text>
<text x="118.0" y="590.7" font-size="12.90" textLength="8.0" lengthAdjust="spacingAndGlyphs">5</text>
<text x="110.0" y="457.3" font-size="12.90" textLength="15.9" lengthAdjust="spacingAndGlyphs">10</text>
<text x="110.0" y="324.0" font-size="12.90" textLength="15.9" lengthAdjust="spacingAndGlyphs">15</text>
<text x="110.0" y="190.7" font-size="12.90" textLength="15.9" lengthAdjust="spacingAndGlyphs">20</text>
<text x="344.8" y="72.6" font-size="15.90" textLength="175.2" lengthAdjust="spacingAndGlyphs">YY, V4*V9=EA05*EA07</text>
<text x="331.9" y="736.0" font-size="12.90" textLength="23.9" lengthAdjust="spacingAndGlyphs">320</text>
<text x="373.4" y="736.0" font-size="12.90" textLength="23.9" lengthAdjust="spacingAndGlyphs">335</text>
<text x="414.8" y="736.0" font-size="12.90" textLength="23.9" lengthAdjust="spacingAndGlyphs">350</text>
<text x="456.3" y="736.0" font-size="12.90" textLength="23.9" lengthAdjust="spacingAndGlyphs">365</text>
<text x="497.7" y="736.0" font-size="12.90" textLength="23.9" lengthAdjust="spacingAndGlyphs">380</text>
<text x="330.3" y="724.0" font-size="12.90" textLength="8.0" lengthAdjust="spacingAndGlyphs">0</text>
<text x="330.3" y="590.7" font-size="12.90" textLength="8.0" lengthAdjust="spacingAndGlyphs">5</text>
<text x="322.3" y="457.3" font-size="12.90" textLength="15.9" lengthAdjust="spacingAndGlyphs">10</text>
<text x="322.3" y="324.0" font-size="12.90" textLength="15.9" lengthAdjust="spacingAndGlyphs">15</text>
<text x="322.3" y="190.7" font-size="12.90" textLength="15.9" lengthAdjust="spacingAndGlyphs">20</text>
<text x="557.1" y="72.6" font-size="15.90" textLength="175.2" lengthAdjust="spacingAndGlyphs">XY, V4*V9=EA05*EA07</text>
<text x="544.2" y="736.0" font-size="12.90" textLength="23.9" lengthAdjust="spacingAndGlyphs">320</text>
<text x="585.6" y="736.0" font-size="12.90" textLength="23.9" lengthAdjust="spacingAndGlyphs">335</text>
<text x="627.1" y="736.0" font-size="12.90" textLength="23.9" lengthAdjust="spacingAndGlyphs">350</text>
<text x="668.6" y="736.0" font-size="12.90" textLength="23.9" lengthAdjust="spacingAndGlyphs">365</text>
<text x="710.0" y="736.0" font-size="12.90" textLength="23.9" lengthAdjust="spacingAndGlyphs">380</text>
<text x="542.6" y="724.0" font-size="12.90" textLength="8.0" lengthAdjust="spacingAndGlyphs">0</text>
<text x="542.6" y="590.7" font-size="12.90" textLength="8.0" lengthAdjust="spacingAndGlyphs">5</text>
<text x="534.6" y="457.3" font-size="12.90" textLength="15.9" lengthAdjust="spacingAndGlyphs">10</text>
<text x="534.6" y="324.0" font-size="12.90" textLength="15.9" lengthAdjust="spacingAndGlyphs">15</text>
<text x="534.6" y="190.7" font-size="12.90" textLength="15.9" lengthAdjust="spacingAndGlyphs">20</text>
<text x="769.3" y="72.6" font-size="15.90" textLength="175.2" lengthAdjust="spacingAndGlyphs">YX, V4*V9=EA05*EA07</text>
<text x="756.5" y="736.0" font-size="12.90" textLength="23.9" lengthAdjust="spacingAndGlyphs">320</text>
<text x="797.9" y="736.0" font-size="12.90" textLength="23.9" lengthAdjust="spacingAndGlyphs">335</text>
<text x="839.4" y="736.0" font-size="12.90" textLength="23.9" lengthAdjust="spacingAndGlyphs">350</text>
<text x="880.8" y="736.0" font-size="12.90" textLength="23.9" lengthAdjust="spacingAndGlyphs">365</text>
<text x="922.3" y="736.0" font-size="12.90" textLength="23.9" lengthAdjust="spacingAndGlyphs">380</text>
<text x="754.8" y="724.0" font-size="12.90" textLength="8.0" lengthAdjust="spacingAndGlyphs">0</text>
<text x="754.8" y="590.7" font-size="12.90" textLength="8.0" lengthAdjust="spacingAndGlyphs">5</text>
<text x="746.9" y="457.3" font-size="12.90" textLength="15.9" lengthAdjust="spacingAndGlyphs">10</text>
<text x="746.9" y="324.0" font-size="12.90" textLength="15.9" lengthAdjust="spacingAndGlyphs">15</text>
<text x="746.9" y="190.7" font-size="12.90" textLength="15.9" lengthAdjust="spacingAndGlyphs">20</text>
<text x="432.0" y="754.6" font-size="12.90" textLength="103.4" lengthAdjust="spacingAndGlyphs">frequency (MHz)</text>
<text x="101.0" y="433.0" font-size="12.90" textLength="65.7" lengthAdjust="spacingAndGlyphs" transform="rotate(-90 101.0 433.0)">UT (hours)</text>
<text x="973.8" y="439.6" font-size="12.90" textLength="79.0" lengthAdjust="spacingAndGlyphs" transform="rotate(-90 973.8 439.6)">phase (deg.)</text>
<text x="992.4" y="203.2" font-size="11.40" textLength="21.2" lengthAdjust="spacingAndGlyphs">150</text>
<text x="992.4" y="269.9" font-size="11.40" textLength="21.2" lengthAdjust="spacingAndGlyphs">100</text>
<text x="999.5" y="336.5" font-size="11.40" textLength="14.1" lengthAdjust="spacingAndGlyphs">50</text>
<text x="1006.5" y="403.2" font-size="11.40" textLength="7.1" lengthAdjust="spacingAndGlyphs">0</text>
<text x="990.2" y="469.9" font-size="11.40" textLength="23.4" lengthAdjust="spacingAndGlyphs">−50</text>
<text x="983.1" y="536.5" font-size="11.40" textLength="30.5" lengthAdjust="spacingAndGlyphs">−100</text>
<text x="983.1" y="603.2" font-size="11.40" textLength="30.5" lengthAdjust="spacingAndGlyphs">−150</text></g>
</svg>
</body></html>
